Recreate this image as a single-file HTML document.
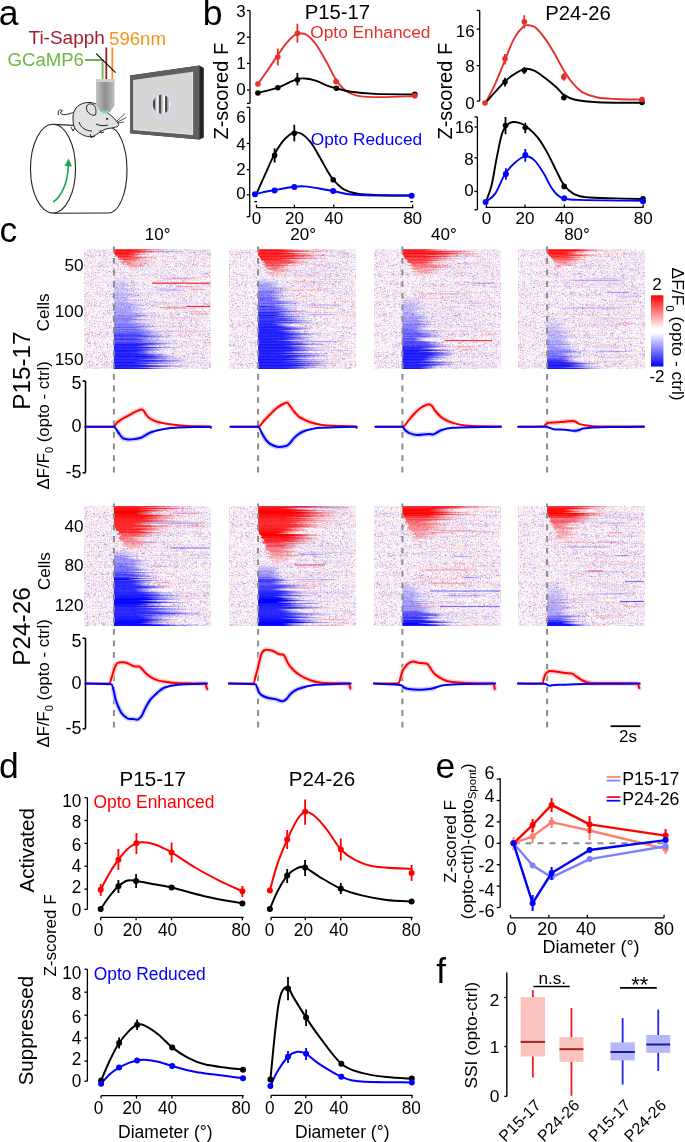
<!DOCTYPE html>
<html><head><meta charset="utf-8"><title>Figure</title>
<style>html,body{margin:0;padding:0;background:#fff;}svg{display:block;}text{font-family:"Liberation Sans",sans-serif;}</style>
</head><body>
<svg style="will-change:transform" width="685" height="1142" viewBox="0 0 685 1142" font-family="Liberation Sans, sans-serif">
<rect width="685" height="1142" fill="#fff"/>
<text x="-1.2" y="25.3" font-size="35.5" fill="#000" text-anchor="start">a</text>
<text x="28.5" y="44.3" font-size="19" fill="#a01f2a" text-anchor="start">Ti-Sapph</text>
<text x="109.1" y="44.5" font-size="18.6" fill="#f7941d" text-anchor="start">596nm</text>
<text x="7.5" y="66.3" font-size="18.6" fill="#6cb845" text-anchor="start">GCaMP6</text>
<polyline points="85,60 102.6,60 102.6,79" fill="none" stroke="#6cb845" stroke-width="1.8"/>
<line x1="106.3" y1="47.5" x2="106.3" y2="79" stroke="#9e1b24" stroke-width="1.8"/>
<line x1="112.3" y1="47.5" x2="112.3" y2="79" stroke="#f7941d" stroke-width="1.8"/>
<line x1="96.2" y1="53.7" x2="115.6" y2="72.7" stroke="#000" stroke-width="1.1"/>
<path d="M130 75.5 L199.5 65.6 L203.8 68 L203.8 137.6 L199.5 139.4 L130 133.2 Z" fill="#232323"/>
<path d="M130 75.5 L199.5 65.6 L199.5 139.4 L130 133.2 Z" fill="#5f5f5f"/>
<path d="M133.1 79.9 L192.6 71.8 L192.6 134.5 L133.1 129.5 Z" fill="#d6d6d6"/>
<rect x="152" y="93.8" width="21" height="21.8" fill="#d9d2ea"/>
<defs><clipPath id="gclip"><ellipse cx="161.6" cy="104.2" rx="8.9" ry="9.6"/></clipPath></defs>
<g clip-path="url(#gclip)"><rect x="152" y="94" width="21" height="21" fill="#f4f4f4"/><rect x="152.6" y="94" width="2.6" height="21" fill="#4c4c4c"/><rect x="158.8" y="94" width="2.6" height="21" fill="#4c4c4c"/><rect x="165" y="94" width="2.6" height="21" fill="#4c4c4c"/><rect x="171.2" y="94" width="2.6" height="21" fill="#4c4c4c"/><rect x="155.2" y="94" width="1.2" height="21" fill="#a8a8a8"/><rect x="161.4" y="94" width="1.2" height="21" fill="#a8a8a8"/><rect x="167.6" y="94" width="1.2" height="21" fill="#a8a8a8"/></g>
<path d="M192.6 71.8 L192.6 134.5 L133.1 129.5" fill="none" stroke="#f2f2f2" stroke-width="0.9"/>
<path d="M53 124.4 L108.5 127 A18.5 43 0 0 1 108.5 213 L54 213.2" fill="#fff" stroke="#222" stroke-width="1.1"/>
<ellipse cx="53" cy="168.7" rx="22.5" ry="44.4" fill="#fff" stroke="#222" stroke-width="1.1"/>
<path d="M53.3 202 C62 196 68 182 68.3 165" fill="none" stroke="#1aa84f" stroke-width="1.6"/>
<path d="M64.5 166 L68.5 158.5 L72 166.5 Z" fill="#1aa84f"/>
<g stroke="#111" stroke-width="0.9" fill="#e2e2e2" stroke-linejoin="round"><path d="M58.5 115 C57 110 61 108.5 62.5 111 C60.5 111 60 113 61.5 114.2 C64 115.5 69 114 73 112.5" fill="none"/><path d="M73 120 C72 108 80 102 90 102.5 C96 102.8 100 106 103 110 C108 113 114 117 118 123 C119.5 125 118 127 115.5 127 C112 128.5 109 128 106 129 C100 131 96 136 92 136.5 C86 137.5 80 134 77 131 C74 128 73 124 73 120 Z"/><path d="M86.5 109 C86 104 90 103 93 104.5 C96 106 96.5 111 95.5 115 C92 116 87.5 113.5 86.5 109 Z"/><path d="M79 122 C81 128 86 131 92 131" fill="none"/><path d="M96 124 C100 126 104 126 108 125" fill="none"/><path d="M71 127 L73 131 L75 128" fill="none"/><path d="M90 134 L91 137.5 L95 136" fill="none"/><path d="M100 130 L101 133 L104 132" fill="none"/></g>
<ellipse cx="107" cy="118.8" rx="1.2" ry="0.9" fill="#111"/>
<g stroke="#111" stroke-width="0.7"><line x1="117" y1="121" x2="125" y2="113.5"/><line x1="117.5" y1="122" x2="126.5" y2="117.5"/><line x1="117.5" y1="123" x2="124" y2="122"/></g>
<defs><linearGradient id="objg" x1="0" x2="1" y1="0" y2="0"><stop offset="0" stop-color="#c4c4c4"/><stop offset="0.5" stop-color="#8e8e8e"/><stop offset="1" stop-color="#c0c0c0"/></linearGradient><linearGradient id="objv" x1="0" x2="0" y1="0" y2="1"><stop offset="0" stop-color="#fff" stop-opacity="0.25"/><stop offset="0.15" stop-color="#fff" stop-opacity="0"/><stop offset="1" stop-color="#fff" stop-opacity="0"/></linearGradient></defs>
<path d="M96 79 H114.5 V105.5 L110 112 H101 L96 105.5 Z" fill="url(#objg)"/>
<path d="M96 79 H114.5 V82 H96 Z" fill="#d0d0d0"/>
<path d="M101.5 110.5 H109.5 L108.5 113.5 H102.5 Z" fill="#7ccfd6"/>
<text x="202.7" y="25.1" font-size="35.5" fill="#000" text-anchor="start">b</text>
<text x="228.2" y="91.2" font-size="20" fill="#000" text-anchor="middle" transform="rotate(-90 228.2 91.2)">Z-scored F</text>
<text x="452.4" y="91.2" font-size="20" fill="#000" text-anchor="middle" transform="rotate(-90 452.4 91.2)">Z-scored F</text>
<text x="304.7" y="19.2" font-size="20.3" fill="#000" text-anchor="start">P15-17</text>
<text x="545.3" y="19.5" font-size="20.3" fill="#000" text-anchor="start">P24-26</text>
<text x="310.3" y="37.6" font-size="17.3" fill="#e8302a" text-anchor="start">Opto Enhanced</text>
<text x="310.7" y="144.6" font-size="17.3" fill="#0000ff" text-anchor="start">Opto Reduced</text>
<line x1="250" y1="10.5" x2="250" y2="103.4" stroke="#000" stroke-width="1.3"/>
<line x1="247" y1="10.5" x2="250" y2="10.5" stroke="#000" stroke-width="1.3"/>
<line x1="247" y1="37.2" x2="250" y2="37.2" stroke="#000" stroke-width="1.3"/>
<line x1="247" y1="63.4" x2="250" y2="63.4" stroke="#000" stroke-width="1.3"/>
<line x1="247" y1="90" x2="250" y2="90" stroke="#000" stroke-width="1.3"/>
<line x1="247" y1="103.4" x2="250" y2="103.4" stroke="#000" stroke-width="1.3"/>
<text x="245.7" y="17" font-size="17" fill="#000" text-anchor="end">3</text>
<text x="245.7" y="43.6" font-size="17" fill="#000" text-anchor="end">2</text>
<text x="245.7" y="68.9" font-size="17" fill="#000" text-anchor="end">1</text>
<text x="245.7" y="95.2" font-size="17" fill="#000" text-anchor="end">0</text>
<path d="M257.8 84.1 C259.27 82.05 263.38 76.47 266.6 71.8 C269.82 67.13 273.9 60.77 277.1 56.1 C280.3 51.43 282.88 47.32 285.8 43.8 C288.72 40.28 292.25 36.75 294.6 35 C296.95 33.25 297.85 33.3 299.9 33.3 C301.95 33.3 304.28 33.25 306.9 35 C309.52 36.75 312.4 39.42 315.6 43.8 C318.8 48.18 322.6 55.17 326.1 61.3 C329.6 67.43 333.08 75.52 336.6 80.6 C340.12 85.68 343.1 89.17 347.2 91.8 C351.3 94.43 355.37 95.52 361.2 96.4 C367.03 97.28 373.33 97.13 382.2 97.1 C391.07 97.07 409.03 96.35 414.4 96.2" fill="none" stroke="#e8302a" stroke-width="1.9" stroke-linecap="round" stroke-linejoin="round"/>
<path d="M257.8 92.9 C261.13 92.02 272.55 89.37 277.8 87.6 C283.05 85.83 285.92 83.77 289.3 82.3 C292.68 80.83 295.47 79.43 298.1 78.8 C300.73 78.17 302.18 78.2 305.1 78.5 C308.02 78.8 311.8 79.38 315.6 80.6 C319.4 81.82 324.4 84.52 327.9 85.8 C331.4 87.08 332.8 87.3 336.6 88.3 C340.4 89.3 344.27 90.87 350.7 91.8 C357.13 92.73 364.58 93.47 375.2 93.9 C385.82 94.33 407.87 94.32 414.4 94.4" fill="none" stroke="#000" stroke-width="1.9" stroke-linecap="round" stroke-linejoin="round"/>
<line x1="277.8" y1="48.4" x2="277.8" y2="65.5" stroke="#e8302a" stroke-width="1.8"/>
<line x1="297.4" y1="23.7" x2="297.4" y2="42.7" stroke="#e8302a" stroke-width="1.8"/>
<line x1="336" y1="78.5" x2="336" y2="84" stroke="#e8302a" stroke-width="1.8"/>
<line x1="297.4" y1="73" x2="297.4" y2="85.4" stroke="#000" stroke-width="1.8"/>
<circle cx="257.9" cy="93" r="2.8" fill="#000"/>
<circle cx="277.8" cy="87.7" r="2.8" fill="#000"/>
<circle cx="297.4" cy="79.7" r="2.8" fill="#000"/>
<circle cx="336.4" cy="88.3" r="2.8" fill="#000"/>
<circle cx="414.8" cy="94.3" r="2.8" fill="#000"/>
<circle cx="257.9" cy="84" r="2.8" fill="#e8302a"/>
<circle cx="277.8" cy="57" r="2.8" fill="#e8302a"/>
<circle cx="297.4" cy="33.2" r="2.8" fill="#e8302a"/>
<circle cx="336" cy="81.6" r="2.8" fill="#e8302a"/>
<circle cx="414.8" cy="95.8" r="2.8" fill="#e8302a"/>
<line x1="249.7" y1="107.3" x2="249.7" y2="216.7" stroke="#000" stroke-width="1.3"/>
<line x1="246.7" y1="107.3" x2="249.7" y2="107.3" stroke="#000" stroke-width="1.3"/>
<line x1="246.7" y1="143.5" x2="249.7" y2="143.5" stroke="#000" stroke-width="1.3"/>
<line x1="246.7" y1="169.7" x2="249.7" y2="169.7" stroke="#000" stroke-width="1.3"/>
<line x1="246.7" y1="194.8" x2="249.7" y2="194.8" stroke="#000" stroke-width="1.3"/>
<line x1="246.7" y1="216.7" x2="249.7" y2="216.7" stroke="#000" stroke-width="1.3"/>
<text x="245.7" y="123.4" font-size="17" fill="#000" text-anchor="end">6</text>
<text x="245.7" y="149.7" font-size="17" fill="#000" text-anchor="end">4</text>
<text x="245.7" y="174.9" font-size="17" fill="#000" text-anchor="end">2</text>
<text x="245.7" y="198.6" font-size="17" fill="#000" text-anchor="end">0</text>
<line x1="256.3" y1="207.6" x2="413.3" y2="207.6" stroke="#000" stroke-width="1.3"/>
<line x1="256.5" y1="204.6" x2="256.5" y2="207.6" stroke="#000" stroke-width="1.3"/>
<line x1="294.4" y1="204.6" x2="294.4" y2="207.6" stroke="#000" stroke-width="1.3"/>
<line x1="333.8" y1="204.6" x2="333.8" y2="207.6" stroke="#000" stroke-width="1.3"/>
<line x1="412.6" y1="204.6" x2="412.6" y2="207.6" stroke="#000" stroke-width="1.3"/>
<text x="256.5" y="224.3" font-size="17" fill="#000" text-anchor="middle">0</text>
<text x="294.4" y="224.3" font-size="17" fill="#000" text-anchor="middle">20</text>
<text x="333.8" y="224.3" font-size="17" fill="#000" text-anchor="middle">40</text>
<text x="412.6" y="224.3" font-size="17" fill="#000" text-anchor="middle">80</text>
<path d="M256.1 194.5 C257.55 191.28 261.88 181.63 264.8 175.2 C267.72 168.77 270.68 161.45 273.6 155.9 C276.52 150.35 279.68 145.4 282.3 141.9 C284.92 138.4 287.25 136.48 289.3 134.9 C291.35 133.32 292.55 132.58 294.6 132.4 C296.65 132.22 298.97 132.22 301.6 133.8 C304.23 135.38 307.48 138.22 310.4 141.9 C313.32 145.58 316.18 150.93 319.1 155.9 C322.02 160.87 325.57 167.78 327.9 171.7 C330.23 175.62 330.47 176.48 333.1 179.4 C335.73 182.32 339.6 186.8 343.7 189.2 C347.8 191.6 351.28 192.8 357.7 193.8 C364.12 194.8 373.15 194.92 382.2 195.2 C391.25 195.48 407.03 195.45 412 195.5" fill="none" stroke="#000" stroke-width="1.9" stroke-linecap="round" stroke-linejoin="round"/>
<path d="M256.1 193.8 C259.02 193.22 267.3 191.47 273.6 190.3 C279.9 189.13 288.65 187.45 293.9 186.8 C299.15 186.15 300.9 186.12 305.1 186.4 C309.3 186.68 314.43 187.73 319.1 188.5 C323.77 189.27 327.83 190 333.1 191 C338.37 192 343.68 193.75 350.7 194.5 C357.72 195.25 364.98 195.33 375.2 195.5 C385.42 195.67 405.87 195.5 412 195.5" fill="none" stroke="#0000ff" stroke-width="1.9" stroke-linecap="round" stroke-linejoin="round"/>
<line x1="274.6" y1="148.4" x2="274.6" y2="162.6" stroke="#000" stroke-width="1.8"/>
<line x1="294.3" y1="124.7" x2="294.3" y2="141.4" stroke="#000" stroke-width="1.8"/>
<line x1="254.3" y1="201.6" x2="257" y2="201.6" stroke="#000" stroke-width="1.3"/>
<line x1="410.3" y1="201.6" x2="413" y2="201.6" stroke="#000" stroke-width="1.3"/>
<circle cx="274.6" cy="155.4" r="2.8" fill="#000"/>
<circle cx="294.3" cy="133.2" r="2.8" fill="#000"/>
<circle cx="333.2" cy="179.7" r="2.8" fill="#000"/>
<circle cx="255" cy="194.3" r="3" fill="#0000ff"/>
<circle cx="274.6" cy="190.5" r="3" fill="#0000ff"/>
<circle cx="294.3" cy="187" r="3" fill="#0000ff"/>
<circle cx="333.2" cy="191.1" r="3" fill="#0000ff"/>
<circle cx="411.6" cy="195.8" r="3" fill="#0000ff"/>
<line x1="479.7" y1="10.5" x2="479.7" y2="101.1" stroke="#000" stroke-width="1.3"/>
<line x1="476.7" y1="10.5" x2="479.7" y2="10.5" stroke="#000" stroke-width="1.3"/>
<line x1="476.7" y1="29.1" x2="479.7" y2="29.1" stroke="#000" stroke-width="1.3"/>
<line x1="476.7" y1="65.7" x2="479.7" y2="65.7" stroke="#000" stroke-width="1.3"/>
<line x1="476.7" y1="101.1" x2="479.7" y2="101.1" stroke="#000" stroke-width="1.3"/>
<text x="474.6" y="36.7" font-size="17" fill="#000" text-anchor="end">16</text>
<text x="474.6" y="71.7" font-size="17" fill="#000" text-anchor="end">8</text>
<text x="474.6" y="109.1" font-size="17" fill="#000" text-anchor="end">0</text>
<path d="M485.8 102.4 C487.37 99.3 492.08 90.63 495.2 83.8 C498.32 76.97 501.4 68.85 504.5 61.4 C507.6 53.95 510.7 44.87 513.8 39.1 C516.9 33.33 520.62 29.1 523.1 26.8 C525.58 24.5 526.53 25.12 528.7 25.3 C530.87 25.48 533.32 25.6 536.1 27.9 C538.88 30.2 542.3 34.75 545.4 39.1 C548.5 43.45 551.6 48.73 554.7 54 C557.8 59.27 560.9 65.73 564 70.7 C567.1 75.67 570.2 80.2 573.3 83.8 C576.4 87.4 578.57 90.02 582.6 92.3 C586.63 94.58 591.92 96.38 597.5 97.5 C603.08 98.62 608.65 98.65 616.1 99 C623.55 99.35 637.85 99.5 642.2 99.6" fill="none" stroke="#e8302a" stroke-width="1.9" stroke-linecap="round" stroke-linejoin="round"/>
<path d="M485.8 102.4 C488.92 98.98 499.83 86.55 504.5 81.9 C509.17 77.25 510.4 76.67 513.8 74.5 C517.2 72.33 521.5 69.53 524.9 68.9 C528.3 68.27 530.78 69.15 534.2 70.7 C537.62 72.25 541.67 75.4 545.4 78.2 C549.13 81 553.5 84.72 556.6 87.5 C559.7 90.28 560.9 92.85 564 94.9 C567.1 96.95 569.62 98.58 575.2 99.8 C580.78 101.02 586.33 101.7 597.5 102.2 C608.67 102.7 634.75 102.7 642.2 102.8" fill="none" stroke="#000" stroke-width="1.9" stroke-linecap="round" stroke-linejoin="round"/>
<line x1="505" y1="54" x2="505" y2="64.5" stroke="#e8302a" stroke-width="1.8"/>
<line x1="524.3" y1="15.2" x2="524.3" y2="28.5" stroke="#e8302a" stroke-width="1.8"/>
<line x1="563.8" y1="73" x2="563.8" y2="80.7" stroke="#e8302a" stroke-width="1.8"/>
<line x1="505" y1="77.8" x2="505" y2="86.4" stroke="#000" stroke-width="1.8"/>
<line x1="524.3" y1="67.4" x2="524.3" y2="74" stroke="#000" stroke-width="1.8"/>
<circle cx="505" cy="82" r="2.8" fill="#000"/>
<circle cx="524.3" cy="70.2" r="2.8" fill="#000"/>
<circle cx="563.8" cy="97.7" r="2.8" fill="#000"/>
<circle cx="642" cy="102.5" r="2.8" fill="#000"/>
<circle cx="485" cy="103" r="2.8" fill="#e8302a"/>
<circle cx="505" cy="58.8" r="2.8" fill="#e8302a"/>
<circle cx="524.3" cy="21.8" r="2.8" fill="#e8302a"/>
<circle cx="563.8" cy="76.9" r="2.8" fill="#e8302a"/>
<circle cx="642" cy="99.6" r="2.8" fill="#e8302a"/>
<line x1="477.4" y1="116.9" x2="477.4" y2="209.8" stroke="#000" stroke-width="1.3"/>
<line x1="474.4" y1="116.9" x2="477.4" y2="116.9" stroke="#000" stroke-width="1.3"/>
<line x1="474.4" y1="127" x2="477.4" y2="127" stroke="#000" stroke-width="1.3"/>
<line x1="474.4" y1="157.8" x2="477.4" y2="157.8" stroke="#000" stroke-width="1.3"/>
<line x1="474.4" y1="191.4" x2="477.4" y2="191.4" stroke="#000" stroke-width="1.3"/>
<line x1="474.4" y1="209.8" x2="477.4" y2="209.8" stroke="#000" stroke-width="1.3"/>
<text x="473.7" y="133" font-size="17" fill="#000" text-anchor="end">16</text>
<text x="473.7" y="164.7" font-size="17" fill="#000" text-anchor="end">8</text>
<text x="473.7" y="196.1" font-size="17" fill="#000" text-anchor="end">0</text>
<line x1="485.6" y1="207.4" x2="643.5" y2="207.4" stroke="#000" stroke-width="1.3"/>
<line x1="486.4" y1="204.4" x2="486.4" y2="207.4" stroke="#000" stroke-width="1.3"/>
<line x1="525" y1="204.4" x2="525" y2="207.4" stroke="#000" stroke-width="1.3"/>
<line x1="564.4" y1="204.4" x2="564.4" y2="207.4" stroke="#000" stroke-width="1.3"/>
<line x1="643.2" y1="204.4" x2="643.2" y2="207.4" stroke="#000" stroke-width="1.3"/>
<text x="486.4" y="224.3" font-size="17" fill="#000" text-anchor="middle">0</text>
<text x="525" y="224.3" font-size="17" fill="#000" text-anchor="middle">20</text>
<text x="564.4" y="224.3" font-size="17" fill="#000" text-anchor="middle">40</text>
<text x="643.2" y="224.3" font-size="17" fill="#000" text-anchor="middle">80</text>
<path d="M485.8 201.8 C486.73 199.18 489.53 193.67 491.4 186.1 C493.27 178.53 495.13 165.38 497 156.4 C498.87 147.42 500.43 137.78 502.6 132.2 C504.77 126.62 507.2 124.45 510 122.9 C512.8 121.35 516.28 121.98 519.4 122.9 C522.52 123.82 525.6 125.92 528.7 128.4 C531.8 130.88 534.9 133.77 538 137.8 C541.1 141.83 544.2 147.02 547.3 152.6 C550.4 158.18 553.82 165.9 556.6 171.3 C559.38 176.7 561.22 181.28 564 185 C566.78 188.72 569.57 191.55 573.3 193.6 C577.03 195.65 579.27 196.5 586.4 197.3 C593.53 198.1 606.8 198.12 616.1 198.4 C625.4 198.68 637.85 198.9 642.2 199" fill="none" stroke="#000" stroke-width="1.9" stroke-linecap="round" stroke-linejoin="round"/>
<path d="M485.8 201.8 C487.37 200.43 492.08 198.07 495.2 193.6 C498.32 189.13 501.4 179.97 504.5 175 C507.6 170.03 510.4 166.9 513.8 163.8 C517.2 160.7 521.5 157.02 524.9 156.4 C528.3 155.78 531.1 157.32 534.2 160.1 C537.3 162.88 540.38 168.13 543.5 173.1 C546.62 178.07 549.78 185.73 552.9 189.9 C556.02 194.07 557.87 196.43 562.2 198.1 C566.53 199.77 565.57 199.45 578.9 199.9 C592.23 200.35 631.65 200.65 642.2 200.8" fill="none" stroke="#0000ff" stroke-width="1.9" stroke-linecap="round" stroke-linejoin="round"/>
<line x1="505.5" y1="117" x2="505.5" y2="134.2" stroke="#000" stroke-width="1.8"/>
<line x1="525.3" y1="122.8" x2="525.3" y2="133.2" stroke="#000" stroke-width="1.8"/>
<line x1="505.9" y1="168.3" x2="505.9" y2="179.7" stroke="#0000ff" stroke-width="1.8"/>
<line x1="525.3" y1="149" x2="525.3" y2="161.7" stroke="#0000ff" stroke-width="1.8"/>
<circle cx="505.5" cy="125.6" r="2.8" fill="#000"/>
<circle cx="525.3" cy="127.5" r="2.8" fill="#000"/>
<circle cx="564.2" cy="186.4" r="2.8" fill="#000"/>
<circle cx="643" cy="198.7" r="2.8" fill="#000"/>
<circle cx="485.6" cy="201.9" r="3" fill="#0000ff"/>
<circle cx="505.9" cy="174" r="3" fill="#0000ff"/>
<circle cx="525.3" cy="155" r="3" fill="#0000ff"/>
<circle cx="564.2" cy="198.3" r="3" fill="#0000ff"/>
<circle cx="643" cy="201.2" r="3" fill="#0000ff"/>
<text x="-0.4" y="242.4" font-size="35.5" fill="#000" text-anchor="start">c</text>
<text x="157.7" y="240.2" font-size="17" fill="#000" text-anchor="middle">10°</text>
<text x="303.2" y="240.2" font-size="17" fill="#000" text-anchor="middle">20°</text>
<text x="443.9" y="240.2" font-size="17" fill="#000" text-anchor="middle">40°</text>
<text x="577" y="240.2" font-size="17" fill="#000" text-anchor="middle">80°</text>
<defs><linearGradient id="rf" x1="0" x2="1" y1="0" y2="0"><stop offset="0" stop-color="#ff0000" stop-opacity="1"/><stop offset="0.5" stop-color="#ff0000" stop-opacity="1"/><stop offset="0.75" stop-color="#ff0000" stop-opacity="0.4"/><stop offset="1" stop-color="#ff0000" stop-opacity="0"/></linearGradient><linearGradient id="bf" x1="0" x2="1" y1="0" y2="0"><stop offset="0" stop-color="#0000ff" stop-opacity="1"/><stop offset="0.5" stop-color="#0000ff" stop-opacity="1"/><stop offset="0.75" stop-color="#0000ff" stop-opacity="0.4"/><stop offset="1" stop-color="#0000ff" stop-opacity="0"/></linearGradient><linearGradient id="rs" x1="0" x2="1" y1="0" y2="0"><stop offset="0" stop-color="#ff2020" stop-opacity="0"/><stop offset="0.2" stop-color="#ff2020" stop-opacity="1"/><stop offset="0.8" stop-color="#ff2020" stop-opacity="1"/><stop offset="1" stop-color="#ff2020" stop-opacity="0"/></linearGradient><linearGradient id="bs" x1="0" x2="1" y1="0" y2="0"><stop offset="0" stop-color="#2020ff" stop-opacity="0"/><stop offset="0.2" stop-color="#2020ff" stop-opacity="1"/><stop offset="0.8" stop-color="#2020ff" stop-opacity="1"/><stop offset="1" stop-color="#2020ff" stop-opacity="0"/></linearGradient><filter id="hblur" x="-2%" y="-2%" width="104%" height="104%"><feGaussianBlur stdDeviation="0.45"/></filter><filter id="nzf" x="0" y="0" width="100%" height="100%" color-interpolation-filters="sRGB"><feTurbulence type="fractalNoise" baseFrequency="0.45 0.9" numOctaves="2" seed="4" result="n"/><feColorMatrix in="n" type="matrix" values="0.75 -0.75 0 0 0.5  0.75 -0.75 0 0 0.5  0.75 -0.75 0 0 0.5  0 0 0 0 1"/><feComponentTransfer><feFuncR type="table" tableValues="0.5 1 1"/><feFuncG type="table" tableValues="0.5 1 0.5"/><feFuncB type="table" tableValues="1 1 0.5"/></feComponentTransfer></filter></defs>
<g filter="url(#hblur)"><rect x="84.3" y="249.3" width="126.1" height="119.5" fill="#fff" filter="url(#nzf)"/><rect x="113.9" y="249.3" width="56.11" height="0.9" fill="url(#rf)" fill-opacity="1"/><rect x="157.83" y="249.3" width="35.01" height="0.85" fill="#ff3030" fill-opacity="0.08"/><rect x="113.9" y="250.05" width="35.37" height="0.9" fill="url(#rf)" fill-opacity="1"/><rect x="183.93" y="250.05" width="21.42" height="0.85" fill="#ff3030" fill-opacity="0.12"/><rect x="113.9" y="250.79" width="53.59" height="0.9" fill="url(#rf)" fill-opacity="1"/><rect x="159.6" y="250.79" width="12.43" height="0.85" fill="#ff3030" fill-opacity="0.06"/><rect x="149.39" y="250.79" width="35.27" height="0.95" fill="url(#bs)" fill-opacity="0.28"/><rect x="113.9" y="251.54" width="46.98" height="0.9" fill="url(#rf)" fill-opacity="1"/><rect x="137.96" y="251.54" width="72.29" height="0.85" fill="#3030ff" fill-opacity="0.11"/><rect x="113.9" y="252.29" width="35.46" height="0.9" fill="url(#rf)" fill-opacity="0.98"/><rect x="180.18" y="252.29" width="18.09" height="0.85" fill="#3030ff" fill-opacity="0.07"/><rect x="114.29" y="253.03" width="26.01" height="0.9" fill="url(#rf)" fill-opacity="1"/><rect x="114.73" y="253.78" width="36.74" height="0.9" fill="url(#rf)" fill-opacity="1"/><rect x="115.59" y="254.53" width="25.17" height="0.9" fill="url(#rf)" fill-opacity="0.89"/><rect x="115.76" y="255.28" width="27.97" height="0.9" fill="url(#rf)" fill-opacity="0.83"/><rect x="182.84" y="255.28" width="13.12" height="0.85" fill="#3030ff" fill-opacity="0.08"/><rect x="117.6" y="256.02" width="22.27" height="0.9" fill="url(#rf)" fill-opacity="0.9"/><rect x="150.3" y="256.02" width="20.67" height="0.85" fill="#ff3030" fill-opacity="0.12"/><rect x="117.1" y="256.77" width="40.94" height="0.9" fill="url(#rf)" fill-opacity="0.68"/><rect x="187.8" y="256.77" width="18.08" height="0.85" fill="#ff3030" fill-opacity="0.12"/><rect x="118.07" y="257.52" width="36.76" height="0.9" fill="url(#rf)" fill-opacity="0.62"/><rect x="120.25" y="257.52" width="17.22" height="0.85" fill="#3030ff" fill-opacity="0.06"/><rect x="121.24" y="258.26" width="26.59" height="0.9" fill="url(#rf)" fill-opacity="0.61"/><rect x="163.6" y="258.26" width="41.89" height="0.85" fill="#ff3030" fill-opacity="0.05"/><rect x="118.68" y="259.01" width="22.38" height="0.9" fill="url(#rf)" fill-opacity="0.71"/><rect x="122.76" y="259.76" width="35.92" height="0.9" fill="url(#rf)" fill-opacity="0.46"/><rect x="124.12" y="260.5" width="13.76" height="0.9" fill="url(#rf)" fill-opacity="0.4"/><rect x="174.85" y="260.5" width="16.57" height="0.85" fill="#3030ff" fill-opacity="0.09"/><rect x="119.59" y="261.25" width="30.54" height="0.9" fill="url(#rf)" fill-opacity="0.38"/><rect x="162.29" y="261.25" width="42.49" height="0.85" fill="#3030ff" fill-opacity="0.06"/><rect x="121.41" y="262" width="13.73" height="0.9" fill="url(#rf)" fill-opacity="0.35"/><rect x="119.13" y="262" width="24.32" height="0.85" fill="#ff3030" fill-opacity="0.09"/><rect x="127.12" y="262.74" width="28.66" height="0.9" fill="url(#rf)" fill-opacity="0.34"/><rect x="120.79" y="263.49" width="15.66" height="0.9" fill="url(#rf)" fill-opacity="0.34"/><rect x="192.63" y="263.49" width="15.44" height="0.85" fill="#3030ff" fill-opacity="0.04"/><rect x="123.59" y="264.24" width="25.4" height="0.9" fill="url(#rf)" fill-opacity="0.29"/><rect x="129.31" y="264.98" width="21.83" height="0.9" fill="url(#rf)" fill-opacity="0.25"/><rect x="125.13" y="265.73" width="25.99" height="0.9" fill="url(#rf)" fill-opacity="0.24"/><rect x="130.08" y="266.48" width="10.78" height="0.9" fill="url(#rf)" fill-opacity="0.21"/><rect x="128.79" y="267.23" width="7.43" height="0.9" fill="url(#rf)" fill-opacity="0.15"/><rect x="132.78" y="267.97" width="7.87" height="0.9" fill="url(#rf)" fill-opacity="0.12"/><rect x="128.68" y="268.72" width="4" height="0.9" fill="url(#rf)" fill-opacity="0.08"/><rect x="131.28" y="269.47" width="4" height="0.9" fill="url(#rf)" fill-opacity="0.05"/><rect x="133.81" y="269.47" width="56.5" height="0.85" fill="#3030ff" fill-opacity="0.09"/><rect x="114.88" y="270.21" width="35.74" height="0.85" fill="#3030ff" fill-opacity="0.06"/><rect x="191.03" y="271.71" width="13.06" height="0.85" fill="#3030ff" fill-opacity="0.06"/><rect x="141.28" y="273.95" width="18.05" height="0.85" fill="#3030ff" fill-opacity="0.11"/><rect x="128.53" y="275.44" width="42.39" height="0.85" fill="#ff3030" fill-opacity="0.06"/><rect x="113.9" y="276.93" width="20.9" height="0.9" fill="url(#bf)" fill-opacity="0.02"/><rect x="113.9" y="277.68" width="10.98" height="0.9" fill="url(#bf)" fill-opacity="0.02"/><rect x="168.11" y="277.68" width="30.57" height="0.95" fill="url(#rs)" fill-opacity="0.35"/><rect x="113.9" y="278.43" width="12.79" height="0.9" fill="url(#bf)" fill-opacity="0.03"/><rect x="116.04" y="278.43" width="79.99" height="0.85" fill="#ff3030" fill-opacity="0.05"/><rect x="162.03" y="278.43" width="29.9" height="0.95" fill="url(#bs)" fill-opacity="0.31"/><rect x="113.9" y="279.18" width="24.83" height="0.9" fill="url(#bf)" fill-opacity="0.05"/><rect x="113.9" y="279.92" width="14.27" height="0.9" fill="url(#bf)" fill-opacity="0.06"/><rect x="154.75" y="279.92" width="42.61" height="0.85" fill="#ff3030" fill-opacity="0.06"/><rect x="113.9" y="280.67" width="19.85" height="0.9" fill="url(#bf)" fill-opacity="0.07"/><rect x="113.9" y="281.42" width="24.66" height="0.9" fill="url(#bf)" fill-opacity="0.07"/><rect x="113.9" y="282.16" width="24.28" height="0.9" fill="url(#bf)" fill-opacity="0.1"/><rect x="153.13" y="282.16" width="39.57" height="0.85" fill="#3030ff" fill-opacity="0.07"/><rect x="113.9" y="282.91" width="26.2" height="0.9" fill="url(#bf)" fill-opacity="0.11"/><rect x="113.9" y="283.66" width="16.95" height="0.9" fill="url(#bf)" fill-opacity="0.11"/><rect x="113.9" y="284.4" width="26.29" height="0.9" fill="url(#bf)" fill-opacity="0.12"/><rect x="191.75" y="284.4" width="18.48" height="0.85" fill="#3030ff" fill-opacity="0.08"/><rect x="113.9" y="285.15" width="30.22" height="0.9" fill="url(#bf)" fill-opacity="0.11"/><rect x="113.9" y="285.9" width="22.23" height="0.9" fill="url(#bf)" fill-opacity="0.09"/><rect x="180.35" y="285.9" width="19.77" height="0.85" fill="#ff3030" fill-opacity="0.1"/><rect x="175.09" y="285.9" width="18.51" height="0.95" fill="url(#rs)" fill-opacity="0.35"/><rect x="113.9" y="286.64" width="17.23" height="0.9" fill="url(#bf)" fill-opacity="0.1"/><rect x="176.49" y="286.64" width="30.09" height="0.85" fill="#3030ff" fill-opacity="0.12"/><rect x="113.9" y="287.39" width="16.31" height="0.9" fill="url(#bf)" fill-opacity="0.16"/><rect x="159.46" y="287.39" width="21.88" height="0.85" fill="#3030ff" fill-opacity="0.09"/><rect x="113.9" y="288.14" width="25.36" height="0.9" fill="url(#bf)" fill-opacity="0.16"/><rect x="146.88" y="288.14" width="55.24" height="0.85" fill="#3030ff" fill-opacity="0.06"/><rect x="113.9" y="288.88" width="25.02" height="0.9" fill="url(#bf)" fill-opacity="0.17"/><rect x="131.28" y="288.88" width="47.04" height="0.85" fill="#3030ff" fill-opacity="0.09"/><rect x="188.06" y="288.88" width="18.79" height="0.95" fill="url(#rs)" fill-opacity="0.35"/><rect x="113.9" y="289.63" width="24.7" height="0.9" fill="url(#bf)" fill-opacity="0.14"/><rect x="155.11" y="289.63" width="31.67" height="0.95" fill="url(#bs)" fill-opacity="0.38"/><rect x="113.9" y="290.38" width="24.67" height="0.9" fill="url(#bf)" fill-opacity="0.13"/><rect x="151.41" y="290.38" width="49.96" height="0.85" fill="#3030ff" fill-opacity="0.08"/><rect x="113.9" y="291.12" width="27.82" height="0.9" fill="url(#bf)" fill-opacity="0.12"/><rect x="113.9" y="291.87" width="16.35" height="0.9" fill="url(#bf)" fill-opacity="0.17"/><rect x="133.56" y="291.87" width="55.92" height="0.85" fill="#ff3030" fill-opacity="0.07"/><rect x="113.9" y="292.62" width="30.79" height="0.9" fill="url(#bf)" fill-opacity="0.12"/><rect x="158.06" y="292.62" width="20.61" height="0.85" fill="#ff3030" fill-opacity="0.08"/><rect x="113.9" y="293.37" width="24.7" height="0.9" fill="url(#bf)" fill-opacity="0.15"/><rect x="127.72" y="293.37" width="24.85" height="0.85" fill="#3030ff" fill-opacity="0.09"/><rect x="113.9" y="294.11" width="29.08" height="0.9" fill="url(#bf)" fill-opacity="0.19"/><rect x="113.9" y="294.86" width="33.56" height="0.9" fill="url(#bf)" fill-opacity="0.19"/><rect x="113.9" y="295.61" width="36.32" height="0.9" fill="url(#bf)" fill-opacity="0.15"/><rect x="200.26" y="295.61" width="10.13" height="0.85" fill="#ff3030" fill-opacity="0.06"/><rect x="113.9" y="296.35" width="19.13" height="0.9" fill="url(#bf)" fill-opacity="0.15"/><rect x="113.9" y="297.1" width="19.98" height="0.9" fill="url(#bf)" fill-opacity="0.21"/><rect x="173.17" y="297.1" width="10.48" height="0.85" fill="#ff3030" fill-opacity="0.09"/><rect x="113.9" y="297.85" width="19.97" height="0.9" fill="url(#bf)" fill-opacity="0.23"/><rect x="179.48" y="297.85" width="20.52" height="0.85" fill="#3030ff" fill-opacity="0.06"/><rect x="113.9" y="298.59" width="18.47" height="0.9" fill="url(#bf)" fill-opacity="0.15"/><rect x="158.43" y="298.59" width="33.87" height="0.85" fill="#ff3030" fill-opacity="0.05"/><rect x="113.9" y="299.34" width="39.93" height="0.9" fill="url(#bf)" fill-opacity="0.23"/><rect x="113.9" y="300.09" width="39.49" height="0.9" fill="url(#bf)" fill-opacity="0.15"/><rect x="180.05" y="300.09" width="16.65" height="0.85" fill="#3030ff" fill-opacity="0.08"/><rect x="113.9" y="300.83" width="18.53" height="0.9" fill="url(#bf)" fill-opacity="0.21"/><rect x="113.9" y="301.58" width="28.88" height="0.9" fill="url(#bf)" fill-opacity="0.17"/><rect x="113.9" y="302.33" width="22.47" height="0.9" fill="url(#bf)" fill-opacity="0.17"/><rect x="115.23" y="302.33" width="86.07" height="0.85" fill="#3030ff" fill-opacity="0.1"/><rect x="113.9" y="303.07" width="28.33" height="0.9" fill="url(#bf)" fill-opacity="0.23"/><rect x="157.52" y="303.07" width="52.14" height="0.85" fill="#3030ff" fill-opacity="0.06"/><rect x="113.9" y="303.82" width="37.5" height="0.9" fill="url(#bf)" fill-opacity="0.25"/><rect x="113.9" y="304.57" width="40.33" height="0.9" fill="url(#bf)" fill-opacity="0.27"/><rect x="113.9" y="305.32" width="29.24" height="0.9" fill="url(#bf)" fill-opacity="0.27"/><rect x="113.9" y="306.06" width="31.08" height="0.9" fill="url(#bf)" fill-opacity="0.22"/><rect x="144.66" y="306.06" width="45.6" height="0.85" fill="#3030ff" fill-opacity="0.06"/><rect x="113.9" y="306.81" width="28.15" height="0.9" fill="url(#bf)" fill-opacity="0.27"/><rect x="113.9" y="307.56" width="29.72" height="0.9" fill="url(#bf)" fill-opacity="0.26"/><rect x="113.9" y="308.3" width="39.4" height="0.9" fill="url(#bf)" fill-opacity="0.29"/><rect x="160.98" y="308.3" width="40.43" height="0.95" fill="url(#rs)" fill-opacity="0.25"/><rect x="113.9" y="309.05" width="25.36" height="0.9" fill="url(#bf)" fill-opacity="0.21"/><rect x="122.42" y="309.05" width="29.57" height="0.85" fill="#3030ff" fill-opacity="0.08"/><rect x="113.9" y="309.8" width="35.18" height="0.9" fill="url(#bf)" fill-opacity="0.34"/><rect x="113.9" y="310.54" width="22.75" height="0.9" fill="url(#bf)" fill-opacity="0.33"/><rect x="179.57" y="310.54" width="10.94" height="0.85" fill="#3030ff" fill-opacity="0.05"/><rect x="113.9" y="311.29" width="33.95" height="0.9" fill="url(#bf)" fill-opacity="0.24"/><rect x="186.21" y="311.29" width="18.86" height="0.95" fill="url(#rs)" fill-opacity="0.3"/><rect x="113.9" y="312.04" width="28.71" height="0.9" fill="url(#bf)" fill-opacity="0.28"/><rect x="113.9" y="312.78" width="40.48" height="0.9" fill="url(#bf)" fill-opacity="0.27"/><rect x="115.11" y="312.78" width="30.9" height="0.85" fill="#ff3030" fill-opacity="0.05"/><rect x="113.9" y="313.53" width="45.72" height="0.9" fill="url(#bf)" fill-opacity="0.29"/><rect x="189.54" y="313.53" width="20.53" height="0.95" fill="url(#rs)" fill-opacity="0.38"/><rect x="113.9" y="314.28" width="34.72" height="0.9" fill="url(#bf)" fill-opacity="0.31"/><rect x="113.9" y="315.02" width="47.64" height="0.9" fill="url(#bf)" fill-opacity="0.33"/><rect x="113.9" y="315.77" width="44.73" height="0.9" fill="url(#bf)" fill-opacity="0.42"/><rect x="113.9" y="316.52" width="35.05" height="0.9" fill="url(#bf)" fill-opacity="0.36"/><rect x="118.4" y="316.52" width="53.3" height="0.85" fill="#ff3030" fill-opacity="0.08"/><rect x="113.9" y="317.27" width="29.9" height="0.9" fill="url(#bf)" fill-opacity="0.34"/><rect x="150.19" y="317.27" width="49.06" height="0.85" fill="#3030ff" fill-opacity="0.12"/><rect x="113.9" y="318.01" width="29.49" height="0.9" fill="url(#bf)" fill-opacity="0.4"/><rect x="191.12" y="318.01" width="17.28" height="0.85" fill="#3030ff" fill-opacity="0.07"/><rect x="113.9" y="318.76" width="39.09" height="0.9" fill="url(#bf)" fill-opacity="0.4"/><rect x="168.66" y="318.76" width="33.91" height="0.85" fill="#ff3030" fill-opacity="0.06"/><rect x="113.9" y="319.51" width="48.49" height="0.9" fill="url(#bf)" fill-opacity="0.45"/><rect x="119.16" y="319.51" width="32.01" height="0.85" fill="#ff3030" fill-opacity="0.09"/><rect x="113.9" y="320.25" width="25.41" height="0.9" fill="url(#bf)" fill-opacity="0.38"/><rect x="172.4" y="320.25" width="25.42" height="0.85" fill="#3030ff" fill-opacity="0.07"/><rect x="113.9" y="321" width="33.63" height="0.9" fill="url(#bf)" fill-opacity="0.33"/><rect x="113.9" y="321.75" width="27.32" height="0.9" fill="url(#bf)" fill-opacity="0.31"/><rect x="113.9" y="322.49" width="30.41" height="0.9" fill="url(#bf)" fill-opacity="0.47"/><rect x="136.22" y="322.49" width="61.98" height="0.85" fill="#ff3030" fill-opacity="0.09"/><rect x="113.9" y="323.24" width="40.89" height="0.9" fill="url(#bf)" fill-opacity="0.38"/><rect x="113.9" y="323.99" width="35.8" height="0.9" fill="url(#bf)" fill-opacity="0.42"/><rect x="189.6" y="323.99" width="10.85" height="0.85" fill="#ff3030" fill-opacity="0.09"/><rect x="113.9" y="324.73" width="33.98" height="0.9" fill="url(#bf)" fill-opacity="0.49"/><rect x="113.9" y="325.48" width="45.66" height="0.9" fill="url(#bf)" fill-opacity="0.39"/><rect x="140.18" y="325.48" width="53.66" height="0.85" fill="#3030ff" fill-opacity="0.06"/><rect x="113.9" y="326.23" width="48.12" height="0.9" fill="url(#bf)" fill-opacity="0.44"/><rect x="124.05" y="326.23" width="64.15" height="0.85" fill="#3030ff" fill-opacity="0.11"/><rect x="113.9" y="326.98" width="39.42" height="0.9" fill="url(#bf)" fill-opacity="0.59"/><rect x="113.9" y="327.72" width="38.56" height="0.9" fill="url(#bf)" fill-opacity="0.45"/><rect x="113.9" y="328.47" width="37.7" height="0.9" fill="url(#bf)" fill-opacity="0.44"/><rect x="145.33" y="328.47" width="31.79" height="0.85" fill="#ff3030" fill-opacity="0.06"/><rect x="113.9" y="329.22" width="43.91" height="0.9" fill="url(#bf)" fill-opacity="0.6"/><rect x="113.9" y="329.96" width="51.54" height="0.9" fill="url(#bf)" fill-opacity="0.44"/><rect x="113.9" y="330.71" width="43.89" height="0.9" fill="url(#bf)" fill-opacity="0.41"/><rect x="162.99" y="330.71" width="46.16" height="0.85" fill="#3030ff" fill-opacity="0.1"/><rect x="155.73" y="330.71" width="46.26" height="0.95" fill="url(#rs)" fill-opacity="0.17"/><rect x="113.9" y="331.46" width="57.2" height="0.9" fill="url(#bf)" fill-opacity="0.63"/><rect x="168.75" y="331.46" width="14.55" height="0.85" fill="#3030ff" fill-opacity="0.09"/><rect x="113.9" y="332.2" width="53.18" height="0.9" fill="url(#bf)" fill-opacity="0.49"/><rect x="180.05" y="332.2" width="18.03" height="0.85" fill="#ff3030" fill-opacity="0.12"/><rect x="113.9" y="332.95" width="45.84" height="0.9" fill="url(#bf)" fill-opacity="0.58"/><rect x="113.9" y="333.7" width="41.87" height="0.9" fill="url(#bf)" fill-opacity="0.73"/><rect x="113.9" y="334.44" width="56.02" height="0.9" fill="url(#bf)" fill-opacity="0.72"/><rect x="113.9" y="335.19" width="50.68" height="0.9" fill="url(#bf)" fill-opacity="0.77"/><rect x="175.32" y="335.19" width="30.12" height="0.85" fill="#ff3030" fill-opacity="0.07"/><rect x="113.9" y="335.94" width="63.55" height="0.9" fill="url(#bf)" fill-opacity="0.72"/><rect x="128.4" y="335.94" width="24.71" height="0.85" fill="#ff3030" fill-opacity="0.06"/><rect x="113.9" y="336.68" width="39.65" height="0.9" fill="url(#bf)" fill-opacity="0.51"/><rect x="169.95" y="336.68" width="33.63" height="0.85" fill="#ff3030" fill-opacity="0.04"/><rect x="113.9" y="337.43" width="61.65" height="0.9" fill="url(#bf)" fill-opacity="0.71"/><rect x="123.3" y="337.43" width="24.23" height="0.85" fill="#ff3030" fill-opacity="0.06"/><rect x="113.9" y="338.18" width="37.23" height="0.9" fill="url(#bf)" fill-opacity="0.73"/><rect x="138.21" y="338.18" width="20.73" height="0.85" fill="#3030ff" fill-opacity="0.06"/><rect x="113.9" y="338.93" width="46.89" height="0.9" fill="url(#bf)" fill-opacity="0.83"/><rect x="190.66" y="338.93" width="18.9" height="0.85" fill="#ff3030" fill-opacity="0.08"/><rect x="113.9" y="339.67" width="37.72" height="0.9" fill="url(#bf)" fill-opacity="0.72"/><rect x="195.86" y="339.67" width="13.64" height="0.85" fill="#ff3030" fill-opacity="0.08"/><rect x="113.9" y="340.42" width="66.66" height="0.9" fill="url(#bf)" fill-opacity="0.66"/><rect x="113.9" y="341.17" width="47.76" height="0.9" fill="url(#bf)" fill-opacity="0.57"/><rect x="182.82" y="341.17" width="22.54" height="0.85" fill="#3030ff" fill-opacity="0.05"/><rect x="113.9" y="341.91" width="40.07" height="0.9" fill="url(#bf)" fill-opacity="0.71"/><rect x="113.9" y="342.66" width="68.34" height="0.9" fill="url(#bf)" fill-opacity="0.86"/><rect x="160.14" y="342.66" width="16.07" height="0.85" fill="#3030ff" fill-opacity="0.04"/><rect x="113.9" y="343.41" width="62.3" height="0.9" fill="url(#bf)" fill-opacity="0.92"/><rect x="137.25" y="343.41" width="55.25" height="0.85" fill="#ff3030" fill-opacity="0.08"/><rect x="113.9" y="344.15" width="53.66" height="0.9" fill="url(#bf)" fill-opacity="0.96"/><rect x="113.9" y="344.9" width="47.45" height="0.9" fill="url(#bf)" fill-opacity="0.96"/><rect x="113.9" y="345.65" width="39.61" height="0.9" fill="url(#bf)" fill-opacity="0.98"/><rect x="159.37" y="345.65" width="16.46" height="0.85" fill="#3030ff" fill-opacity="0.06"/><rect x="113.9" y="346.39" width="43.76" height="0.9" fill="url(#bf)" fill-opacity="0.87"/><rect x="175.76" y="346.39" width="18.86" height="0.85" fill="#3030ff" fill-opacity="0.05"/><rect x="113.9" y="347.14" width="70.36" height="0.9" fill="url(#bf)" fill-opacity="0.95"/><rect x="113.9" y="347.89" width="47.04" height="0.9" fill="url(#bf)" fill-opacity="0.88"/><rect x="113.9" y="348.63" width="50.46" height="0.9" fill="url(#bf)" fill-opacity="0.97"/><rect x="199.68" y="348.63" width="10.58" height="0.85" fill="#ff3030" fill-opacity="0.09"/><rect x="113.9" y="349.38" width="53.92" height="0.9" fill="url(#bf)" fill-opacity="0.94"/><rect x="143.08" y="349.38" width="32.48" height="0.85" fill="#3030ff" fill-opacity="0.06"/><rect x="113.9" y="350.13" width="45.62" height="0.9" fill="url(#bf)" fill-opacity="1"/><rect x="113.9" y="350.88" width="45.87" height="0.9" fill="url(#bf)" fill-opacity="1"/><rect x="113.9" y="351.62" width="36.38" height="0.9" fill="url(#bf)" fill-opacity="0.91"/><rect x="113.9" y="352.37" width="49.07" height="0.9" fill="url(#bf)" fill-opacity="0.92"/><rect x="113.9" y="353.12" width="42.05" height="0.9" fill="url(#bf)" fill-opacity="0.9"/><rect x="124.64" y="353.12" width="40.82" height="0.85" fill="#ff3030" fill-opacity="0.11"/><rect x="113.9" y="353.86" width="59.49" height="0.9" fill="url(#bf)" fill-opacity="0.98"/><rect x="113.9" y="354.61" width="46.66" height="0.9" fill="url(#bf)" fill-opacity="0.96"/><rect x="115.23" y="354.61" width="44.13" height="0.85" fill="#3030ff" fill-opacity="0.12"/><rect x="113.9" y="355.36" width="58.3" height="0.9" fill="url(#bf)" fill-opacity="1"/><rect x="142.53" y="355.36" width="29.8" height="0.85" fill="#3030ff" fill-opacity="0.05"/><rect x="113.9" y="356.1" width="65.97" height="0.9" fill="url(#bf)" fill-opacity="0.98"/><rect x="113.9" y="356.85" width="65.28" height="0.9" fill="url(#bf)" fill-opacity="0.92"/><rect x="113.9" y="357.6" width="54.37" height="0.9" fill="url(#bf)" fill-opacity="0.96"/><rect x="175.61" y="357.6" width="34.46" height="0.85" fill="#3030ff" fill-opacity="0.1"/><rect x="113.9" y="358.34" width="73.21" height="0.9" fill="url(#bf)" fill-opacity="0.93"/><rect x="113.9" y="359.09" width="43.98" height="0.9" fill="url(#bf)" fill-opacity="0.91"/><rect x="174.2" y="359.09" width="18.62" height="0.85" fill="#3030ff" fill-opacity="0.07"/><rect x="113.9" y="359.84" width="74.92" height="0.9" fill="url(#bf)" fill-opacity="0.92"/><rect x="192.1" y="359.84" width="14.51" height="0.85" fill="#3030ff" fill-opacity="0.08"/><rect x="113.9" y="360.58" width="75.95" height="0.9" fill="url(#bf)" fill-opacity="1"/><rect x="113.9" y="361.33" width="69.09" height="0.9" fill="url(#bf)" fill-opacity="0.93"/><rect x="191.49" y="361.33" width="12.15" height="0.85" fill="#3030ff" fill-opacity="0.11"/><rect x="113.9" y="362.08" width="37.39" height="0.9" fill="url(#bf)" fill-opacity="1"/><rect x="129.48" y="362.08" width="80" height="0.85" fill="#3030ff" fill-opacity="0.09"/><rect x="113.9" y="362.82" width="65.83" height="0.9" fill="url(#bf)" fill-opacity="1"/><rect x="165.1" y="362.82" width="38.38" height="0.85" fill="#ff3030" fill-opacity="0.06"/><rect x="113.9" y="363.57" width="50.96" height="0.9" fill="url(#bf)" fill-opacity="0.94"/><rect x="128.92" y="363.57" width="47.15" height="0.85" fill="#ff3030" fill-opacity="0.09"/><rect x="113.9" y="364.32" width="36.11" height="0.9" fill="url(#bf)" fill-opacity="1"/><rect x="113.9" y="365.07" width="60.53" height="0.9" fill="url(#bf)" fill-opacity="1"/><rect x="149.49" y="365.07" width="41.76" height="0.85" fill="#3030ff" fill-opacity="0.1"/><rect x="113.9" y="365.81" width="77.85" height="0.9" fill="url(#bf)" fill-opacity="1"/><rect x="113.9" y="366.56" width="53.7" height="0.9" fill="url(#bf)" fill-opacity="0.99"/><rect x="192.2" y="366.56" width="14.31" height="0.85" fill="#3030ff" fill-opacity="0.07"/><rect x="113.9" y="367.31" width="37.32" height="0.9" fill="url(#bf)" fill-opacity="0.98"/><rect x="113.9" y="368.05" width="61.22" height="0.9" fill="url(#bf)" fill-opacity="1"/><rect x="152" y="282.65" width="58" height="1.1" fill="#ff0000" fill-opacity="0.85"/><rect x="186" y="305.95" width="24" height="1.1" fill="#ff0000" fill-opacity="0.85"/><rect x="160" y="307.05" width="26" height="1.1" fill="#ff0000" fill-opacity="0.35"/></g>
<g filter="url(#hblur)"><rect x="229.9" y="249.3" width="125.8" height="119.5" fill="#fff" filter="url(#nzf)"/><rect x="258.1" y="249.3" width="42.84" height="0.9" fill="url(#rf)" fill-opacity="1"/><rect x="302.13" y="249.3" width="27.28" height="0.85" fill="#ff3030" fill-opacity="0.1"/><rect x="258.1" y="250.05" width="53.43" height="0.9" fill="url(#rf)" fill-opacity="0.96"/><rect x="264.1" y="250.05" width="84.37" height="0.85" fill="#3030ff" fill-opacity="0.09"/><rect x="258.1" y="250.79" width="76.01" height="0.9" fill="url(#rf)" fill-opacity="1"/><rect x="258.1" y="251.54" width="41.69" height="0.9" fill="url(#rf)" fill-opacity="1"/><rect x="305.19" y="251.54" width="48.52" height="0.85" fill="#ff3030" fill-opacity="0.06"/><rect x="258.1" y="252.29" width="39.2" height="0.9" fill="url(#rf)" fill-opacity="0.98"/><rect x="258.1" y="253.03" width="61.65" height="0.9" fill="url(#rf)" fill-opacity="0.98"/><rect x="336.81" y="253.03" width="12.74" height="0.85" fill="#3030ff" fill-opacity="0.11"/><rect x="258.1" y="253.78" width="43.83" height="0.9" fill="url(#rf)" fill-opacity="1"/><rect x="258.1" y="254.53" width="69.77" height="0.9" fill="url(#rf)" fill-opacity="0.96"/><rect x="273.16" y="254.53" width="73.82" height="0.85" fill="#3030ff" fill-opacity="0.06"/><rect x="258.3" y="255.28" width="69.81" height="0.9" fill="url(#rf)" fill-opacity="0.95"/><rect x="321.68" y="255.28" width="17.52" height="0.85" fill="#3030ff" fill-opacity="0.11"/><rect x="259.28" y="256.02" width="60.12" height="0.9" fill="url(#rf)" fill-opacity="0.92"/><rect x="265.02" y="256.02" width="28.01" height="0.85" fill="#ff3030" fill-opacity="0.1"/><rect x="259.76" y="256.77" width="40.13" height="0.9" fill="url(#rf)" fill-opacity="0.91"/><rect x="260.32" y="257.52" width="63.81" height="0.9" fill="url(#rf)" fill-opacity="0.97"/><rect x="284.46" y="257.52" width="66.75" height="0.85" fill="#3030ff" fill-opacity="0.06"/><rect x="260.65" y="258.26" width="65.61" height="0.9" fill="url(#rf)" fill-opacity="0.86"/><rect x="304.6" y="258.26" width="11.86" height="0.85" fill="#3030ff" fill-opacity="0.06"/><rect x="260.85" y="259.01" width="31" height="0.9" fill="url(#rf)" fill-opacity="0.95"/><rect x="261.07" y="259.76" width="46.33" height="0.9" fill="url(#rf)" fill-opacity="0.85"/><rect x="263.38" y="260.5" width="40.82" height="0.9" fill="url(#rf)" fill-opacity="0.8"/><rect x="339.5" y="260.5" width="13.1" height="0.85" fill="#ff3030" fill-opacity="0.08"/><rect x="264.2" y="261.25" width="45.63" height="0.9" fill="url(#rf)" fill-opacity="0.73"/><rect x="302.39" y="261.25" width="46.61" height="0.85" fill="#3030ff" fill-opacity="0.08"/><rect x="262.35" y="262" width="48.87" height="0.9" fill="url(#rf)" fill-opacity="0.61"/><rect x="265.65" y="262.74" width="45.28" height="0.9" fill="url(#rf)" fill-opacity="0.67"/><rect x="265.33" y="263.49" width="27.11" height="0.9" fill="url(#rf)" fill-opacity="0.65"/><rect x="261.2" y="263.49" width="60.43" height="0.85" fill="#3030ff" fill-opacity="0.09"/><rect x="262.88" y="264.24" width="25.2" height="0.9" fill="url(#rf)" fill-opacity="0.5"/><rect x="296.17" y="264.24" width="31.87" height="0.85" fill="#ff3030" fill-opacity="0.1"/><rect x="266.37" y="264.98" width="34.05" height="0.9" fill="url(#rf)" fill-opacity="0.68"/><rect x="263.81" y="265.73" width="26.99" height="0.9" fill="url(#rf)" fill-opacity="0.42"/><rect x="312.52" y="265.73" width="27.44" height="0.85" fill="#ff3030" fill-opacity="0.09"/><rect x="265.64" y="266.48" width="21.85" height="0.9" fill="url(#rf)" fill-opacity="0.57"/><rect x="318.6" y="266.48" width="32.52" height="0.85" fill="#3030ff" fill-opacity="0.04"/><rect x="271.29" y="267.23" width="19.71" height="0.9" fill="url(#rf)" fill-opacity="0.42"/><rect x="300.98" y="267.23" width="44.04" height="0.85" fill="#3030ff" fill-opacity="0.05"/><rect x="266.5" y="267.97" width="17.11" height="0.9" fill="url(#rf)" fill-opacity="0.48"/><rect x="268.47" y="268.72" width="22.17" height="0.9" fill="url(#rf)" fill-opacity="0.37"/><rect x="261.1" y="268.72" width="94.27" height="0.85" fill="#3030ff" fill-opacity="0.1"/><rect x="267.47" y="269.47" width="28.33" height="0.9" fill="url(#rf)" fill-opacity="0.31"/><rect x="339.78" y="269.47" width="12.15" height="0.85" fill="#ff3030" fill-opacity="0.12"/><rect x="271.62" y="270.21" width="22.04" height="0.9" fill="url(#rf)" fill-opacity="0.24"/><rect x="288.16" y="270.21" width="49.97" height="0.85" fill="#3030ff" fill-opacity="0.09"/><rect x="274.09" y="270.96" width="19.98" height="0.9" fill="url(#rf)" fill-opacity="0.28"/><rect x="326.55" y="270.96" width="14.13" height="0.85" fill="#ff3030" fill-opacity="0.05"/><rect x="268.65" y="271.71" width="17.77" height="0.9" fill="url(#rf)" fill-opacity="0.21"/><rect x="285.13" y="271.71" width="37.08" height="0.85" fill="#3030ff" fill-opacity="0.09"/><rect x="267.66" y="272.45" width="21.81" height="0.9" fill="url(#rf)" fill-opacity="0.19"/><rect x="269.24" y="273.2" width="11.21" height="0.9" fill="url(#rf)" fill-opacity="0.17"/><rect x="292.52" y="273.2" width="59.11" height="0.85" fill="#3030ff" fill-opacity="0.06"/><rect x="271.68" y="273.95" width="22.77" height="0.9" fill="url(#rf)" fill-opacity="0.13"/><rect x="271.77" y="274.69" width="4.28" height="0.9" fill="url(#rf)" fill-opacity="0.15"/><rect x="265.39" y="274.69" width="80.87" height="0.85" fill="#ff3030" fill-opacity="0.1"/><rect x="271.28" y="275.44" width="5.44" height="0.9" fill="url(#rf)" fill-opacity="0.07"/><rect x="271.32" y="275.44" width="54.29" height="0.85" fill="#ff3030" fill-opacity="0.06"/><rect x="277.6" y="276.19" width="4" height="0.9" fill="url(#rf)" fill-opacity="0.06"/><rect x="321.65" y="276.19" width="26.02" height="0.85" fill="#ff3030" fill-opacity="0.06"/><rect x="274.15" y="276.93" width="4" height="0.9" fill="url(#rf)" fill-opacity="0.03"/><rect x="288.32" y="277.68" width="22.38" height="0.85" fill="#ff3030" fill-opacity="0.04"/><rect x="258.1" y="278.43" width="24.61" height="0.9" fill="url(#bf)" fill-opacity="0.03"/><rect x="258.1" y="279.18" width="27.34" height="0.9" fill="url(#bf)" fill-opacity="0.07"/><rect x="318.47" y="279.18" width="28.15" height="0.85" fill="#3030ff" fill-opacity="0.11"/><rect x="258.1" y="279.92" width="14.7" height="0.9" fill="url(#bf)" fill-opacity="0.1"/><rect x="292.48" y="279.92" width="13.2" height="0.85" fill="#ff3030" fill-opacity="0.07"/><rect x="258.1" y="280.67" width="16.41" height="0.9" fill="url(#bf)" fill-opacity="0.11"/><rect x="299.73" y="280.67" width="17.66" height="0.85" fill="#3030ff" fill-opacity="0.06"/><rect x="258.1" y="281.42" width="21.67" height="0.9" fill="url(#bf)" fill-opacity="0.14"/><rect x="309.14" y="281.42" width="35.64" height="0.85" fill="#3030ff" fill-opacity="0.1"/><rect x="288.47" y="281.42" width="34.03" height="0.95" fill="url(#rs)" fill-opacity="0.25"/><rect x="258.1" y="282.16" width="23.76" height="0.9" fill="url(#bf)" fill-opacity="0.14"/><rect x="299.18" y="282.16" width="25.14" height="0.85" fill="#ff3030" fill-opacity="0.04"/><rect x="258.1" y="282.91" width="25.88" height="0.9" fill="url(#bf)" fill-opacity="0.25"/><rect x="316.62" y="282.91" width="15.41" height="0.85" fill="#3030ff" fill-opacity="0.09"/><rect x="258.1" y="283.66" width="26.92" height="0.9" fill="url(#bf)" fill-opacity="0.22"/><rect x="258.1" y="284.4" width="28.66" height="0.9" fill="url(#bf)" fill-opacity="0.29"/><rect x="294.5" y="284.4" width="24.14" height="0.85" fill="#3030ff" fill-opacity="0.11"/><rect x="258.1" y="285.15" width="17.29" height="0.9" fill="url(#bf)" fill-opacity="0.35"/><rect x="302.52" y="285.15" width="23.33" height="0.85" fill="#ff3030" fill-opacity="0.12"/><rect x="258.1" y="285.9" width="21.53" height="0.9" fill="url(#bf)" fill-opacity="0.25"/><rect x="258.1" y="286.64" width="28.54" height="0.9" fill="url(#bf)" fill-opacity="0.23"/><rect x="279.07" y="286.64" width="42.89" height="0.85" fill="#3030ff" fill-opacity="0.08"/><rect x="258.1" y="287.39" width="35.14" height="0.9" fill="url(#bf)" fill-opacity="0.34"/><rect x="258.1" y="288.14" width="36.84" height="0.9" fill="url(#bf)" fill-opacity="0.31"/><rect x="320.82" y="288.14" width="27.3" height="0.85" fill="#3030ff" fill-opacity="0.12"/><rect x="258.1" y="288.88" width="31.49" height="0.9" fill="url(#bf)" fill-opacity="0.29"/><rect x="307.49" y="288.88" width="24.12" height="0.85" fill="#ff3030" fill-opacity="0.1"/><rect x="258.1" y="289.63" width="23.56" height="0.9" fill="url(#bf)" fill-opacity="0.31"/><rect x="273.67" y="289.63" width="47" height="0.85" fill="#ff3030" fill-opacity="0.05"/><rect x="266.03" y="289.63" width="67.62" height="0.95" fill="url(#rs)" fill-opacity="0.26"/><rect x="258.1" y="290.38" width="29.15" height="0.9" fill="url(#bf)" fill-opacity="0.43"/><rect x="333.99" y="290.38" width="20.19" height="0.85" fill="#ff3030" fill-opacity="0.06"/><rect x="258.1" y="291.12" width="27.5" height="0.9" fill="url(#bf)" fill-opacity="0.45"/><rect x="258.1" y="291.87" width="26.33" height="0.9" fill="url(#bf)" fill-opacity="0.45"/><rect x="324.61" y="291.87" width="27.77" height="0.85" fill="#3030ff" fill-opacity="0.09"/><rect x="258.1" y="292.62" width="33.69" height="0.9" fill="url(#bf)" fill-opacity="0.46"/><rect x="258.1" y="293.37" width="28.22" height="0.9" fill="url(#bf)" fill-opacity="0.34"/><rect x="258.1" y="294.11" width="19.76" height="0.9" fill="url(#bf)" fill-opacity="0.37"/><rect x="340.53" y="294.11" width="15.02" height="0.85" fill="#ff3030" fill-opacity="0.1"/><rect x="258.1" y="294.86" width="29.43" height="0.9" fill="url(#bf)" fill-opacity="0.48"/><rect x="258.1" y="295.61" width="37.67" height="0.9" fill="url(#bf)" fill-opacity="0.35"/><rect x="261.81" y="295.61" width="33.99" height="0.85" fill="#3030ff" fill-opacity="0.12"/><rect x="258.1" y="296.35" width="20.83" height="0.9" fill="url(#bf)" fill-opacity="0.43"/><rect x="300.41" y="296.35" width="26.91" height="0.85" fill="#ff3030" fill-opacity="0.1"/><rect x="258.1" y="297.1" width="30.39" height="0.9" fill="url(#bf)" fill-opacity="0.43"/><rect x="258.1" y="297.85" width="30.69" height="0.9" fill="url(#bf)" fill-opacity="0.63"/><rect x="258.1" y="298.59" width="24.73" height="0.9" fill="url(#bf)" fill-opacity="0.6"/><rect x="267.48" y="298.59" width="83.02" height="0.85" fill="#ff3030" fill-opacity="0.08"/><rect x="258.1" y="299.34" width="21.62" height="0.9" fill="url(#bf)" fill-opacity="0.48"/><rect x="270.68" y="299.34" width="56.91" height="0.85" fill="#ff3030" fill-opacity="0.06"/><rect x="258.1" y="300.09" width="28.21" height="0.9" fill="url(#bf)" fill-opacity="0.5"/><rect x="263.74" y="300.09" width="83.16" height="0.85" fill="#ff3030" fill-opacity="0.05"/><rect x="258.1" y="300.83" width="48.25" height="0.9" fill="url(#bf)" fill-opacity="0.54"/><rect x="334.07" y="300.83" width="15.63" height="0.85" fill="#ff3030" fill-opacity="0.1"/><rect x="258.1" y="301.58" width="36.57" height="0.9" fill="url(#bf)" fill-opacity="0.43"/><rect x="258.1" y="302.33" width="47.48" height="0.9" fill="url(#bf)" fill-opacity="0.5"/><rect x="258.1" y="303.07" width="44.99" height="0.9" fill="url(#bf)" fill-opacity="0.56"/><rect x="258.1" y="303.82" width="26.9" height="0.9" fill="url(#bf)" fill-opacity="0.45"/><rect x="264.64" y="303.82" width="39.09" height="0.85" fill="#3030ff" fill-opacity="0.06"/><rect x="258.1" y="304.57" width="28.28" height="0.9" fill="url(#bf)" fill-opacity="0.45"/><rect x="299.01" y="304.57" width="48.77" height="0.95" fill="url(#bs)" fill-opacity="0.33"/><rect x="258.1" y="305.32" width="45.24" height="0.9" fill="url(#bf)" fill-opacity="0.58"/><rect x="258.1" y="306.06" width="25.63" height="0.9" fill="url(#bf)" fill-opacity="0.79"/><rect x="258.1" y="306.81" width="30.13" height="0.9" fill="url(#bf)" fill-opacity="0.71"/><rect x="302.86" y="306.81" width="23.6" height="0.95" fill="url(#rs)" fill-opacity="0.24"/><rect x="258.1" y="307.56" width="46.56" height="0.9" fill="url(#bf)" fill-opacity="0.7"/><rect x="313.99" y="307.56" width="21.23" height="0.85" fill="#ff3030" fill-opacity="0.11"/><rect x="258.1" y="308.3" width="33.06" height="0.9" fill="url(#bf)" fill-opacity="0.52"/><rect x="258.1" y="309.05" width="39.53" height="0.9" fill="url(#bf)" fill-opacity="0.76"/><rect x="258.1" y="309.8" width="27.9" height="0.9" fill="url(#bf)" fill-opacity="0.54"/><rect x="295.83" y="309.8" width="10.47" height="0.85" fill="#3030ff" fill-opacity="0.07"/><rect x="258.1" y="310.54" width="52.26" height="0.9" fill="url(#bf)" fill-opacity="0.71"/><rect x="335.23" y="310.54" width="13.36" height="0.85" fill="#3030ff" fill-opacity="0.05"/><rect x="258.1" y="311.29" width="52.97" height="0.9" fill="url(#bf)" fill-opacity="0.68"/><rect x="293.86" y="311.29" width="46.6" height="0.85" fill="#ff3030" fill-opacity="0.06"/><rect x="258.1" y="312.04" width="33.98" height="0.9" fill="url(#bf)" fill-opacity="0.88"/><rect x="289.39" y="312.04" width="65.72" height="0.85" fill="#ff3030" fill-opacity="0.09"/><rect x="258.1" y="312.78" width="30.88" height="0.9" fill="url(#bf)" fill-opacity="0.78"/><rect x="258.1" y="313.53" width="43.91" height="0.9" fill="url(#bf)" fill-opacity="0.88"/><rect x="307.83" y="313.53" width="14.32" height="0.85" fill="#3030ff" fill-opacity="0.1"/><rect x="258.1" y="314.28" width="37.76" height="0.9" fill="url(#bf)" fill-opacity="0.81"/><rect x="278.25" y="314.28" width="50.51" height="0.85" fill="#3030ff" fill-opacity="0.08"/><rect x="306.78" y="314.28" width="30.16" height="0.95" fill="url(#bs)" fill-opacity="0.3"/><rect x="258.1" y="315.02" width="29.69" height="0.9" fill="url(#bf)" fill-opacity="0.93"/><rect x="345.08" y="315.02" width="10.46" height="0.85" fill="#ff3030" fill-opacity="0.1"/><rect x="258.1" y="315.77" width="52.39" height="0.9" fill="url(#bf)" fill-opacity="0.73"/><rect x="344.83" y="315.77" width="10.43" height="0.85" fill="#ff3030" fill-opacity="0.11"/><rect x="258.1" y="316.52" width="51.57" height="0.9" fill="url(#bf)" fill-opacity="0.96"/><rect x="258.1" y="317.27" width="27.57" height="0.9" fill="url(#bf)" fill-opacity="1"/><rect x="258.1" y="318.01" width="51.6" height="0.9" fill="url(#bf)" fill-opacity="0.7"/><rect x="305.08" y="318.01" width="45.16" height="0.85" fill="#ff3030" fill-opacity="0.06"/><rect x="258.1" y="318.76" width="43.89" height="0.9" fill="url(#bf)" fill-opacity="0.8"/><rect x="258.1" y="319.51" width="52.31" height="0.9" fill="url(#bf)" fill-opacity="0.83"/><rect x="258.1" y="320.25" width="56.28" height="0.9" fill="url(#bf)" fill-opacity="0.89"/><rect x="258.1" y="321" width="29.98" height="0.9" fill="url(#bf)" fill-opacity="0.87"/><rect x="288.39" y="321" width="59.56" height="0.85" fill="#3030ff" fill-opacity="0.05"/><rect x="258.1" y="321.75" width="55.42" height="0.9" fill="url(#bf)" fill-opacity="0.88"/><rect x="258.1" y="322.49" width="60.63" height="0.9" fill="url(#bf)" fill-opacity="0.83"/><rect x="313.22" y="322.49" width="38.47" height="0.85" fill="#3030ff" fill-opacity="0.06"/><rect x="258.1" y="323.24" width="27.9" height="0.9" fill="url(#bf)" fill-opacity="0.9"/><rect x="285.72" y="323.24" width="47.77" height="0.85" fill="#ff3030" fill-opacity="0.09"/><rect x="258.1" y="323.99" width="32.04" height="0.9" fill="url(#bf)" fill-opacity="0.87"/><rect x="258.1" y="324.73" width="31.9" height="0.9" fill="url(#bf)" fill-opacity="0.87"/><rect x="258.1" y="325.48" width="35" height="0.9" fill="url(#bf)" fill-opacity="0.91"/><rect x="258.1" y="326.23" width="41.12" height="0.9" fill="url(#bf)" fill-opacity="0.98"/><rect x="293.86" y="326.23" width="17.58" height="0.85" fill="#3030ff" fill-opacity="0.07"/><rect x="258.1" y="326.98" width="44.92" height="0.9" fill="url(#bf)" fill-opacity="0.94"/><rect x="340.59" y="326.98" width="11.77" height="0.85" fill="#3030ff" fill-opacity="0.06"/><rect x="258.1" y="327.72" width="60.29" height="0.9" fill="url(#bf)" fill-opacity="0.92"/><rect x="332.95" y="327.72" width="18.63" height="0.85" fill="#3030ff" fill-opacity="0.11"/><rect x="258.1" y="328.47" width="50.93" height="0.9" fill="url(#bf)" fill-opacity="1"/><rect x="263.72" y="328.47" width="44.36" height="0.85" fill="#ff3030" fill-opacity="0.08"/><rect x="258.1" y="329.22" width="54.79" height="0.9" fill="url(#bf)" fill-opacity="0.94"/><rect x="258.1" y="329.96" width="34.45" height="0.9" fill="url(#bf)" fill-opacity="0.97"/><rect x="258.1" y="330.71" width="42.54" height="0.9" fill="url(#bf)" fill-opacity="0.98"/><rect x="258.1" y="331.46" width="50.56" height="0.9" fill="url(#bf)" fill-opacity="1"/><rect x="336.64" y="331.46" width="10.8" height="0.85" fill="#ff3030" fill-opacity="0.07"/><rect x="258.1" y="332.2" width="43.32" height="0.9" fill="url(#bf)" fill-opacity="1"/><rect x="258.1" y="332.95" width="54.62" height="0.9" fill="url(#bf)" fill-opacity="0.92"/><rect x="289.79" y="332.95" width="35.99" height="0.85" fill="#ff3030" fill-opacity="0.09"/><rect x="258.1" y="333.7" width="68.04" height="0.9" fill="url(#bf)" fill-opacity="1"/><rect x="258.1" y="334.44" width="55.8" height="0.9" fill="url(#bf)" fill-opacity="1"/><rect x="258.1" y="335.19" width="48.8" height="0.9" fill="url(#bf)" fill-opacity="0.93"/><rect x="315.57" y="335.19" width="16.57" height="0.85" fill="#3030ff" fill-opacity="0.06"/><rect x="258.1" y="335.94" width="46.41" height="0.9" fill="url(#bf)" fill-opacity="0.95"/><rect x="258.1" y="336.68" width="56.55" height="0.9" fill="url(#bf)" fill-opacity="0.95"/><rect x="258.1" y="337.43" width="63.18" height="0.9" fill="url(#bf)" fill-opacity="0.97"/><rect x="258.1" y="338.18" width="49.98" height="0.9" fill="url(#bf)" fill-opacity="0.94"/><rect x="333.41" y="338.18" width="21.61" height="0.85" fill="#3030ff" fill-opacity="0.04"/><rect x="258.1" y="338.93" width="52.79" height="0.9" fill="url(#bf)" fill-opacity="1"/><rect x="327.24" y="338.93" width="15.57" height="0.85" fill="#3030ff" fill-opacity="0.05"/><rect x="258.1" y="339.67" width="35.32" height="0.9" fill="url(#bf)" fill-opacity="0.94"/><rect x="283.85" y="339.67" width="58.09" height="0.85" fill="#ff3030" fill-opacity="0.07"/><rect x="274.99" y="339.67" width="44.68" height="0.95" fill="url(#bs)" fill-opacity="0.26"/><rect x="258.1" y="340.42" width="36.12" height="0.9" fill="url(#bf)" fill-opacity="1"/><rect x="258.1" y="341.17" width="53.17" height="0.9" fill="url(#bf)" fill-opacity="1"/><rect x="311.73" y="341.17" width="39.35" height="0.85" fill="#3030ff" fill-opacity="0.07"/><rect x="270.03" y="341.17" width="72.84" height="0.95" fill="url(#bs)" fill-opacity="0.33"/><rect x="258.1" y="341.91" width="53.66" height="0.9" fill="url(#bf)" fill-opacity="0.95"/><rect x="267.76" y="341.91" width="33.44" height="0.85" fill="#3030ff" fill-opacity="0.09"/><rect x="258.1" y="342.66" width="49.25" height="0.9" fill="url(#bf)" fill-opacity="0.93"/><rect x="280.95" y="342.66" width="17.24" height="0.85" fill="#3030ff" fill-opacity="0.07"/><rect x="258.1" y="343.41" width="68.61" height="0.9" fill="url(#bf)" fill-opacity="1"/><rect x="258.1" y="344.15" width="69.62" height="0.9" fill="url(#bf)" fill-opacity="1"/><rect x="284.32" y="344.15" width="55.38" height="0.85" fill="#ff3030" fill-opacity="0.07"/><rect x="258.1" y="344.9" width="47.55" height="0.9" fill="url(#bf)" fill-opacity="1"/><rect x="297.59" y="344.9" width="12.38" height="0.85" fill="#3030ff" fill-opacity="0.04"/><rect x="258.1" y="345.65" width="49.46" height="0.9" fill="url(#bf)" fill-opacity="1"/><rect x="266.79" y="345.65" width="39.35" height="0.85" fill="#ff3030" fill-opacity="0.08"/><rect x="258.1" y="346.39" width="53.31" height="0.9" fill="url(#bf)" fill-opacity="1"/><rect x="293.72" y="346.39" width="60.23" height="0.85" fill="#ff3030" fill-opacity="0.09"/><rect x="258.1" y="347.14" width="58.15" height="0.9" fill="url(#bf)" fill-opacity="0.99"/><rect x="284.48" y="347.14" width="47.29" height="0.85" fill="#3030ff" fill-opacity="0.07"/><rect x="258.1" y="347.89" width="64.91" height="0.9" fill="url(#bf)" fill-opacity="1"/><rect x="266.23" y="347.89" width="30.02" height="0.85" fill="#ff3030" fill-opacity="0.1"/><rect x="258.1" y="348.63" width="50.44" height="0.9" fill="url(#bf)" fill-opacity="1"/><rect x="317.66" y="348.63" width="12.4" height="0.85" fill="#3030ff" fill-opacity="0.11"/><rect x="258.1" y="349.38" width="68.24" height="0.9" fill="url(#bf)" fill-opacity="0.98"/><rect x="258.1" y="350.13" width="66.17" height="0.9" fill="url(#bf)" fill-opacity="0.93"/><rect x="312.82" y="350.13" width="28.15" height="0.85" fill="#3030ff" fill-opacity="0.09"/><rect x="330.6" y="350.13" width="22.6" height="0.95" fill="url(#bs)" fill-opacity="0.15"/><rect x="258.1" y="350.88" width="51.78" height="0.9" fill="url(#bf)" fill-opacity="1"/><rect x="258.1" y="351.62" width="37.35" height="0.9" fill="url(#bf)" fill-opacity="1"/><rect x="258.1" y="352.37" width="50.49" height="0.9" fill="url(#bf)" fill-opacity="1"/><rect x="296.37" y="352.37" width="15.82" height="0.85" fill="#ff3030" fill-opacity="0.1"/><rect x="258.1" y="353.12" width="70.35" height="0.9" fill="url(#bf)" fill-opacity="0.94"/><rect x="258.1" y="353.86" width="39.71" height="0.9" fill="url(#bf)" fill-opacity="0.94"/><rect x="341.66" y="353.86" width="12.26" height="0.85" fill="#3030ff" fill-opacity="0.06"/><rect x="258.1" y="354.61" width="71.17" height="0.9" fill="url(#bf)" fill-opacity="1"/><rect x="334.64" y="354.61" width="15.23" height="0.85" fill="#ff3030" fill-opacity="0.07"/><rect x="258.1" y="355.36" width="75.35" height="0.9" fill="url(#bf)" fill-opacity="1"/><rect x="318.51" y="355.36" width="20.55" height="0.85" fill="#3030ff" fill-opacity="0.05"/><rect x="258.1" y="356.1" width="60.68" height="0.9" fill="url(#bf)" fill-opacity="0.95"/><rect x="288.43" y="356.1" width="19.38" height="0.85" fill="#ff3030" fill-opacity="0.09"/><rect x="258.1" y="356.85" width="60.42" height="0.9" fill="url(#bf)" fill-opacity="0.99"/><rect x="258.1" y="357.6" width="56.53" height="0.9" fill="url(#bf)" fill-opacity="1"/><rect x="258.1" y="358.34" width="45.82" height="0.9" fill="url(#bf)" fill-opacity="1"/><rect x="322.08" y="358.34" width="23.58" height="0.85" fill="#ff3030" fill-opacity="0.05"/><rect x="258.1" y="359.09" width="67.51" height="0.9" fill="url(#bf)" fill-opacity="0.99"/><rect x="312.2" y="359.09" width="28.74" height="0.85" fill="#3030ff" fill-opacity="0.11"/><rect x="258.1" y="359.84" width="46.1" height="0.9" fill="url(#bf)" fill-opacity="1"/><rect x="258.1" y="360.58" width="73.94" height="0.9" fill="url(#bf)" fill-opacity="0.98"/><rect x="319.29" y="360.58" width="25.01" height="0.85" fill="#3030ff" fill-opacity="0.07"/><rect x="258.1" y="361.33" width="70.51" height="0.9" fill="url(#bf)" fill-opacity="1"/><rect x="258.1" y="362.08" width="46.08" height="0.9" fill="url(#bf)" fill-opacity="1"/><rect x="304.96" y="362.08" width="34.84" height="0.85" fill="#ff3030" fill-opacity="0.1"/><rect x="258.1" y="362.82" width="78.32" height="0.9" fill="url(#bf)" fill-opacity="1"/><rect x="258.1" y="363.57" width="69.26" height="0.9" fill="url(#bf)" fill-opacity="1"/><rect x="333.23" y="363.57" width="19.07" height="0.85" fill="#ff3030" fill-opacity="0.06"/><rect x="299.79" y="363.57" width="25.37" height="0.95" fill="url(#rs)" fill-opacity="0.21"/><rect x="258.1" y="364.32" width="58.84" height="0.9" fill="url(#bf)" fill-opacity="0.94"/><rect x="283.07" y="364.32" width="27.39" height="0.85" fill="#3030ff" fill-opacity="0.11"/><rect x="258.1" y="365.07" width="76.08" height="0.9" fill="url(#bf)" fill-opacity="1"/><rect x="258.1" y="365.81" width="61.6" height="0.9" fill="url(#bf)" fill-opacity="1"/><rect x="258.1" y="366.56" width="49.12" height="0.9" fill="url(#bf)" fill-opacity="1"/><rect x="340.15" y="366.56" width="12.01" height="0.85" fill="#3030ff" fill-opacity="0.06"/><rect x="258.1" y="367.31" width="71.15" height="0.9" fill="url(#bf)" fill-opacity="0.99"/><rect x="258.1" y="368.05" width="53.66" height="0.9" fill="url(#bf)" fill-opacity="1"/><rect x="341.31" y="368.05" width="10.48" height="0.85" fill="#3030ff" fill-opacity="0.09"/></g>
<g filter="url(#hblur)"><rect x="374.9" y="249.3" width="125.7" height="119.5" fill="#fff" filter="url(#nzf)"/><rect x="402.4" y="249.3" width="46.02" height="0.9" fill="url(#rf)" fill-opacity="1"/><rect x="489.61" y="249.3" width="10.3" height="0.85" fill="#3030ff" fill-opacity="0.04"/><rect x="402.4" y="250.05" width="41.57" height="0.9" fill="url(#rf)" fill-opacity="0.93"/><rect x="402.4" y="250.79" width="77.97" height="0.9" fill="url(#rf)" fill-opacity="1"/><rect x="448.88" y="250.79" width="17.7" height="0.85" fill="#3030ff" fill-opacity="0.07"/><rect x="402.4" y="251.54" width="72.67" height="0.9" fill="url(#rf)" fill-opacity="0.96"/><rect x="409.34" y="251.54" width="49.57" height="0.85" fill="#3030ff" fill-opacity="0.12"/><rect x="402.4" y="252.29" width="52.11" height="0.9" fill="url(#rf)" fill-opacity="0.94"/><rect x="402.4" y="253.03" width="81.29" height="0.9" fill="url(#rf)" fill-opacity="1"/><rect x="402.46" y="253.78" width="58.63" height="0.9" fill="url(#rf)" fill-opacity="0.92"/><rect x="402.81" y="254.53" width="76.1" height="0.9" fill="url(#rf)" fill-opacity="0.99"/><rect x="487.03" y="254.53" width="10.11" height="0.85" fill="#ff3030" fill-opacity="0.11"/><rect x="403.79" y="255.28" width="34.71" height="0.9" fill="url(#rf)" fill-opacity="0.86"/><rect x="404.43" y="256.02" width="62.99" height="0.9" fill="url(#rf)" fill-opacity="0.93"/><rect x="408.39" y="256.02" width="75.29" height="0.85" fill="#3030ff" fill-opacity="0.11"/><rect x="403.81" y="256.77" width="44.75" height="0.9" fill="url(#rf)" fill-opacity="0.85"/><rect x="404.79" y="257.52" width="49.42" height="0.9" fill="url(#rf)" fill-opacity="0.83"/><rect x="404.88" y="258.26" width="60.5" height="0.9" fill="url(#rf)" fill-opacity="0.66"/><rect x="424.75" y="258.26" width="41.54" height="0.85" fill="#3030ff" fill-opacity="0.07"/><rect x="406.26" y="259.01" width="35.98" height="0.9" fill="url(#rf)" fill-opacity="0.79"/><rect x="479.75" y="259.01" width="12" height="0.85" fill="#ff3030" fill-opacity="0.06"/><rect x="407.65" y="259.76" width="49.01" height="0.9" fill="url(#rf)" fill-opacity="0.78"/><rect x="409.33" y="259.76" width="72.05" height="0.85" fill="#ff3030" fill-opacity="0.06"/><rect x="406.75" y="260.5" width="37.98" height="0.9" fill="url(#rf)" fill-opacity="0.83"/><rect x="408.95" y="261.25" width="28.13" height="0.9" fill="url(#rf)" fill-opacity="0.59"/><rect x="407.4" y="262" width="36.23" height="0.9" fill="url(#rf)" fill-opacity="0.68"/><rect x="467.8" y="262" width="20.85" height="0.85" fill="#3030ff" fill-opacity="0.04"/><rect x="410.84" y="262.74" width="23.55" height="0.9" fill="url(#rf)" fill-opacity="0.52"/><rect x="420.53" y="262.74" width="71.53" height="0.85" fill="#3030ff" fill-opacity="0.11"/><rect x="410.51" y="263.49" width="25.49" height="0.9" fill="url(#rf)" fill-opacity="0.64"/><rect x="412.06" y="264.24" width="40.46" height="0.9" fill="url(#rf)" fill-opacity="0.39"/><rect x="408.21" y="264.98" width="32.41" height="0.9" fill="url(#rf)" fill-opacity="0.44"/><rect x="485.21" y="264.98" width="10.39" height="0.85" fill="#ff3030" fill-opacity="0.07"/><rect x="426.4" y="264.98" width="25.82" height="0.95" fill="url(#rs)" fill-opacity="0.28"/><rect x="412.67" y="265.73" width="35.48" height="0.9" fill="url(#rf)" fill-opacity="0.44"/><rect x="485.94" y="265.73" width="10.38" height="0.85" fill="#ff3030" fill-opacity="0.05"/><rect x="411.56" y="266.48" width="45.88" height="0.9" fill="url(#rf)" fill-opacity="0.46"/><rect x="431.54" y="266.48" width="43.57" height="0.85" fill="#ff3030" fill-opacity="0.1"/><rect x="414.54" y="267.23" width="34.4" height="0.9" fill="url(#rf)" fill-opacity="0.36"/><rect x="419.23" y="267.23" width="77.38" height="0.85" fill="#3030ff" fill-opacity="0.04"/><rect x="410.07" y="267.97" width="20.37" height="0.9" fill="url(#rf)" fill-opacity="0.33"/><rect x="467.35" y="267.97" width="14.92" height="0.85" fill="#ff3030" fill-opacity="0.06"/><rect x="412.86" y="268.72" width="35.43" height="0.9" fill="url(#rf)" fill-opacity="0.32"/><rect x="403.74" y="268.72" width="36.43" height="0.85" fill="#ff3030" fill-opacity="0.06"/><rect x="414.7" y="269.47" width="28.93" height="0.9" fill="url(#rf)" fill-opacity="0.27"/><rect x="433.85" y="269.47" width="60.16" height="0.85" fill="#3030ff" fill-opacity="0.07"/><rect x="417.81" y="270.21" width="23.02" height="0.9" fill="url(#rf)" fill-opacity="0.26"/><rect x="484.94" y="270.21" width="14.83" height="0.85" fill="#3030ff" fill-opacity="0.05"/><rect x="411.75" y="270.96" width="24.4" height="0.9" fill="url(#rf)" fill-opacity="0.29"/><rect x="419.52" y="271.71" width="16.33" height="0.9" fill="url(#rf)" fill-opacity="0.22"/><rect x="410.95" y="271.71" width="64.74" height="0.85" fill="#ff3030" fill-opacity="0.08"/><rect x="414.62" y="272.45" width="23.73" height="0.9" fill="url(#rf)" fill-opacity="0.22"/><rect x="446.19" y="272.45" width="21.95" height="0.85" fill="#3030ff" fill-opacity="0.09"/><rect x="416.16" y="273.2" width="18.31" height="0.9" fill="url(#rf)" fill-opacity="0.12"/><rect x="412.45" y="273.95" width="15.01" height="0.9" fill="url(#rf)" fill-opacity="0.11"/><rect x="414.7" y="274.69" width="14.36" height="0.9" fill="url(#rf)" fill-opacity="0.12"/><rect x="423.06" y="275.44" width="4" height="0.9" fill="url(#rf)" fill-opacity="0.07"/><rect x="444.93" y="275.44" width="23.27" height="0.85" fill="#3030ff" fill-opacity="0.08"/><rect x="422.44" y="276.19" width="4" height="0.9" fill="url(#rf)" fill-opacity="0.04"/><rect x="422.66" y="276.93" width="4" height="0.9" fill="url(#rf)" fill-opacity="0.03"/><rect x="483.5" y="279.18" width="10.16" height="0.85" fill="#3030ff" fill-opacity="0.07"/><rect x="461.25" y="281.42" width="13.21" height="0.85" fill="#3030ff" fill-opacity="0.11"/><rect x="463.63" y="282.16" width="30.44" height="0.85" fill="#3030ff" fill-opacity="0.09"/><rect x="470.26" y="282.91" width="26.79" height="0.95" fill="url(#bs)" fill-opacity="0.37"/><rect x="485.61" y="283.66" width="13.19" height="0.85" fill="#3030ff" fill-opacity="0.07"/><rect x="416.6" y="284.4" width="68.88" height="0.85" fill="#ff3030" fill-opacity="0.09"/><rect x="426.47" y="285.9" width="22.01" height="0.85" fill="#3030ff" fill-opacity="0.09"/><rect x="484.17" y="286.64" width="15.86" height="0.85" fill="#ff3030" fill-opacity="0.12"/><rect x="427.03" y="288.14" width="43.22" height="0.85" fill="#3030ff" fill-opacity="0.04"/><rect x="444.12" y="288.88" width="44.61" height="0.85" fill="#ff3030" fill-opacity="0.06"/><rect x="431.29" y="289.63" width="14.15" height="0.85" fill="#ff3030" fill-opacity="0.07"/><rect x="438.28" y="291.12" width="22.32" height="0.85" fill="#3030ff" fill-opacity="0.12"/><rect x="462.87" y="291.87" width="31.14" height="0.85" fill="#3030ff" fill-opacity="0.09"/><rect x="490.36" y="293.37" width="10.12" height="0.85" fill="#ff3030" fill-opacity="0.1"/><rect x="414.16" y="293.37" width="54.39" height="0.95" fill="url(#rs)" fill-opacity="0.33"/><rect x="402.4" y="296.35" width="12.38" height="0.9" fill="url(#bf)" fill-opacity="0.03"/><rect x="486.6" y="296.35" width="13.55" height="0.85" fill="#ff3030" fill-opacity="0.05"/><rect x="402.4" y="297.1" width="17.27" height="0.9" fill="url(#bf)" fill-opacity="0.04"/><rect x="439.94" y="297.1" width="39.04" height="0.85" fill="#3030ff" fill-opacity="0.07"/><rect x="402.4" y="297.85" width="20.17" height="0.9" fill="url(#bf)" fill-opacity="0.06"/><rect x="465.07" y="297.85" width="13.28" height="0.85" fill="#ff3030" fill-opacity="0.08"/><rect x="408.1" y="297.85" width="45.3" height="0.95" fill="url(#rs)" fill-opacity="0.18"/><rect x="402.4" y="298.59" width="24.02" height="0.9" fill="url(#bf)" fill-opacity="0.08"/><rect x="454.24" y="298.59" width="21.47" height="0.85" fill="#3030ff" fill-opacity="0.05"/><rect x="402.4" y="299.34" width="24.7" height="0.9" fill="url(#bf)" fill-opacity="0.06"/><rect x="438.6" y="299.34" width="30.74" height="0.85" fill="#3030ff" fill-opacity="0.06"/><rect x="402.4" y="300.09" width="18.88" height="0.9" fill="url(#bf)" fill-opacity="0.09"/><rect x="440.93" y="300.09" width="32.5" height="0.85" fill="#ff3030" fill-opacity="0.09"/><rect x="402.4" y="300.83" width="24.24" height="0.9" fill="url(#bf)" fill-opacity="0.08"/><rect x="444.17" y="300.83" width="50.84" height="0.85" fill="#3030ff" fill-opacity="0.07"/><rect x="402.4" y="301.58" width="24.91" height="0.9" fill="url(#bf)" fill-opacity="0.13"/><rect x="461.6" y="301.58" width="31.49" height="0.85" fill="#ff3030" fill-opacity="0.1"/><rect x="402.4" y="302.33" width="23.5" height="0.9" fill="url(#bf)" fill-opacity="0.12"/><rect x="460.03" y="302.33" width="16.91" height="0.85" fill="#3030ff" fill-opacity="0.08"/><rect x="402.4" y="303.07" width="24.63" height="0.9" fill="url(#bf)" fill-opacity="0.11"/><rect x="439.1" y="303.07" width="49.47" height="0.85" fill="#ff3030" fill-opacity="0.09"/><rect x="402.4" y="303.82" width="29.75" height="0.9" fill="url(#bf)" fill-opacity="0.13"/><rect x="482.9" y="303.82" width="10.46" height="0.85" fill="#3030ff" fill-opacity="0.11"/><rect x="402.4" y="304.57" width="23.47" height="0.9" fill="url(#bf)" fill-opacity="0.14"/><rect x="402.4" y="305.32" width="23.68" height="0.9" fill="url(#bf)" fill-opacity="0.18"/><rect x="464.6" y="305.32" width="24.59" height="0.85" fill="#3030ff" fill-opacity="0.12"/><rect x="402.4" y="306.06" width="19.64" height="0.9" fill="url(#bf)" fill-opacity="0.19"/><rect x="402.4" y="306.81" width="24.19" height="0.9" fill="url(#bf)" fill-opacity="0.16"/><rect x="446.08" y="306.81" width="17.44" height="0.85" fill="#3030ff" fill-opacity="0.11"/><rect x="402.4" y="307.56" width="28.76" height="0.9" fill="url(#bf)" fill-opacity="0.16"/><rect x="415.21" y="307.56" width="55.68" height="0.85" fill="#3030ff" fill-opacity="0.08"/><rect x="402.4" y="308.3" width="31.76" height="0.9" fill="url(#bf)" fill-opacity="0.2"/><rect x="469.34" y="308.3" width="11.6" height="0.85" fill="#ff3030" fill-opacity="0.1"/><rect x="402.4" y="309.05" width="21.62" height="0.9" fill="url(#bf)" fill-opacity="0.23"/><rect x="434.01" y="309.05" width="40.41" height="0.85" fill="#ff3030" fill-opacity="0.07"/><rect x="402.4" y="309.8" width="20.59" height="0.9" fill="url(#bf)" fill-opacity="0.17"/><rect x="402.4" y="310.54" width="18.33" height="0.9" fill="url(#bf)" fill-opacity="0.18"/><rect x="409.96" y="310.54" width="74.03" height="0.85" fill="#3030ff" fill-opacity="0.06"/><rect x="402.4" y="311.29" width="15.69" height="0.9" fill="url(#bf)" fill-opacity="0.24"/><rect x="402.4" y="312.04" width="28.8" height="0.9" fill="url(#bf)" fill-opacity="0.19"/><rect x="402.4" y="312.78" width="19.72" height="0.9" fill="url(#bf)" fill-opacity="0.28"/><rect x="430.07" y="312.78" width="36.75" height="0.85" fill="#3030ff" fill-opacity="0.09"/><rect x="402.4" y="313.53" width="20.03" height="0.9" fill="url(#bf)" fill-opacity="0.3"/><rect x="457.06" y="313.53" width="15.04" height="0.85" fill="#3030ff" fill-opacity="0.07"/><rect x="402.4" y="314.28" width="32.2" height="0.9" fill="url(#bf)" fill-opacity="0.24"/><rect x="402.4" y="315.02" width="23.1" height="0.9" fill="url(#bf)" fill-opacity="0.21"/><rect x="402.4" y="315.77" width="33.79" height="0.9" fill="url(#bf)" fill-opacity="0.32"/><rect x="434.53" y="315.77" width="22.83" height="0.85" fill="#3030ff" fill-opacity="0.04"/><rect x="402.4" y="316.52" width="33.5" height="0.9" fill="url(#bf)" fill-opacity="0.21"/><rect x="453.84" y="316.52" width="13.5" height="0.85" fill="#ff3030" fill-opacity="0.07"/><rect x="402.4" y="317.27" width="34.28" height="0.9" fill="url(#bf)" fill-opacity="0.29"/><rect x="411.38" y="317.27" width="11.66" height="0.85" fill="#3030ff" fill-opacity="0.05"/><rect x="402.4" y="318.01" width="31.15" height="0.9" fill="url(#bf)" fill-opacity="0.31"/><rect x="443.63" y="318.01" width="23.58" height="0.85" fill="#3030ff" fill-opacity="0.07"/><rect x="402.4" y="318.76" width="22.98" height="0.9" fill="url(#bf)" fill-opacity="0.25"/><rect x="403.83" y="318.76" width="36.93" height="0.85" fill="#3030ff" fill-opacity="0.06"/><rect x="402.4" y="319.51" width="26.97" height="0.9" fill="url(#bf)" fill-opacity="0.35"/><rect x="429.91" y="319.51" width="63.84" height="0.85" fill="#3030ff" fill-opacity="0.09"/><rect x="402.4" y="320.25" width="27.9" height="0.9" fill="url(#bf)" fill-opacity="0.34"/><rect x="436.8" y="320.25" width="37.12" height="0.85" fill="#3030ff" fill-opacity="0.08"/><rect x="402.4" y="321" width="36.67" height="0.9" fill="url(#bf)" fill-opacity="0.36"/><rect x="404.36" y="321" width="35.96" height="0.85" fill="#ff3030" fill-opacity="0.1"/><rect x="402.4" y="321.75" width="21.68" height="0.9" fill="url(#bf)" fill-opacity="0.28"/><rect x="402.4" y="322.49" width="32.94" height="0.9" fill="url(#bf)" fill-opacity="0.36"/><rect x="402.4" y="323.24" width="30.16" height="0.9" fill="url(#bf)" fill-opacity="0.32"/><rect x="402.4" y="323.99" width="36.8" height="0.9" fill="url(#bf)" fill-opacity="0.43"/><rect x="424.18" y="323.99" width="74.49" height="0.85" fill="#3030ff" fill-opacity="0.08"/><rect x="402.4" y="324.73" width="29.91" height="0.9" fill="url(#bf)" fill-opacity="0.44"/><rect x="402.4" y="325.48" width="18.64" height="0.9" fill="url(#bf)" fill-opacity="0.48"/><rect x="436.76" y="325.48" width="44.43" height="0.85" fill="#ff3030" fill-opacity="0.08"/><rect x="402.4" y="326.23" width="36.13" height="0.9" fill="url(#bf)" fill-opacity="0.38"/><rect x="453.77" y="326.23" width="16.38" height="0.85" fill="#3030ff" fill-opacity="0.11"/><rect x="402.4" y="326.98" width="29.1" height="0.9" fill="url(#bf)" fill-opacity="0.35"/><rect x="432.1" y="326.98" width="43.8" height="0.85" fill="#3030ff" fill-opacity="0.04"/><rect x="402.4" y="327.72" width="23.88" height="0.9" fill="url(#bf)" fill-opacity="0.46"/><rect x="469.6" y="327.72" width="17.01" height="0.85" fill="#3030ff" fill-opacity="0.08"/><rect x="402.4" y="328.47" width="25.23" height="0.9" fill="url(#bf)" fill-opacity="0.47"/><rect x="402.4" y="329.22" width="20.54" height="0.9" fill="url(#bf)" fill-opacity="0.52"/><rect x="472.77" y="329.22" width="12.5" height="0.85" fill="#ff3030" fill-opacity="0.04"/><rect x="402.4" y="329.96" width="42.5" height="0.9" fill="url(#bf)" fill-opacity="0.46"/><rect x="425.27" y="329.96" width="64.09" height="0.85" fill="#ff3030" fill-opacity="0.09"/><rect x="402.4" y="330.71" width="20.57" height="0.9" fill="url(#bf)" fill-opacity="0.6"/><rect x="436.17" y="330.71" width="54.83" height="0.85" fill="#ff3030" fill-opacity="0.1"/><rect x="402.4" y="331.46" width="43.49" height="0.9" fill="url(#bf)" fill-opacity="0.5"/><rect x="427" y="331.46" width="68.36" height="0.85" fill="#3030ff" fill-opacity="0.05"/><rect x="402.4" y="332.2" width="27.03" height="0.9" fill="url(#bf)" fill-opacity="0.44"/><rect x="402.4" y="332.95" width="36.75" height="0.9" fill="url(#bf)" fill-opacity="0.66"/><rect x="402.4" y="333.7" width="32.62" height="0.9" fill="url(#bf)" fill-opacity="0.61"/><rect x="445.8" y="333.7" width="27.21" height="0.85" fill="#3030ff" fill-opacity="0.04"/><rect x="479.26" y="333.7" width="17.35" height="0.95" fill="url(#rs)" fill-opacity="0.19"/><rect x="402.4" y="334.44" width="43.6" height="0.9" fill="url(#bf)" fill-opacity="0.59"/><rect x="446.52" y="334.44" width="32.03" height="0.85" fill="#3030ff" fill-opacity="0.09"/><rect x="402.4" y="335.19" width="39.08" height="0.9" fill="url(#bf)" fill-opacity="0.48"/><rect x="478.67" y="335.19" width="10.4" height="0.85" fill="#ff3030" fill-opacity="0.08"/><rect x="402.4" y="335.94" width="39.95" height="0.9" fill="url(#bf)" fill-opacity="0.63"/><rect x="402.4" y="336.68" width="42.34" height="0.9" fill="url(#bf)" fill-opacity="0.46"/><rect x="416.72" y="336.68" width="12.77" height="0.85" fill="#ff3030" fill-opacity="0.11"/><rect x="402.4" y="337.43" width="22.24" height="0.9" fill="url(#bf)" fill-opacity="0.48"/><rect x="402.4" y="338.18" width="22.17" height="0.9" fill="url(#bf)" fill-opacity="0.77"/><rect x="427.68" y="338.18" width="22.02" height="0.85" fill="#ff3030" fill-opacity="0.06"/><rect x="402.4" y="338.93" width="25.84" height="0.9" fill="url(#bf)" fill-opacity="0.54"/><rect x="435.52" y="338.93" width="18.24" height="0.85" fill="#3030ff" fill-opacity="0.08"/><rect x="402.4" y="339.67" width="22.58" height="0.9" fill="url(#bf)" fill-opacity="0.65"/><rect x="402.4" y="340.42" width="21.99" height="0.9" fill="url(#bf)" fill-opacity="0.62"/><rect x="402.4" y="341.17" width="36.85" height="0.9" fill="url(#bf)" fill-opacity="0.66"/><rect x="402.4" y="341.91" width="41.86" height="0.9" fill="url(#bf)" fill-opacity="0.67"/><rect x="464.74" y="341.91" width="33.49" height="0.85" fill="#ff3030" fill-opacity="0.06"/><rect x="402.4" y="342.66" width="44.44" height="0.9" fill="url(#bf)" fill-opacity="0.83"/><rect x="402.4" y="343.41" width="33.82" height="0.9" fill="url(#bf)" fill-opacity="0.63"/><rect x="402.4" y="344.15" width="50.96" height="0.9" fill="url(#bf)" fill-opacity="0.61"/><rect x="402.4" y="344.9" width="40.66" height="0.9" fill="url(#bf)" fill-opacity="0.73"/><rect x="402.4" y="345.65" width="49.38" height="0.9" fill="url(#bf)" fill-opacity="0.84"/><rect x="402.4" y="346.39" width="51.95" height="0.9" fill="url(#bf)" fill-opacity="0.9"/><rect x="438.01" y="346.39" width="39.67" height="0.85" fill="#ff3030" fill-opacity="0.1"/><rect x="451.57" y="346.39" width="24.52" height="0.95" fill="url(#rs)" fill-opacity="0.3"/><rect x="402.4" y="347.14" width="37.18" height="0.9" fill="url(#bf)" fill-opacity="0.85"/><rect x="402.4" y="347.89" width="35.08" height="0.9" fill="url(#bf)" fill-opacity="0.87"/><rect x="402.4" y="348.63" width="30.35" height="0.9" fill="url(#bf)" fill-opacity="0.99"/><rect x="432.34" y="348.63" width="10.06" height="0.85" fill="#ff3030" fill-opacity="0.04"/><rect x="402.4" y="349.38" width="54.97" height="0.9" fill="url(#bf)" fill-opacity="0.91"/><rect x="458.39" y="349.38" width="21.32" height="0.95" fill="url(#rs)" fill-opacity="0.33"/><rect x="402.4" y="350.13" width="53.75" height="0.9" fill="url(#bf)" fill-opacity="1"/><rect x="430.42" y="350.13" width="33.92" height="0.85" fill="#ff3030" fill-opacity="0.1"/><rect x="402.4" y="350.88" width="29.77" height="0.9" fill="url(#bf)" fill-opacity="1"/><rect x="402.4" y="351.62" width="44.71" height="0.9" fill="url(#bf)" fill-opacity="0.95"/><rect x="405.52" y="351.62" width="45.22" height="0.85" fill="#ff3030" fill-opacity="0.1"/><rect x="402.4" y="352.37" width="56.1" height="0.9" fill="url(#bf)" fill-opacity="1"/><rect x="411.08" y="352.37" width="12.84" height="0.85" fill="#3030ff" fill-opacity="0.11"/><rect x="402.4" y="353.12" width="52.81" height="0.9" fill="url(#bf)" fill-opacity="1"/><rect x="412.36" y="353.12" width="60.2" height="0.85" fill="#ff3030" fill-opacity="0.06"/><rect x="415.04" y="353.12" width="19.51" height="0.95" fill="url(#rs)" fill-opacity="0.18"/><rect x="402.4" y="353.86" width="52.05" height="0.9" fill="url(#bf)" fill-opacity="1"/><rect x="413.01" y="353.86" width="62.08" height="0.85" fill="#3030ff" fill-opacity="0.11"/><rect x="402.4" y="354.61" width="53.55" height="0.9" fill="url(#bf)" fill-opacity="1"/><rect x="402.4" y="355.36" width="50.94" height="0.9" fill="url(#bf)" fill-opacity="0.97"/><rect x="402.4" y="356.1" width="41.5" height="0.9" fill="url(#bf)" fill-opacity="0.92"/><rect x="455.45" y="356.1" width="27.91" height="0.85" fill="#3030ff" fill-opacity="0.04"/><rect x="402.4" y="356.85" width="48.42" height="0.9" fill="url(#bf)" fill-opacity="1"/><rect x="402.4" y="357.6" width="41.22" height="0.9" fill="url(#bf)" fill-opacity="0.97"/><rect x="473.31" y="357.6" width="16.82" height="0.85" fill="#3030ff" fill-opacity="0.08"/><rect x="402.4" y="358.34" width="38.17" height="0.9" fill="url(#bf)" fill-opacity="1"/><rect x="433.65" y="358.34" width="19.13" height="0.95" fill="url(#bs)" fill-opacity="0.19"/><rect x="402.4" y="359.09" width="40.54" height="0.9" fill="url(#bf)" fill-opacity="0.95"/><rect x="402.4" y="359.84" width="36.46" height="0.9" fill="url(#bf)" fill-opacity="1"/><rect x="480.75" y="359.84" width="12.1" height="0.85" fill="#ff3030" fill-opacity="0.11"/><rect x="402.4" y="360.58" width="31.31" height="0.9" fill="url(#bf)" fill-opacity="0.94"/><rect x="402.4" y="361.33" width="49.58" height="0.9" fill="url(#bf)" fill-opacity="0.93"/><rect x="441.73" y="361.33" width="39.57" height="0.85" fill="#ff3030" fill-opacity="0.11"/><rect x="402.4" y="362.08" width="53.36" height="0.9" fill="url(#bf)" fill-opacity="0.95"/><rect x="405.68" y="362.08" width="65.37" height="0.85" fill="#3030ff" fill-opacity="0.11"/><rect x="402.4" y="362.82" width="28.67" height="0.9" fill="url(#bf)" fill-opacity="0.96"/><rect x="402.4" y="363.57" width="58.51" height="0.9" fill="url(#bf)" fill-opacity="0.97"/><rect x="459.14" y="363.57" width="12.31" height="0.85" fill="#3030ff" fill-opacity="0.12"/><rect x="402.4" y="364.32" width="52.18" height="0.9" fill="url(#bf)" fill-opacity="0.98"/><rect x="402.4" y="365.07" width="44.85" height="0.9" fill="url(#bf)" fill-opacity="0.93"/><rect x="450.59" y="365.07" width="48.01" height="0.85" fill="#3030ff" fill-opacity="0.06"/><rect x="402.4" y="365.81" width="33.46" height="0.9" fill="url(#bf)" fill-opacity="0.98"/><rect x="402.4" y="366.56" width="42.35" height="0.9" fill="url(#bf)" fill-opacity="0.98"/><rect x="402.4" y="367.31" width="32.01" height="0.9" fill="url(#bf)" fill-opacity="1"/><rect x="417.35" y="367.31" width="70.53" height="0.85" fill="#3030ff" fill-opacity="0.09"/><rect x="402.4" y="368.05" width="34.18" height="0.9" fill="url(#bf)" fill-opacity="0.99"/><rect x="445" y="340.05" width="47" height="1.1" fill="#ff0000" fill-opacity="0.8"/></g>
<g filter="url(#hblur)"><rect x="518.5" y="249.3" width="126" height="119.5" fill="#fff" filter="url(#nzf)"/><rect x="547.1" y="249.3" width="57.33" height="0.9" fill="url(#rf)" fill-opacity="0.94"/><rect x="547.1" y="250.05" width="62.43" height="0.9" fill="url(#rf)" fill-opacity="1"/><rect x="603.77" y="250.05" width="21.51" height="0.85" fill="#ff3030" fill-opacity="0.07"/><rect x="547.1" y="250.79" width="41.85" height="0.9" fill="url(#rf)" fill-opacity="0.98"/><rect x="547.1" y="251.54" width="42" height="0.9" fill="url(#rf)" fill-opacity="1"/><rect x="574.66" y="251.54" width="16.02" height="0.85" fill="#3030ff" fill-opacity="0.11"/><rect x="547.1" y="252.29" width="31.63" height="0.9" fill="url(#rf)" fill-opacity="0.99"/><rect x="547.59" y="253.03" width="35.17" height="0.9" fill="url(#rf)" fill-opacity="0.94"/><rect x="623.81" y="253.03" width="13.77" height="0.85" fill="#3030ff" fill-opacity="0.06"/><rect x="548.28" y="253.78" width="34.63" height="0.9" fill="url(#rf)" fill-opacity="0.99"/><rect x="602.93" y="253.78" width="35.34" height="0.85" fill="#ff3030" fill-opacity="0.06"/><rect x="548.82" y="254.53" width="49.7" height="0.9" fill="url(#rf)" fill-opacity="0.86"/><rect x="586.72" y="254.53" width="38.61" height="0.85" fill="#ff3030" fill-opacity="0.04"/><rect x="549.07" y="255.28" width="53.67" height="0.9" fill="url(#rf)" fill-opacity="0.84"/><rect x="550.52" y="256.02" width="26" height="0.9" fill="url(#rf)" fill-opacity="0.77"/><rect x="595.8" y="256.02" width="13.76" height="0.85" fill="#ff3030" fill-opacity="0.07"/><rect x="551.47" y="256.77" width="37.79" height="0.9" fill="url(#rf)" fill-opacity="0.85"/><rect x="551.89" y="257.52" width="33.37" height="0.9" fill="url(#rf)" fill-opacity="0.66"/><rect x="551.72" y="258.26" width="30.68" height="0.9" fill="url(#rf)" fill-opacity="0.55"/><rect x="553.5" y="259.01" width="38.9" height="0.9" fill="url(#rf)" fill-opacity="0.52"/><rect x="559.78" y="259.01" width="13.52" height="0.85" fill="#ff3030" fill-opacity="0.12"/><rect x="553.13" y="259.76" width="29.78" height="0.9" fill="url(#rf)" fill-opacity="0.45"/><rect x="615.16" y="259.76" width="16.42" height="0.85" fill="#3030ff" fill-opacity="0.1"/><rect x="589.49" y="259.76" width="18.72" height="0.95" fill="url(#bs)" fill-opacity="0.17"/><rect x="553.88" y="260.5" width="36.35" height="0.9" fill="url(#rf)" fill-opacity="0.37"/><rect x="553.85" y="261.25" width="21.45" height="0.9" fill="url(#rf)" fill-opacity="0.39"/><rect x="606.14" y="261.25" width="13.03" height="0.85" fill="#ff3030" fill-opacity="0.06"/><rect x="557.35" y="262" width="14.28" height="0.9" fill="url(#rf)" fill-opacity="0.37"/><rect x="558.09" y="262.74" width="32.83" height="0.9" fill="url(#rf)" fill-opacity="0.26"/><rect x="613.18" y="262.74" width="27.44" height="0.85" fill="#3030ff" fill-opacity="0.06"/><rect x="558.4" y="263.49" width="18.06" height="0.9" fill="url(#rf)" fill-opacity="0.23"/><rect x="554.64" y="264.24" width="22.05" height="0.9" fill="url(#rf)" fill-opacity="0.2"/><rect x="556.7" y="264.98" width="19.69" height="0.9" fill="url(#rf)" fill-opacity="0.24"/><rect x="579.45" y="264.98" width="35.05" height="0.85" fill="#3030ff" fill-opacity="0.1"/><rect x="554.09" y="265.73" width="11.93" height="0.9" fill="url(#rf)" fill-opacity="0.18"/><rect x="578.5" y="265.73" width="11.82" height="0.85" fill="#ff3030" fill-opacity="0.07"/><rect x="556.7" y="266.48" width="5.87" height="0.9" fill="url(#rf)" fill-opacity="0.16"/><rect x="574.29" y="266.48" width="18.25" height="0.85" fill="#3030ff" fill-opacity="0.11"/><rect x="554.62" y="267.23" width="4.73" height="0.9" fill="url(#rf)" fill-opacity="0.08"/><rect x="555.62" y="267.97" width="5.13" height="0.9" fill="url(#rf)" fill-opacity="0.07"/><rect x="574.67" y="267.97" width="56.01" height="0.85" fill="#3030ff" fill-opacity="0.06"/><rect x="562.77" y="268.72" width="4" height="0.9" fill="url(#rf)" fill-opacity="0.02"/><rect x="617.94" y="268.72" width="25.24" height="0.85" fill="#3030ff" fill-opacity="0.12"/><rect x="633.75" y="269.47" width="10.15" height="0.85" fill="#3030ff" fill-opacity="0.05"/><rect x="620.45" y="270.21" width="19.57" height="0.85" fill="#ff3030" fill-opacity="0.11"/><rect x="551.53" y="270.96" width="33.7" height="0.85" fill="#ff3030" fill-opacity="0.07"/><rect x="618.73" y="271.71" width="11.12" height="0.85" fill="#ff3030" fill-opacity="0.1"/><rect x="552.61" y="272.45" width="14.16" height="0.85" fill="#ff3030" fill-opacity="0.08"/><rect x="572.53" y="273.2" width="11.04" height="0.85" fill="#3030ff" fill-opacity="0.07"/><rect x="570.7" y="273.95" width="13.3" height="0.85" fill="#ff3030" fill-opacity="0.06"/><rect x="589.11" y="274.69" width="10.89" height="0.85" fill="#3030ff" fill-opacity="0.07"/><rect x="549.2" y="275.44" width="18.65" height="0.85" fill="#3030ff" fill-opacity="0.08"/><rect x="612.76" y="276.19" width="20.94" height="0.85" fill="#3030ff" fill-opacity="0.11"/><rect x="593.72" y="277.68" width="33.61" height="0.85" fill="#3030ff" fill-opacity="0.11"/><rect x="612.83" y="278.43" width="23.36" height="0.85" fill="#3030ff" fill-opacity="0.11"/><rect x="583.87" y="278.43" width="32.13" height="0.95" fill="url(#bs)" fill-opacity="0.19"/><rect x="559.71" y="279.18" width="66.38" height="0.85" fill="#3030ff" fill-opacity="0.1"/><rect x="564.49" y="279.92" width="62.68" height="0.95" fill="url(#bs)" fill-opacity="0.34"/><rect x="554.17" y="280.67" width="66.98" height="0.85" fill="#3030ff" fill-opacity="0.04"/><rect x="550.03" y="281.42" width="50.51" height="0.85" fill="#ff3030" fill-opacity="0.05"/><rect x="571" y="282.91" width="52.69" height="0.85" fill="#ff3030" fill-opacity="0.07"/><rect x="585.14" y="283.66" width="39.42" height="0.85" fill="#3030ff" fill-opacity="0.11"/><rect x="587.28" y="285.15" width="40.38" height="0.85" fill="#3030ff" fill-opacity="0.07"/><rect x="548.79" y="285.9" width="17.78" height="0.85" fill="#ff3030" fill-opacity="0.1"/><rect x="567.81" y="286.64" width="26.16" height="0.85" fill="#3030ff" fill-opacity="0.11"/><rect x="631.6" y="287.39" width="12.81" height="0.85" fill="#3030ff" fill-opacity="0.08"/><rect x="593" y="288.88" width="37.49" height="0.85" fill="#ff3030" fill-opacity="0.09"/><rect x="631.03" y="290.38" width="13.3" height="0.85" fill="#3030ff" fill-opacity="0.11"/><rect x="611.05" y="291.87" width="29.6" height="0.85" fill="#3030ff" fill-opacity="0.04"/><rect x="603.65" y="291.87" width="27.61" height="0.95" fill="url(#bs)" fill-opacity="0.4"/><rect x="606.14" y="292.62" width="28.86" height="0.85" fill="#3030ff" fill-opacity="0.07"/><rect x="625.77" y="293.37" width="16.32" height="0.85" fill="#3030ff" fill-opacity="0.08"/><rect x="606.58" y="294.11" width="25.3" height="0.85" fill="#ff3030" fill-opacity="0.04"/><rect x="566.92" y="294.86" width="24.97" height="0.85" fill="#ff3030" fill-opacity="0.1"/><rect x="614.25" y="295.61" width="24.28" height="0.95" fill="url(#bs)" fill-opacity="0.3"/><rect x="576.75" y="296.35" width="14.12" height="0.85" fill="#3030ff" fill-opacity="0.04"/><rect x="600.79" y="300.09" width="31.52" height="0.85" fill="#3030ff" fill-opacity="0.09"/><rect x="619.7" y="300.83" width="19.25" height="0.85" fill="#3030ff" fill-opacity="0.09"/><rect x="625.51" y="302.33" width="13.57" height="0.85" fill="#ff3030" fill-opacity="0.07"/><rect x="607.47" y="303.82" width="12.63" height="0.85" fill="#ff3030" fill-opacity="0.07"/><rect x="584.07" y="304.57" width="50.45" height="0.85" fill="#ff3030" fill-opacity="0.12"/><rect x="566.88" y="305.32" width="10.96" height="0.85" fill="#ff3030" fill-opacity="0.11"/><rect x="592.9" y="306.06" width="21.07" height="0.85" fill="#3030ff" fill-opacity="0.05"/><rect x="618.37" y="306.81" width="22.42" height="0.85" fill="#3030ff" fill-opacity="0.09"/><rect x="557.19" y="307.56" width="69.08" height="0.95" fill="url(#bs)" fill-opacity="0.4"/><rect x="601.66" y="309.05" width="29.86" height="0.85" fill="#ff3030" fill-opacity="0.12"/><rect x="632.84" y="309.8" width="10.64" height="0.85" fill="#ff3030" fill-opacity="0.09"/><rect x="573.54" y="310.54" width="47.01" height="0.85" fill="#ff3030" fill-opacity="0.09"/><rect x="553.7" y="313.53" width="18.01" height="0.85" fill="#3030ff" fill-opacity="0.05"/><rect x="547.21" y="314.28" width="79.24" height="0.85" fill="#ff3030" fill-opacity="0.11"/><rect x="586.11" y="315.02" width="11.35" height="0.85" fill="#3030ff" fill-opacity="0.04"/><rect x="547.1" y="316.52" width="20.69" height="0.9" fill="url(#bf)" fill-opacity="0.02"/><rect x="547.1" y="317.27" width="19.16" height="0.9" fill="url(#bf)" fill-opacity="0.04"/><rect x="593.06" y="317.27" width="21.43" height="0.85" fill="#ff3030" fill-opacity="0.11"/><rect x="547.1" y="318.01" width="16.55" height="0.9" fill="url(#bf)" fill-opacity="0.05"/><rect x="547.22" y="318.01" width="94.09" height="0.85" fill="#3030ff" fill-opacity="0.12"/><rect x="547.1" y="318.76" width="13.95" height="0.9" fill="url(#bf)" fill-opacity="0.04"/><rect x="600.61" y="318.76" width="31.08" height="0.85" fill="#3030ff" fill-opacity="0.06"/><rect x="547.1" y="319.51" width="13.99" height="0.9" fill="url(#bf)" fill-opacity="0.05"/><rect x="590.25" y="319.51" width="28.58" height="0.85" fill="#ff3030" fill-opacity="0.12"/><rect x="547.1" y="320.25" width="20.07" height="0.9" fill="url(#bf)" fill-opacity="0.08"/><rect x="549.69" y="320.25" width="61.68" height="0.85" fill="#3030ff" fill-opacity="0.04"/><rect x="547.1" y="321" width="22.84" height="0.9" fill="url(#bf)" fill-opacity="0.07"/><rect x="547.1" y="321.75" width="14.96" height="0.9" fill="url(#bf)" fill-opacity="0.07"/><rect x="547.1" y="322.49" width="21.38" height="0.9" fill="url(#bf)" fill-opacity="0.11"/><rect x="579.33" y="322.49" width="60.2" height="0.85" fill="#ff3030" fill-opacity="0.06"/><rect x="615.24" y="322.49" width="20.04" height="0.95" fill="url(#rs)" fill-opacity="0.24"/><rect x="547.1" y="323.24" width="20.02" height="0.9" fill="url(#bf)" fill-opacity="0.09"/><rect x="547.1" y="323.99" width="22.05" height="0.9" fill="url(#bf)" fill-opacity="0.09"/><rect x="585.69" y="323.99" width="49.44" height="0.85" fill="#ff3030" fill-opacity="0.11"/><rect x="547.1" y="324.73" width="26.78" height="0.9" fill="url(#bf)" fill-opacity="0.11"/><rect x="595.52" y="324.73" width="30.91" height="0.85" fill="#3030ff" fill-opacity="0.12"/><rect x="547.1" y="325.48" width="17.09" height="0.9" fill="url(#bf)" fill-opacity="0.11"/><rect x="571.69" y="325.48" width="44.75" height="0.85" fill="#ff3030" fill-opacity="0.1"/><rect x="547.1" y="326.23" width="16.02" height="0.9" fill="url(#bf)" fill-opacity="0.11"/><rect x="547.1" y="326.98" width="20.98" height="0.9" fill="url(#bf)" fill-opacity="0.17"/><rect x="547.1" y="327.72" width="31.02" height="0.9" fill="url(#bf)" fill-opacity="0.17"/><rect x="547.47" y="327.72" width="21" height="0.85" fill="#ff3030" fill-opacity="0.1"/><rect x="547.1" y="328.47" width="16.44" height="0.9" fill="url(#bf)" fill-opacity="0.15"/><rect x="547.1" y="329.22" width="25.3" height="0.9" fill="url(#bf)" fill-opacity="0.13"/><rect x="547.1" y="329.96" width="17.17" height="0.9" fill="url(#bf)" fill-opacity="0.19"/><rect x="559.68" y="329.96" width="46.75" height="0.85" fill="#ff3030" fill-opacity="0.11"/><rect x="547.1" y="330.71" width="23.83" height="0.9" fill="url(#bf)" fill-opacity="0.2"/><rect x="547.1" y="331.46" width="29.98" height="0.9" fill="url(#bf)" fill-opacity="0.21"/><rect x="577.29" y="331.46" width="13.22" height="0.85" fill="#3030ff" fill-opacity="0.08"/><rect x="547.1" y="332.2" width="23.19" height="0.9" fill="url(#bf)" fill-opacity="0.16"/><rect x="547.1" y="332.95" width="31.99" height="0.9" fill="url(#bf)" fill-opacity="0.21"/><rect x="547.1" y="333.7" width="16.57" height="0.9" fill="url(#bf)" fill-opacity="0.2"/><rect x="547.1" y="334.44" width="18.31" height="0.9" fill="url(#bf)" fill-opacity="0.2"/><rect x="552.82" y="334.44" width="47.7" height="0.85" fill="#ff3030" fill-opacity="0.07"/><rect x="547.1" y="335.19" width="32.29" height="0.9" fill="url(#bf)" fill-opacity="0.23"/><rect x="585.65" y="335.19" width="12.69" height="0.85" fill="#3030ff" fill-opacity="0.09"/><rect x="547.1" y="335.94" width="24.79" height="0.9" fill="url(#bf)" fill-opacity="0.17"/><rect x="557.58" y="335.94" width="16.1" height="0.85" fill="#ff3030" fill-opacity="0.05"/><rect x="547.1" y="336.68" width="33.13" height="0.9" fill="url(#bf)" fill-opacity="0.23"/><rect x="561.05" y="336.68" width="30.3" height="0.85" fill="#3030ff" fill-opacity="0.09"/><rect x="547.1" y="337.43" width="17" height="0.9" fill="url(#bf)" fill-opacity="0.23"/><rect x="584.81" y="337.43" width="51.95" height="0.85" fill="#3030ff" fill-opacity="0.09"/><rect x="547.1" y="338.18" width="27.47" height="0.9" fill="url(#bf)" fill-opacity="0.17"/><rect x="628.45" y="338.18" width="11.25" height="0.85" fill="#ff3030" fill-opacity="0.04"/><rect x="609.6" y="338.18" width="32.34" height="0.95" fill="url(#rs)" fill-opacity="0.15"/><rect x="547.1" y="338.93" width="21.34" height="0.9" fill="url(#bf)" fill-opacity="0.24"/><rect x="547.1" y="339.67" width="22.21" height="0.9" fill="url(#bf)" fill-opacity="0.26"/><rect x="547.1" y="340.42" width="21.94" height="0.9" fill="url(#bf)" fill-opacity="0.27"/><rect x="547.1" y="341.17" width="23.95" height="0.9" fill="url(#bf)" fill-opacity="0.3"/><rect x="547.1" y="341.91" width="30.5" height="0.9" fill="url(#bf)" fill-opacity="0.22"/><rect x="557.01" y="341.91" width="13.07" height="0.85" fill="#3030ff" fill-opacity="0.06"/><rect x="547.1" y="342.66" width="20.02" height="0.9" fill="url(#bf)" fill-opacity="0.29"/><rect x="547.1" y="343.41" width="37.11" height="0.9" fill="url(#bf)" fill-opacity="0.24"/><rect x="547.1" y="344.15" width="30.31" height="0.9" fill="url(#bf)" fill-opacity="0.33"/><rect x="547.1" y="344.9" width="24.46" height="0.9" fill="url(#bf)" fill-opacity="0.28"/><rect x="596.9" y="344.9" width="19.29" height="0.85" fill="#3030ff" fill-opacity="0.11"/><rect x="547.1" y="345.65" width="18.16" height="0.9" fill="url(#bf)" fill-opacity="0.24"/><rect x="585.04" y="345.65" width="51.87" height="0.85" fill="#3030ff" fill-opacity="0.08"/><rect x="547.1" y="346.39" width="32.68" height="0.9" fill="url(#bf)" fill-opacity="0.29"/><rect x="595.4" y="346.39" width="19.23" height="0.85" fill="#ff3030" fill-opacity="0.08"/><rect x="547.1" y="347.14" width="24.39" height="0.9" fill="url(#bf)" fill-opacity="0.36"/><rect x="592.41" y="347.14" width="29.11" height="0.85" fill="#ff3030" fill-opacity="0.1"/><rect x="547.1" y="347.89" width="24.36" height="0.9" fill="url(#bf)" fill-opacity="0.26"/><rect x="564" y="347.89" width="15.62" height="0.85" fill="#3030ff" fill-opacity="0.05"/><rect x="547.1" y="348.63" width="32.57" height="0.9" fill="url(#bf)" fill-opacity="0.34"/><rect x="600.63" y="348.63" width="20.01" height="0.85" fill="#3030ff" fill-opacity="0.1"/><rect x="547.1" y="349.38" width="32.05" height="0.9" fill="url(#bf)" fill-opacity="0.39"/><rect x="547.1" y="350.13" width="36.71" height="0.9" fill="url(#bf)" fill-opacity="0.37"/><rect x="579.66" y="350.13" width="33.71" height="0.85" fill="#3030ff" fill-opacity="0.1"/><rect x="547.1" y="350.88" width="42.21" height="0.9" fill="url(#bf)" fill-opacity="0.47"/><rect x="634.11" y="350.88" width="10.24" height="0.85" fill="#ff3030" fill-opacity="0.05"/><rect x="592.86" y="350.88" width="41.32" height="0.95" fill="url(#bs)" fill-opacity="0.35"/><rect x="547.1" y="351.62" width="36.94" height="0.9" fill="url(#bf)" fill-opacity="0.39"/><rect x="547.1" y="352.37" width="35.55" height="0.9" fill="url(#bf)" fill-opacity="0.43"/><rect x="555.01" y="352.37" width="63.65" height="0.85" fill="#3030ff" fill-opacity="0.07"/><rect x="547.1" y="353.12" width="23.68" height="0.9" fill="url(#bf)" fill-opacity="0.43"/><rect x="578.4" y="353.12" width="19.28" height="0.85" fill="#3030ff" fill-opacity="0.05"/><rect x="547.1" y="353.86" width="32.64" height="0.9" fill="url(#bf)" fill-opacity="0.38"/><rect x="547.1" y="354.61" width="20.19" height="0.9" fill="url(#bf)" fill-opacity="0.57"/><rect x="547.1" y="355.36" width="36.41" height="0.9" fill="url(#bf)" fill-opacity="0.48"/><rect x="561.41" y="355.36" width="36" height="0.85" fill="#ff3030" fill-opacity="0.11"/><rect x="547.1" y="356.1" width="32.55" height="0.9" fill="url(#bf)" fill-opacity="0.52"/><rect x="616.35" y="356.1" width="20.88" height="0.85" fill="#ff3030" fill-opacity="0.12"/><rect x="547.1" y="356.85" width="35.01" height="0.9" fill="url(#bf)" fill-opacity="0.48"/><rect x="597.25" y="356.85" width="30.73" height="0.95" fill="url(#rs)" fill-opacity="0.19"/><rect x="547.1" y="357.6" width="32.76" height="0.9" fill="url(#bf)" fill-opacity="0.51"/><rect x="599.66" y="357.6" width="19.42" height="0.85" fill="#3030ff" fill-opacity="0.08"/><rect x="547.1" y="358.34" width="27.96" height="0.9" fill="url(#bf)" fill-opacity="0.74"/><rect x="547.1" y="359.09" width="28.94" height="0.9" fill="url(#bf)" fill-opacity="0.62"/><rect x="547.1" y="359.84" width="29.5" height="0.9" fill="url(#bf)" fill-opacity="0.79"/><rect x="547.1" y="360.58" width="35.2" height="0.9" fill="url(#bf)" fill-opacity="0.92"/><rect x="597.58" y="360.58" width="29.3" height="0.85" fill="#3030ff" fill-opacity="0.08"/><rect x="547.1" y="361.33" width="25.8" height="0.9" fill="url(#bf)" fill-opacity="0.9"/><rect x="551.18" y="361.33" width="79.1" height="0.95" fill="url(#rs)" fill-opacity="0.16"/><rect x="547.1" y="362.08" width="38.07" height="0.9" fill="url(#bf)" fill-opacity="0.86"/><rect x="559.9" y="362.08" width="15.88" height="0.95" fill="url(#rs)" fill-opacity="0.23"/><rect x="547.1" y="362.82" width="52.85" height="0.9" fill="url(#bf)" fill-opacity="0.96"/><rect x="547.1" y="363.57" width="51.95" height="0.9" fill="url(#bf)" fill-opacity="1"/><rect x="547.1" y="364.32" width="39.24" height="0.9" fill="url(#bf)" fill-opacity="0.99"/><rect x="627.87" y="364.32" width="13.2" height="0.85" fill="#ff3030" fill-opacity="0.08"/><rect x="547.1" y="365.07" width="42.93" height="0.9" fill="url(#bf)" fill-opacity="0.97"/><rect x="568.2" y="365.07" width="22.42" height="0.85" fill="#3030ff" fill-opacity="0.1"/><rect x="547.1" y="365.81" width="43.27" height="0.9" fill="url(#bf)" fill-opacity="1"/><rect x="547.1" y="366.56" width="56.57" height="0.9" fill="url(#bf)" fill-opacity="0.98"/><rect x="591.64" y="366.56" width="17.61" height="0.85" fill="#ff3030" fill-opacity="0.09"/><rect x="547.1" y="367.31" width="28.08" height="0.9" fill="url(#bf)" fill-opacity="0.93"/><rect x="564.23" y="367.31" width="28.51" height="0.85" fill="#3030ff" fill-opacity="0.08"/><rect x="547.1" y="368.05" width="57.5" height="0.9" fill="url(#bf)" fill-opacity="1"/></g>
<g filter="url(#hblur)"><rect x="84.3" y="506.2" width="126.1" height="119.6" fill="#fff" filter="url(#nzf)"/><rect x="113.9" y="506.2" width="76.83" height="1.11" fill="url(#rf)" fill-opacity="1"/><rect x="113.9" y="507.16" width="45.57" height="1.11" fill="url(#rf)" fill-opacity="1"/><rect x="129.87" y="507.16" width="49.59" height="1.06" fill="#ff3030" fill-opacity="0.12"/><rect x="113.9" y="508.11" width="86.76" height="1.11" fill="url(#rf)" fill-opacity="1"/><rect x="113.9" y="509.07" width="45.31" height="1.11" fill="url(#rf)" fill-opacity="0.99"/><rect x="113.9" y="510.03" width="64.03" height="1.11" fill="url(#rf)" fill-opacity="0.98"/><rect x="180.74" y="510.03" width="10.13" height="1.06" fill="#3030ff" fill-opacity="0.08"/><rect x="113.9" y="510.98" width="50.17" height="1.11" fill="url(#rf)" fill-opacity="1"/><rect x="165.58" y="510.98" width="25" height="1.06" fill="#3030ff" fill-opacity="0.07"/><rect x="113.9" y="511.94" width="42.46" height="1.11" fill="url(#rf)" fill-opacity="1"/><rect x="139.67" y="511.94" width="67.58" height="1.06" fill="#3030ff" fill-opacity="0.1"/><rect x="113.9" y="512.9" width="42.44" height="1.11" fill="url(#rf)" fill-opacity="1"/><rect x="116.05" y="512.9" width="86.54" height="1.06" fill="#3030ff" fill-opacity="0.07"/><rect x="170.05" y="512.9" width="31.8" height="1.16" fill="url(#rs)" fill-opacity="0.34"/><rect x="113.9" y="513.85" width="47.02" height="1.11" fill="url(#rf)" fill-opacity="0.93"/><rect x="113.9" y="514.81" width="71.72" height="1.11" fill="url(#rf)" fill-opacity="1"/><rect x="129.89" y="514.81" width="14.79" height="1.06" fill="#ff3030" fill-opacity="0.08"/><rect x="113.9" y="515.77" width="63.26" height="1.11" fill="url(#rf)" fill-opacity="1"/><rect x="113.9" y="516.72" width="57.56" height="1.11" fill="url(#rf)" fill-opacity="1"/><rect x="113.9" y="517.68" width="63.2" height="1.11" fill="url(#rf)" fill-opacity="1"/><rect x="122.76" y="517.68" width="61.32" height="1.06" fill="#ff3030" fill-opacity="0.09"/><rect x="113.9" y="518.64" width="51.13" height="1.11" fill="url(#rf)" fill-opacity="1"/><rect x="174.17" y="518.64" width="33.23" height="1.06" fill="#ff3030" fill-opacity="0.07"/><rect x="113.9" y="519.6" width="58.4" height="1.11" fill="url(#rf)" fill-opacity="1"/><rect x="113.9" y="520.55" width="70.79" height="1.11" fill="url(#rf)" fill-opacity="1"/><rect x="170.25" y="520.55" width="19.46" height="1.06" fill="#3030ff" fill-opacity="0.07"/><rect x="113.9" y="521.51" width="45.56" height="1.11" fill="url(#rf)" fill-opacity="1"/><rect x="155.09" y="521.51" width="53.1" height="1.06" fill="#ff3030" fill-opacity="0.11"/><rect x="113.9" y="522.47" width="41.36" height="1.11" fill="url(#rf)" fill-opacity="1"/><rect x="136.72" y="522.47" width="70.09" height="1.16" fill="url(#bs)" fill-opacity="0.36"/><rect x="113.9" y="523.42" width="36.68" height="1.11" fill="url(#rf)" fill-opacity="1"/><rect x="146.67" y="523.42" width="36.64" height="1.06" fill="#3030ff" fill-opacity="0.06"/><rect x="114.13" y="524.38" width="38.64" height="1.11" fill="url(#rf)" fill-opacity="0.95"/><rect x="164.61" y="524.38" width="35.52" height="1.06" fill="#ff3030" fill-opacity="0.11"/><rect x="114.51" y="525.34" width="59.74" height="1.11" fill="url(#rf)" fill-opacity="1"/><rect x="161.6" y="525.34" width="33.25" height="1.06" fill="#3030ff" fill-opacity="0.09"/><rect x="186.14" y="525.34" width="19.33" height="1.16" fill="url(#rs)" fill-opacity="0.34"/><rect x="115.2" y="526.29" width="57.43" height="1.11" fill="url(#rf)" fill-opacity="0.98"/><rect x="154.59" y="526.29" width="31.35" height="1.06" fill="#ff3030" fill-opacity="0.09"/><rect x="115.01" y="527.25" width="30.96" height="1.11" fill="url(#rf)" fill-opacity="0.89"/><rect x="177.7" y="527.25" width="19.14" height="1.06" fill="#3030ff" fill-opacity="0.09"/><rect x="115.82" y="528.21" width="56.02" height="1.11" fill="url(#rf)" fill-opacity="0.86"/><rect x="115.9" y="529.16" width="47.58" height="1.11" fill="url(#rf)" fill-opacity="1"/><rect x="116.6" y="530.12" width="36.34" height="1.11" fill="url(#rf)" fill-opacity="0.73"/><rect x="127.79" y="530.12" width="39.06" height="1.06" fill="#ff3030" fill-opacity="0.1"/><rect x="118.67" y="531.08" width="35.93" height="1.11" fill="url(#rf)" fill-opacity="0.83"/><rect x="119.16" y="532.03" width="49.5" height="1.11" fill="url(#rf)" fill-opacity="0.84"/><rect x="165.19" y="532.03" width="12.43" height="1.06" fill="#ff3030" fill-opacity="0.07"/><rect x="116.95" y="532.99" width="44.78" height="1.11" fill="url(#rf)" fill-opacity="0.5"/><rect x="155.85" y="532.99" width="47.51" height="1.06" fill="#3030ff" fill-opacity="0.05"/><rect x="118.49" y="533.95" width="39.04" height="1.11" fill="url(#rf)" fill-opacity="0.54"/><rect x="121.06" y="534.9" width="28.11" height="1.11" fill="url(#rf)" fill-opacity="0.52"/><rect x="134.9" y="534.9" width="45.04" height="1.06" fill="#3030ff" fill-opacity="0.12"/><rect x="119.69" y="535.86" width="39.63" height="1.11" fill="url(#rf)" fill-opacity="0.5"/><rect x="118.68" y="536.82" width="20.82" height="1.11" fill="url(#rf)" fill-opacity="0.4"/><rect x="129.66" y="536.82" width="30.29" height="1.06" fill="#ff3030" fill-opacity="0.04"/><rect x="118.61" y="537.77" width="23.24" height="1.11" fill="url(#rf)" fill-opacity="0.52"/><rect x="120.01" y="538.73" width="30.57" height="1.11" fill="url(#rf)" fill-opacity="0.34"/><rect x="118.88" y="539.69" width="27.46" height="1.11" fill="url(#rf)" fill-opacity="0.39"/><rect x="121.59" y="540.64" width="18.84" height="1.11" fill="url(#rf)" fill-opacity="0.41"/><rect x="127.28" y="540.64" width="15.43" height="1.06" fill="#3030ff" fill-opacity="0.12"/><rect x="123.09" y="541.6" width="33.07" height="1.11" fill="url(#rf)" fill-opacity="0.33"/><rect x="128.76" y="541.6" width="55.99" height="1.06" fill="#ff3030" fill-opacity="0.09"/><rect x="136.39" y="541.6" width="21.66" height="1.16" fill="url(#bs)" fill-opacity="0.27"/><rect x="123.04" y="542.56" width="33.54" height="1.11" fill="url(#rf)" fill-opacity="0.26"/><rect x="147.85" y="542.56" width="10.1" height="1.06" fill="#ff3030" fill-opacity="0.04"/><rect x="126.44" y="543.52" width="25.5" height="1.11" fill="url(#rf)" fill-opacity="0.31"/><rect x="172.86" y="543.52" width="12.88" height="1.06" fill="#ff3030" fill-opacity="0.09"/><rect x="124.95" y="544.47" width="20.96" height="1.11" fill="url(#rf)" fill-opacity="0.25"/><rect x="156.25" y="544.47" width="28.9" height="1.06" fill="#3030ff" fill-opacity="0.04"/><rect x="124.09" y="545.43" width="16.83" height="1.11" fill="url(#rf)" fill-opacity="0.22"/><rect x="128.47" y="546.39" width="27.64" height="1.11" fill="url(#rf)" fill-opacity="0.19"/><rect x="148.13" y="546.39" width="49.46" height="1.06" fill="#ff3030" fill-opacity="0.08"/><rect x="128.19" y="547.34" width="20.11" height="1.11" fill="url(#rf)" fill-opacity="0.14"/><rect x="173.73" y="547.34" width="12.11" height="1.06" fill="#3030ff" fill-opacity="0.11"/><rect x="124.88" y="548.3" width="12" height="1.11" fill="url(#rf)" fill-opacity="0.1"/><rect x="130.97" y="548.3" width="65.17" height="1.06" fill="#3030ff" fill-opacity="0.04"/><rect x="123.22" y="549.26" width="8.24" height="1.11" fill="url(#rf)" fill-opacity="0.08"/><rect x="123.44" y="550.21" width="4" height="1.11" fill="url(#rf)" fill-opacity="0.03"/><rect x="113.9" y="550.21" width="15.58" height="1.11" fill="url(#bf)" fill-opacity="0.05"/><rect x="117.46" y="550.21" width="63.54" height="1.06" fill="#3030ff" fill-opacity="0.06"/><rect x="113.9" y="551.17" width="20.82" height="1.11" fill="url(#bf)" fill-opacity="0.09"/><rect x="113.9" y="552.13" width="26.85" height="1.11" fill="url(#bf)" fill-opacity="0.12"/><rect x="113.9" y="553.08" width="27.79" height="1.11" fill="url(#bf)" fill-opacity="0.12"/><rect x="113.9" y="554.04" width="29.21" height="1.11" fill="url(#bf)" fill-opacity="0.16"/><rect x="182.91" y="554.04" width="20.88" height="1.06" fill="#3030ff" fill-opacity="0.05"/><rect x="113.9" y="555" width="17.95" height="1.11" fill="url(#bf)" fill-opacity="0.26"/><rect x="149.65" y="555" width="53.27" height="1.06" fill="#3030ff" fill-opacity="0.06"/><rect x="113.9" y="555.95" width="33.63" height="1.11" fill="url(#bf)" fill-opacity="0.31"/><rect x="113.9" y="556.91" width="16.96" height="1.11" fill="url(#bf)" fill-opacity="0.32"/><rect x="141.59" y="556.91" width="66.28" height="1.06" fill="#ff3030" fill-opacity="0.05"/><rect x="113.9" y="557.87" width="22.87" height="1.11" fill="url(#bf)" fill-opacity="0.35"/><rect x="187.76" y="557.87" width="22.26" height="1.06" fill="#3030ff" fill-opacity="0.09"/><rect x="113.9" y="558.82" width="31.71" height="1.11" fill="url(#bf)" fill-opacity="0.37"/><rect x="113.9" y="559.78" width="39.7" height="1.11" fill="url(#bf)" fill-opacity="0.35"/><rect x="152.48" y="559.78" width="40.53" height="1.06" fill="#3030ff" fill-opacity="0.09"/><rect x="113.9" y="560.74" width="38.7" height="1.11" fill="url(#bf)" fill-opacity="0.32"/><rect x="113.9" y="561.69" width="32.63" height="1.11" fill="url(#bf)" fill-opacity="0.29"/><rect x="113.9" y="562.65" width="36.2" height="1.11" fill="url(#bf)" fill-opacity="0.42"/><rect x="113.9" y="563.61" width="29.99" height="1.11" fill="url(#bf)" fill-opacity="0.47"/><rect x="137.67" y="563.61" width="32.75" height="1.06" fill="#3030ff" fill-opacity="0.08"/><rect x="113.9" y="564.56" width="39.19" height="1.11" fill="url(#bf)" fill-opacity="0.35"/><rect x="113.9" y="565.52" width="21.71" height="1.11" fill="url(#bf)" fill-opacity="0.54"/><rect x="153.92" y="565.52" width="23.8" height="1.06" fill="#3030ff" fill-opacity="0.06"/><rect x="148.41" y="565.52" width="17.37" height="1.16" fill="url(#rs)" fill-opacity="0.3"/><rect x="113.9" y="566.48" width="34.39" height="1.11" fill="url(#bf)" fill-opacity="0.52"/><rect x="162.4" y="566.48" width="29.87" height="1.06" fill="#ff3030" fill-opacity="0.06"/><rect x="113.9" y="567.44" width="30.44" height="1.11" fill="url(#bf)" fill-opacity="0.51"/><rect x="172.2" y="567.44" width="17.79" height="1.06" fill="#3030ff" fill-opacity="0.06"/><rect x="113.9" y="568.39" width="37.03" height="1.11" fill="url(#bf)" fill-opacity="0.45"/><rect x="113.9" y="569.35" width="46.27" height="1.11" fill="url(#bf)" fill-opacity="0.57"/><rect x="113.9" y="570.31" width="29.32" height="1.11" fill="url(#bf)" fill-opacity="0.54"/><rect x="113.9" y="571.26" width="25.01" height="1.11" fill="url(#bf)" fill-opacity="0.5"/><rect x="113.9" y="572.22" width="45.67" height="1.11" fill="url(#bf)" fill-opacity="0.76"/><rect x="143.36" y="572.22" width="28.28" height="1.06" fill="#ff3030" fill-opacity="0.05"/><rect x="113.9" y="573.18" width="23.36" height="1.11" fill="url(#bf)" fill-opacity="0.58"/><rect x="113.9" y="574.13" width="36.8" height="1.11" fill="url(#bf)" fill-opacity="0.77"/><rect x="113.9" y="575.09" width="43.18" height="1.11" fill="url(#bf)" fill-opacity="0.68"/><rect x="193.25" y="575.09" width="12.42" height="1.06" fill="#3030ff" fill-opacity="0.05"/><rect x="113.9" y="576.05" width="48.14" height="1.11" fill="url(#bf)" fill-opacity="0.56"/><rect x="113.9" y="577" width="27.43" height="1.11" fill="url(#bf)" fill-opacity="0.75"/><rect x="113.9" y="577.96" width="44.8" height="1.11" fill="url(#bf)" fill-opacity="0.88"/><rect x="128.69" y="577.96" width="20.25" height="1.06" fill="#ff3030" fill-opacity="0.07"/><rect x="113.9" y="578.92" width="26.91" height="1.11" fill="url(#bf)" fill-opacity="0.97"/><rect x="113.9" y="579.87" width="55.43" height="1.11" fill="url(#bf)" fill-opacity="0.64"/><rect x="165.37" y="579.87" width="30.49" height="1.06" fill="#ff3030" fill-opacity="0.07"/><rect x="113.9" y="580.83" width="38.39" height="1.11" fill="url(#bf)" fill-opacity="0.9"/><rect x="113.9" y="581.79" width="40.79" height="1.11" fill="url(#bf)" fill-opacity="0.81"/><rect x="194.53" y="581.79" width="13.64" height="1.06" fill="#ff3030" fill-opacity="0.08"/><rect x="153.23" y="581.79" width="17.94" height="1.16" fill="url(#rs)" fill-opacity="0.28"/><rect x="113.9" y="582.74" width="34.37" height="1.11" fill="url(#bf)" fill-opacity="0.89"/><rect x="140.85" y="582.74" width="51.85" height="1.06" fill="#ff3030" fill-opacity="0.11"/><rect x="113.9" y="583.7" width="37.65" height="1.11" fill="url(#bf)" fill-opacity="0.85"/><rect x="113.9" y="584.66" width="35.84" height="1.11" fill="url(#bf)" fill-opacity="0.98"/><rect x="120.18" y="584.66" width="46.6" height="1.06" fill="#3030ff" fill-opacity="0.05"/><rect x="113.9" y="585.61" width="51.39" height="1.11" fill="url(#bf)" fill-opacity="0.93"/><rect x="132.86" y="585.61" width="50.81" height="1.06" fill="#ff3030" fill-opacity="0.04"/><rect x="113.9" y="586.57" width="58.26" height="1.11" fill="url(#bf)" fill-opacity="0.99"/><rect x="113.9" y="587.53" width="51.6" height="1.11" fill="url(#bf)" fill-opacity="0.91"/><rect x="113.9" y="588.48" width="38.7" height="1.11" fill="url(#bf)" fill-opacity="0.96"/><rect x="121.22" y="588.48" width="14.55" height="1.06" fill="#3030ff" fill-opacity="0.05"/><rect x="113.9" y="589.44" width="35.98" height="1.11" fill="url(#bf)" fill-opacity="1"/><rect x="113.9" y="590.4" width="45.69" height="1.11" fill="url(#bf)" fill-opacity="0.88"/><rect x="140.64" y="590.4" width="14.01" height="1.06" fill="#ff3030" fill-opacity="0.04"/><rect x="113.9" y="591.36" width="40.44" height="1.11" fill="url(#bf)" fill-opacity="0.98"/><rect x="113.9" y="592.31" width="63.71" height="1.11" fill="url(#bf)" fill-opacity="0.99"/><rect x="179.02" y="592.31" width="26.63" height="1.06" fill="#ff3030" fill-opacity="0.1"/><rect x="113.9" y="593.27" width="49.21" height="1.11" fill="url(#bf)" fill-opacity="0.94"/><rect x="176.01" y="593.27" width="16.14" height="1.06" fill="#3030ff" fill-opacity="0.1"/><rect x="113.9" y="594.23" width="62.48" height="1.11" fill="url(#bf)" fill-opacity="1"/><rect x="113.9" y="595.18" width="71.31" height="1.11" fill="url(#bf)" fill-opacity="1"/><rect x="171.06" y="595.18" width="26.14" height="1.06" fill="#3030ff" fill-opacity="0.12"/><rect x="113.9" y="596.14" width="54.69" height="1.11" fill="url(#bf)" fill-opacity="0.95"/><rect x="175.67" y="596.14" width="25.73" height="1.06" fill="#ff3030" fill-opacity="0.06"/><rect x="113.9" y="597.1" width="63" height="1.11" fill="url(#bf)" fill-opacity="0.99"/><rect x="123.53" y="597.1" width="63.01" height="1.06" fill="#3030ff" fill-opacity="0.05"/><rect x="113.9" y="598.05" width="60.9" height="1.11" fill="url(#bf)" fill-opacity="1"/><rect x="157.73" y="598.05" width="52.22" height="1.06" fill="#3030ff" fill-opacity="0.07"/><rect x="113.9" y="599.01" width="70.07" height="1.11" fill="url(#bf)" fill-opacity="1"/><rect x="113.9" y="599.97" width="45.61" height="1.11" fill="url(#bf)" fill-opacity="0.96"/><rect x="113.9" y="600.92" width="57.5" height="1.11" fill="url(#bf)" fill-opacity="0.96"/><rect x="113.9" y="601.88" width="76.66" height="1.11" fill="url(#bf)" fill-opacity="1"/><rect x="113.9" y="602.84" width="50" height="1.11" fill="url(#bf)" fill-opacity="1"/><rect x="113.9" y="603.79" width="51.28" height="1.11" fill="url(#bf)" fill-opacity="0.97"/><rect x="113.9" y="604.75" width="41.91" height="1.11" fill="url(#bf)" fill-opacity="1"/><rect x="113.9" y="605.71" width="72.35" height="1.11" fill="url(#bf)" fill-opacity="1"/><rect x="122.62" y="605.71" width="23.47" height="1.06" fill="#ff3030" fill-opacity="0.09"/><rect x="113.9" y="606.66" width="42.53" height="1.11" fill="url(#bf)" fill-opacity="0.95"/><rect x="113.9" y="607.62" width="63.73" height="1.11" fill="url(#bf)" fill-opacity="0.94"/><rect x="113.9" y="608.58" width="79.01" height="1.11" fill="url(#bf)" fill-opacity="1"/><rect x="189.42" y="608.58" width="18.5" height="1.06" fill="#3030ff" fill-opacity="0.07"/><rect x="113.9" y="609.53" width="42.71" height="1.11" fill="url(#bf)" fill-opacity="1"/><rect x="169.27" y="609.53" width="39.65" height="1.06" fill="#ff3030" fill-opacity="0.06"/><rect x="113.9" y="610.49" width="68.37" height="1.11" fill="url(#bf)" fill-opacity="1"/><rect x="129.15" y="610.49" width="53.8" height="1.16" fill="url(#bs)" fill-opacity="0.17"/><rect x="113.9" y="611.45" width="56.47" height="1.11" fill="url(#bf)" fill-opacity="0.94"/><rect x="142.73" y="611.45" width="19.82" height="1.06" fill="#ff3030" fill-opacity="0.09"/><rect x="113.9" y="612.4" width="88.04" height="1.11" fill="url(#bf)" fill-opacity="1"/><rect x="167.17" y="612.4" width="22.12" height="1.06" fill="#3030ff" fill-opacity="0.09"/><rect x="113.9" y="613.36" width="90.86" height="1.11" fill="url(#bf)" fill-opacity="1"/><rect x="151.75" y="613.36" width="14.15" height="1.06" fill="#3030ff" fill-opacity="0.06"/><rect x="113.9" y="614.32" width="42.24" height="1.11" fill="url(#bf)" fill-opacity="0.98"/><rect x="113.9" y="615.28" width="69.74" height="1.11" fill="url(#bf)" fill-opacity="0.97"/><rect x="180.69" y="615.28" width="24.12" height="1.06" fill="#ff3030" fill-opacity="0.09"/><rect x="113.9" y="616.23" width="47.68" height="1.11" fill="url(#bf)" fill-opacity="1"/><rect x="152.85" y="616.23" width="35.89" height="1.06" fill="#3030ff" fill-opacity="0.11"/><rect x="113.9" y="617.19" width="54.41" height="1.11" fill="url(#bf)" fill-opacity="0.98"/><rect x="113.9" y="618.15" width="54.03" height="1.11" fill="url(#bf)" fill-opacity="0.96"/><rect x="186.25" y="618.15" width="16.2" height="1.06" fill="#3030ff" fill-opacity="0.08"/><rect x="113.9" y="619.1" width="66.5" height="1.11" fill="url(#bf)" fill-opacity="0.97"/><rect x="113.9" y="620.06" width="58.47" height="1.11" fill="url(#bf)" fill-opacity="1"/><rect x="143.15" y="620.06" width="21.34" height="1.06" fill="#3030ff" fill-opacity="0.04"/><rect x="113.9" y="621.02" width="55.01" height="1.11" fill="url(#bf)" fill-opacity="0.97"/><rect x="113.9" y="621.97" width="52.81" height="1.11" fill="url(#bf)" fill-opacity="1"/><rect x="141.01" y="621.97" width="40.2" height="1.06" fill="#3030ff" fill-opacity="0.11"/><rect x="113.9" y="622.93" width="47.28" height="1.11" fill="url(#bf)" fill-opacity="0.92"/><rect x="150.98" y="622.93" width="10.31" height="1.06" fill="#ff3030" fill-opacity="0.05"/><rect x="113.9" y="623.89" width="64.53" height="1.11" fill="url(#bf)" fill-opacity="0.96"/><rect x="187.27" y="623.89" width="11.48" height="1.06" fill="#ff3030" fill-opacity="0.06"/><rect x="113.9" y="624.84" width="88.18" height="1.11" fill="url(#bf)" fill-opacity="1"/><rect x="170" y="547.45" width="40" height="1.1" fill="#0000ff" fill-opacity="0.45"/></g>
<g filter="url(#hblur)"><rect x="229.9" y="506.2" width="125.8" height="119.6" fill="#fff" filter="url(#nzf)"/><rect x="258.1" y="506.2" width="94.59" height="1.11" fill="url(#rf)" fill-opacity="1"/><rect x="262.37" y="506.2" width="55.38" height="1.06" fill="#3030ff" fill-opacity="0.11"/><rect x="258.1" y="507.16" width="55.36" height="1.11" fill="url(#rf)" fill-opacity="1"/><rect x="274.23" y="507.16" width="78.72" height="1.16" fill="url(#bs)" fill-opacity="0.34"/><rect x="258.1" y="508.11" width="43.34" height="1.11" fill="url(#rf)" fill-opacity="1"/><rect x="325.69" y="508.11" width="20.79" height="1.06" fill="#3030ff" fill-opacity="0.08"/><rect x="258.1" y="509.07" width="62.33" height="1.11" fill="url(#rf)" fill-opacity="1"/><rect x="288.69" y="509.07" width="28.29" height="1.06" fill="#ff3030" fill-opacity="0.07"/><rect x="333.27" y="509.07" width="21.07" height="1.16" fill="url(#rs)" fill-opacity="0.17"/><rect x="258.1" y="510.03" width="81.33" height="1.11" fill="url(#rf)" fill-opacity="0.97"/><rect x="295.52" y="510.03" width="39.01" height="1.06" fill="#ff3030" fill-opacity="0.07"/><rect x="258.1" y="510.98" width="61.86" height="1.11" fill="url(#rf)" fill-opacity="1"/><rect x="323.81" y="510.98" width="11.74" height="1.06" fill="#3030ff" fill-opacity="0.08"/><rect x="258.1" y="511.94" width="85.47" height="1.11" fill="url(#rf)" fill-opacity="1"/><rect x="258.1" y="512.9" width="80.02" height="1.11" fill="url(#rf)" fill-opacity="0.98"/><rect x="292.02" y="512.9" width="26.8" height="1.06" fill="#3030ff" fill-opacity="0.1"/><rect x="258.1" y="513.85" width="68.29" height="1.11" fill="url(#rf)" fill-opacity="0.93"/><rect x="259.94" y="513.85" width="86.63" height="1.06" fill="#3030ff" fill-opacity="0.1"/><rect x="258.1" y="514.81" width="79.62" height="1.11" fill="url(#rf)" fill-opacity="1"/><rect x="258.1" y="515.77" width="85.72" height="1.11" fill="url(#rf)" fill-opacity="1"/><rect x="258.1" y="516.72" width="52.91" height="1.11" fill="url(#rf)" fill-opacity="0.99"/><rect x="258.1" y="517.68" width="79.29" height="1.11" fill="url(#rf)" fill-opacity="1"/><rect x="258.1" y="518.64" width="57.13" height="1.11" fill="url(#rf)" fill-opacity="0.94"/><rect x="337.08" y="518.64" width="13.22" height="1.06" fill="#ff3030" fill-opacity="0.05"/><rect x="258.1" y="519.6" width="81.57" height="1.11" fill="url(#rf)" fill-opacity="0.98"/><rect x="271.9" y="519.6" width="13.61" height="1.06" fill="#3030ff" fill-opacity="0.09"/><rect x="258.1" y="520.55" width="55.69" height="1.11" fill="url(#rf)" fill-opacity="1"/><rect x="278.36" y="520.55" width="63.47" height="1.06" fill="#ff3030" fill-opacity="0.07"/><rect x="258.1" y="521.51" width="70.72" height="1.11" fill="url(#rf)" fill-opacity="0.97"/><rect x="320.68" y="521.51" width="18.59" height="1.06" fill="#3030ff" fill-opacity="0.07"/><rect x="258.1" y="522.47" width="49.95" height="1.11" fill="url(#rf)" fill-opacity="0.94"/><rect x="258.1" y="523.42" width="58.98" height="1.11" fill="url(#rf)" fill-opacity="0.93"/><rect x="276.34" y="523.42" width="53.07" height="1.06" fill="#ff3030" fill-opacity="0.05"/><rect x="258.1" y="524.38" width="72.97" height="1.11" fill="url(#rf)" fill-opacity="1"/><rect x="334.73" y="524.38" width="19.31" height="1.06" fill="#ff3030" fill-opacity="0.07"/><rect x="258.1" y="525.34" width="61.56" height="1.11" fill="url(#rf)" fill-opacity="1"/><rect x="266.05" y="525.34" width="36.24" height="1.06" fill="#ff3030" fill-opacity="0.09"/><rect x="258.1" y="526.29" width="71.99" height="1.11" fill="url(#rf)" fill-opacity="1"/><rect x="266.84" y="526.29" width="39.16" height="1.06" fill="#3030ff" fill-opacity="0.08"/><rect x="258.1" y="527.25" width="47.81" height="1.11" fill="url(#rf)" fill-opacity="0.95"/><rect x="322.08" y="527.25" width="24.16" height="1.06" fill="#3030ff" fill-opacity="0.04"/><rect x="258.1" y="528.21" width="47.91" height="1.11" fill="url(#rf)" fill-opacity="1"/><rect x="258.1" y="529.16" width="51.49" height="1.11" fill="url(#rf)" fill-opacity="1"/><rect x="282.18" y="529.16" width="28.5" height="1.06" fill="#ff3030" fill-opacity="0.1"/><rect x="258.41" y="530.12" width="51.53" height="1.11" fill="url(#rf)" fill-opacity="0.94"/><rect x="258.79" y="531.08" width="38.99" height="1.11" fill="url(#rf)" fill-opacity="1"/><rect x="303.66" y="531.08" width="11.36" height="1.06" fill="#ff3030" fill-opacity="0.05"/><rect x="258.89" y="532.03" width="38.92" height="1.11" fill="url(#rf)" fill-opacity="0.98"/><rect x="341.32" y="532.03" width="14.32" height="1.06" fill="#3030ff" fill-opacity="0.05"/><rect x="259.28" y="532.99" width="30.51" height="1.11" fill="url(#rf)" fill-opacity="1"/><rect x="259.88" y="533.95" width="61.07" height="1.11" fill="url(#rf)" fill-opacity="1"/><rect x="261.09" y="534.9" width="64.38" height="1.11" fill="url(#rf)" fill-opacity="1"/><rect x="262" y="535.86" width="48.49" height="1.11" fill="url(#rf)" fill-opacity="0.92"/><rect x="260.33" y="535.86" width="48.2" height="1.06" fill="#3030ff" fill-opacity="0.1"/><rect x="260.83" y="536.82" width="55.08" height="1.11" fill="url(#rf)" fill-opacity="0.99"/><rect x="261.78" y="537.77" width="60.35" height="1.11" fill="url(#rf)" fill-opacity="0.83"/><rect x="282.92" y="537.77" width="32.55" height="1.16" fill="url(#rs)" fill-opacity="0.31"/><rect x="263.74" y="538.73" width="48.41" height="1.11" fill="url(#rf)" fill-opacity="0.94"/><rect x="283.22" y="538.73" width="35.07" height="1.06" fill="#3030ff" fill-opacity="0.1"/><rect x="263.73" y="539.69" width="43.57" height="1.11" fill="url(#rf)" fill-opacity="0.94"/><rect x="264.63" y="540.64" width="53.61" height="1.11" fill="url(#rf)" fill-opacity="0.9"/><rect x="260.72" y="540.64" width="70.08" height="1.06" fill="#3030ff" fill-opacity="0.06"/><rect x="262.35" y="541.6" width="30.6" height="1.11" fill="url(#rf)" fill-opacity="0.92"/><rect x="262.97" y="542.56" width="54.18" height="1.11" fill="url(#rf)" fill-opacity="0.63"/><rect x="264.95" y="543.52" width="45.16" height="1.11" fill="url(#rf)" fill-opacity="0.58"/><rect x="266.97" y="544.47" width="28.2" height="1.11" fill="url(#rf)" fill-opacity="0.64"/><rect x="337.92" y="544.47" width="10.27" height="1.06" fill="#3030ff" fill-opacity="0.04"/><rect x="266.13" y="545.43" width="30.54" height="1.11" fill="url(#rf)" fill-opacity="0.78"/><rect x="263.81" y="545.43" width="78.71" height="1.06" fill="#3030ff" fill-opacity="0.1"/><rect x="270.75" y="545.43" width="31.09" height="1.16" fill="url(#bs)" fill-opacity="0.16"/><rect x="265.41" y="546.39" width="31.71" height="1.11" fill="url(#rf)" fill-opacity="0.44"/><rect x="265.65" y="547.34" width="41.33" height="1.11" fill="url(#rf)" fill-opacity="0.47"/><rect x="266.49" y="548.3" width="31.95" height="1.11" fill="url(#rf)" fill-opacity="0.38"/><rect x="306.75" y="548.3" width="36.9" height="1.06" fill="#ff3030" fill-opacity="0.08"/><rect x="264.95" y="549.26" width="24.23" height="1.11" fill="url(#rf)" fill-opacity="0.5"/><rect x="341.43" y="549.26" width="11.65" height="1.06" fill="#3030ff" fill-opacity="0.12"/><rect x="267.92" y="550.21" width="37.39" height="1.11" fill="url(#rf)" fill-opacity="0.4"/><rect x="269.34" y="551.17" width="34.33" height="1.11" fill="url(#rf)" fill-opacity="0.43"/><rect x="307.89" y="551.17" width="26.19" height="1.06" fill="#3030ff" fill-opacity="0.1"/><rect x="272.46" y="552.13" width="20.75" height="1.11" fill="url(#rf)" fill-opacity="0.35"/><rect x="297.51" y="552.13" width="56.49" height="1.06" fill="#3030ff" fill-opacity="0.11"/><rect x="265.85" y="553.08" width="26.57" height="1.11" fill="url(#rf)" fill-opacity="0.28"/><rect x="297.6" y="553.08" width="33.07" height="1.06" fill="#3030ff" fill-opacity="0.08"/><rect x="269.86" y="554.04" width="31.86" height="1.11" fill="url(#rf)" fill-opacity="0.26"/><rect x="301.34" y="554.04" width="28.18" height="1.06" fill="#3030ff" fill-opacity="0.09"/><rect x="296.57" y="554.04" width="26.04" height="1.16" fill="url(#bs)" fill-opacity="0.27"/><rect x="272.34" y="555" width="37.06" height="1.11" fill="url(#rf)" fill-opacity="0.33"/><rect x="267.84" y="555.95" width="32.73" height="1.11" fill="url(#rf)" fill-opacity="0.21"/><rect x="309.26" y="555.95" width="19.65" height="1.06" fill="#3030ff" fill-opacity="0.08"/><rect x="269.4" y="556.91" width="24.82" height="1.11" fill="url(#rf)" fill-opacity="0.17"/><rect x="314.87" y="556.91" width="28.22" height="1.06" fill="#3030ff" fill-opacity="0.08"/><rect x="269.26" y="557.87" width="26.42" height="1.11" fill="url(#rf)" fill-opacity="0.23"/><rect x="276.22" y="558.82" width="20.16" height="1.11" fill="url(#rf)" fill-opacity="0.14"/><rect x="270.25" y="559.78" width="18.47" height="1.11" fill="url(#rf)" fill-opacity="0.16"/><rect x="296.9" y="559.78" width="50.65" height="1.06" fill="#3030ff" fill-opacity="0.12"/><rect x="272.02" y="560.74" width="14.74" height="1.11" fill="url(#rf)" fill-opacity="0.13"/><rect x="275.37" y="561.69" width="12.6" height="1.11" fill="url(#rf)" fill-opacity="0.08"/><rect x="323.34" y="561.69" width="19.42" height="1.06" fill="#3030ff" fill-opacity="0.08"/><rect x="273.6" y="562.65" width="8.07" height="1.11" fill="url(#rf)" fill-opacity="0.09"/><rect x="320.73" y="562.65" width="26.66" height="1.06" fill="#ff3030" fill-opacity="0.08"/><rect x="271.88" y="563.61" width="4" height="1.11" fill="url(#rf)" fill-opacity="0.05"/><rect x="282.67" y="563.61" width="45.65" height="1.06" fill="#3030ff" fill-opacity="0.09"/><rect x="273.86" y="564.56" width="4" height="1.11" fill="url(#rf)" fill-opacity="0.03"/><rect x="258.1" y="564.56" width="15.9" height="1.11" fill="url(#bf)" fill-opacity="0.06"/><rect x="258.1" y="565.52" width="14.34" height="1.11" fill="url(#bf)" fill-opacity="0.11"/><rect x="258.1" y="566.48" width="24.59" height="1.11" fill="url(#bf)" fill-opacity="0.11"/><rect x="273.81" y="566.48" width="53.71" height="1.06" fill="#3030ff" fill-opacity="0.08"/><rect x="258.1" y="567.44" width="28.61" height="1.11" fill="url(#bf)" fill-opacity="0.18"/><rect x="258.1" y="568.39" width="24.03" height="1.11" fill="url(#bf)" fill-opacity="0.25"/><rect x="258.1" y="569.35" width="24.67" height="1.11" fill="url(#bf)" fill-opacity="0.19"/><rect x="258.1" y="570.31" width="22.3" height="1.11" fill="url(#bf)" fill-opacity="0.35"/><rect x="299.15" y="570.31" width="55.19" height="1.06" fill="#ff3030" fill-opacity="0.06"/><rect x="258.1" y="571.26" width="23.94" height="1.11" fill="url(#bf)" fill-opacity="0.29"/><rect x="338.44" y="571.26" width="13.21" height="1.06" fill="#3030ff" fill-opacity="0.06"/><rect x="258.1" y="572.22" width="32.06" height="1.11" fill="url(#bf)" fill-opacity="0.27"/><rect x="304.66" y="572.22" width="23.34" height="1.06" fill="#3030ff" fill-opacity="0.08"/><rect x="258.1" y="573.18" width="22.66" height="1.11" fill="url(#bf)" fill-opacity="0.28"/><rect x="258.1" y="574.13" width="23.68" height="1.11" fill="url(#bf)" fill-opacity="0.31"/><rect x="304.3" y="574.13" width="25.8" height="1.06" fill="#ff3030" fill-opacity="0.08"/><rect x="258.1" y="575.09" width="30.07" height="1.11" fill="url(#bf)" fill-opacity="0.36"/><rect x="308.34" y="575.09" width="37.65" height="1.06" fill="#3030ff" fill-opacity="0.06"/><rect x="258.1" y="576.05" width="25.7" height="1.11" fill="url(#bf)" fill-opacity="0.37"/><rect x="294.25" y="576.05" width="20.85" height="1.06" fill="#3030ff" fill-opacity="0.06"/><rect x="258.1" y="577" width="22.1" height="1.11" fill="url(#bf)" fill-opacity="0.53"/><rect x="269.73" y="577" width="51.2" height="1.06" fill="#3030ff" fill-opacity="0.11"/><rect x="258.1" y="577.96" width="30.49" height="1.11" fill="url(#bf)" fill-opacity="0.42"/><rect x="258.1" y="578.92" width="31.96" height="1.11" fill="url(#bf)" fill-opacity="0.69"/><rect x="288.26" y="578.92" width="51.52" height="1.16" fill="url(#bs)" fill-opacity="0.27"/><rect x="258.1" y="579.87" width="39.24" height="1.11" fill="url(#bf)" fill-opacity="0.7"/><rect x="320.17" y="579.87" width="23.18" height="1.06" fill="#ff3030" fill-opacity="0.11"/><rect x="258.1" y="580.83" width="26.52" height="1.11" fill="url(#bf)" fill-opacity="0.75"/><rect x="296.89" y="580.83" width="28.25" height="1.16" fill="url(#rs)" fill-opacity="0.25"/><rect x="258.1" y="581.79" width="32.19" height="1.11" fill="url(#bf)" fill-opacity="0.67"/><rect x="258.1" y="582.74" width="26.58" height="1.11" fill="url(#bf)" fill-opacity="0.6"/><rect x="286.7" y="582.74" width="35.06" height="1.06" fill="#3030ff" fill-opacity="0.1"/><rect x="258.1" y="583.7" width="29.83" height="1.11" fill="url(#bf)" fill-opacity="0.61"/><rect x="258.7" y="583.7" width="65.24" height="1.06" fill="#ff3030" fill-opacity="0.09"/><rect x="258.1" y="584.66" width="49.86" height="1.11" fill="url(#bf)" fill-opacity="0.68"/><rect x="259.61" y="584.66" width="19.2" height="1.06" fill="#ff3030" fill-opacity="0.1"/><rect x="258.1" y="585.61" width="47.89" height="1.11" fill="url(#bf)" fill-opacity="0.69"/><rect x="278.12" y="585.61" width="48.6" height="1.06" fill="#3030ff" fill-opacity="0.1"/><rect x="258.1" y="586.57" width="41.61" height="1.11" fill="url(#bf)" fill-opacity="0.93"/><rect x="258.1" y="587.53" width="40.45" height="1.11" fill="url(#bf)" fill-opacity="0.67"/><rect x="283.73" y="587.53" width="32.56" height="1.16" fill="url(#rs)" fill-opacity="0.34"/><rect x="258.1" y="588.48" width="28.29" height="1.11" fill="url(#bf)" fill-opacity="0.89"/><rect x="258.1" y="589.44" width="25.3" height="1.11" fill="url(#bf)" fill-opacity="0.82"/><rect x="258.1" y="590.4" width="41.14" height="1.11" fill="url(#bf)" fill-opacity="0.92"/><rect x="307.74" y="590.4" width="44.64" height="1.06" fill="#3030ff" fill-opacity="0.1"/><rect x="258.1" y="591.36" width="50.38" height="1.11" fill="url(#bf)" fill-opacity="1"/><rect x="284.53" y="591.36" width="28.38" height="1.06" fill="#3030ff" fill-opacity="0.09"/><rect x="258.1" y="592.31" width="40.15" height="1.11" fill="url(#bf)" fill-opacity="0.97"/><rect x="282.93" y="592.31" width="66.78" height="1.06" fill="#3030ff" fill-opacity="0.11"/><rect x="258.1" y="593.27" width="44.86" height="1.11" fill="url(#bf)" fill-opacity="1"/><rect x="296.17" y="593.27" width="56.67" height="1.06" fill="#3030ff" fill-opacity="0.08"/><rect x="258.1" y="594.23" width="36.31" height="1.11" fill="url(#bf)" fill-opacity="1"/><rect x="281.19" y="594.23" width="14.96" height="1.06" fill="#ff3030" fill-opacity="0.04"/><rect x="258.1" y="595.18" width="58.68" height="1.11" fill="url(#bf)" fill-opacity="0.94"/><rect x="281.88" y="595.18" width="45.08" height="1.06" fill="#ff3030" fill-opacity="0.1"/><rect x="258.1" y="596.14" width="29.38" height="1.11" fill="url(#bf)" fill-opacity="1"/><rect x="335.4" y="596.14" width="17.09" height="1.06" fill="#ff3030" fill-opacity="0.09"/><rect x="258.1" y="597.1" width="38.04" height="1.11" fill="url(#bf)" fill-opacity="1"/><rect x="314.93" y="597.1" width="36.04" height="1.06" fill="#ff3030" fill-opacity="0.09"/><rect x="258.1" y="598.05" width="45.92" height="1.11" fill="url(#bf)" fill-opacity="1"/><rect x="258.1" y="599.01" width="43.85" height="1.11" fill="url(#bf)" fill-opacity="0.99"/><rect x="258.1" y="599.97" width="58.13" height="1.11" fill="url(#bf)" fill-opacity="1"/><rect x="258.1" y="600.92" width="39.64" height="1.11" fill="url(#bf)" fill-opacity="1"/><rect x="258.86" y="600.92" width="72.58" height="1.06" fill="#3030ff" fill-opacity="0.1"/><rect x="258.1" y="601.88" width="34.31" height="1.11" fill="url(#bf)" fill-opacity="1"/><rect x="338.86" y="601.88" width="10.74" height="1.06" fill="#3030ff" fill-opacity="0.1"/><rect x="258.1" y="602.84" width="58.67" height="1.11" fill="url(#bf)" fill-opacity="0.96"/><rect x="299.2" y="602.84" width="22.83" height="1.16" fill="url(#bs)" fill-opacity="0.28"/><rect x="258.1" y="603.79" width="46.37" height="1.11" fill="url(#bf)" fill-opacity="0.92"/><rect x="337.47" y="603.79" width="17.3" height="1.06" fill="#3030ff" fill-opacity="0.04"/><rect x="258.1" y="604.75" width="56.98" height="1.11" fill="url(#bf)" fill-opacity="0.97"/><rect x="258.1" y="605.71" width="41.58" height="1.11" fill="url(#bf)" fill-opacity="0.94"/><rect x="258.1" y="606.66" width="69.71" height="1.11" fill="url(#bf)" fill-opacity="0.99"/><rect x="271.46" y="606.66" width="58.27" height="1.06" fill="#ff3030" fill-opacity="0.1"/><rect x="258.1" y="607.62" width="66.21" height="1.11" fill="url(#bf)" fill-opacity="1"/><rect x="306" y="607.62" width="27.69" height="1.06" fill="#ff3030" fill-opacity="0.11"/><rect x="258.1" y="608.58" width="35.46" height="1.11" fill="url(#bf)" fill-opacity="1"/><rect x="258.1" y="609.53" width="38.81" height="1.11" fill="url(#bf)" fill-opacity="1"/><rect x="258.1" y="610.49" width="42.97" height="1.11" fill="url(#bf)" fill-opacity="1"/><rect x="332.11" y="610.49" width="18.21" height="1.06" fill="#3030ff" fill-opacity="0.1"/><rect x="258.1" y="611.45" width="47.07" height="1.11" fill="url(#bf)" fill-opacity="1"/><rect x="258.1" y="612.4" width="47.12" height="1.11" fill="url(#bf)" fill-opacity="1"/><rect x="265.29" y="612.4" width="13.14" height="1.06" fill="#ff3030" fill-opacity="0.04"/><rect x="258.1" y="613.36" width="73.42" height="1.11" fill="url(#bf)" fill-opacity="0.99"/><rect x="344.39" y="613.36" width="10.12" height="1.06" fill="#3030ff" fill-opacity="0.07"/><rect x="258.1" y="614.32" width="51.02" height="1.11" fill="url(#bf)" fill-opacity="1"/><rect x="269.54" y="614.32" width="61.72" height="1.06" fill="#3030ff" fill-opacity="0.12"/><rect x="258.1" y="615.28" width="50.99" height="1.11" fill="url(#bf)" fill-opacity="1"/><rect x="282.49" y="615.28" width="36.02" height="1.06" fill="#3030ff" fill-opacity="0.06"/><rect x="258.1" y="616.23" width="56.47" height="1.11" fill="url(#bf)" fill-opacity="1"/><rect x="258.1" y="617.19" width="69.32" height="1.11" fill="url(#bf)" fill-opacity="0.98"/><rect x="258.1" y="618.15" width="41.09" height="1.11" fill="url(#bf)" fill-opacity="1"/><rect x="258.1" y="619.1" width="59.31" height="1.11" fill="url(#bf)" fill-opacity="1"/><rect x="310.11" y="619.1" width="41.48" height="1.16" fill="url(#rs)" fill-opacity="0.34"/><rect x="258.1" y="620.06" width="61.25" height="1.11" fill="url(#bf)" fill-opacity="1"/><rect x="258.1" y="621.02" width="62.89" height="1.11" fill="url(#bf)" fill-opacity="0.94"/><rect x="258.1" y="621.97" width="78.51" height="1.11" fill="url(#bf)" fill-opacity="1"/><rect x="333.71" y="621.97" width="14.21" height="1.06" fill="#ff3030" fill-opacity="0.1"/><rect x="258.1" y="622.93" width="46.36" height="1.11" fill="url(#bf)" fill-opacity="0.97"/><rect x="336.04" y="622.93" width="19.61" height="1.06" fill="#3030ff" fill-opacity="0.1"/><rect x="258.1" y="623.89" width="47.08" height="1.11" fill="url(#bf)" fill-opacity="1"/><rect x="332.01" y="623.89" width="10.27" height="1.06" fill="#3030ff" fill-opacity="0.07"/><rect x="258.1" y="624.84" width="50.73" height="1.11" fill="url(#bf)" fill-opacity="1"/><rect x="299.49" y="624.84" width="35.5" height="1.06" fill="#3030ff" fill-opacity="0.09"/><rect x="286" y="624.84" width="60.4" height="1.16" fill="url(#rs)" fill-opacity="0.2"/><rect x="295" y="564.45" width="30" height="1.1" fill="#ff0000" fill-opacity="0.6"/></g>
<g filter="url(#hblur)"><rect x="374.9" y="506.2" width="125.7" height="119.6" fill="#fff" filter="url(#nzf)"/><rect x="402.4" y="506.2" width="98.2" height="1.11" fill="url(#rf)" fill-opacity="0.95"/><rect x="431.46" y="506.2" width="31.77" height="1.06" fill="#3030ff" fill-opacity="0.11"/><rect x="402.4" y="507.16" width="82.14" height="1.11" fill="url(#rf)" fill-opacity="1"/><rect x="402.4" y="508.11" width="62.82" height="1.11" fill="url(#rf)" fill-opacity="1"/><rect x="402.4" y="509.07" width="52.05" height="1.11" fill="url(#rf)" fill-opacity="1"/><rect x="406.59" y="509.07" width="33.68" height="1.06" fill="#ff3030" fill-opacity="0.1"/><rect x="402.4" y="510.03" width="50.08" height="1.11" fill="url(#rf)" fill-opacity="1"/><rect x="430.65" y="510.03" width="22.36" height="1.06" fill="#3030ff" fill-opacity="0.04"/><rect x="402.4" y="510.98" width="56.38" height="1.11" fill="url(#rf)" fill-opacity="0.94"/><rect x="485.22" y="510.98" width="13.96" height="1.06" fill="#ff3030" fill-opacity="0.12"/><rect x="402.4" y="511.94" width="70.74" height="1.11" fill="url(#rf)" fill-opacity="0.94"/><rect x="402.4" y="512.9" width="53.68" height="1.11" fill="url(#rf)" fill-opacity="1"/><rect x="402.85" y="513.85" width="77.97" height="1.11" fill="url(#rf)" fill-opacity="0.93"/><rect x="403.32" y="514.81" width="48.31" height="1.11" fill="url(#rf)" fill-opacity="0.95"/><rect x="450.89" y="514.81" width="43.48" height="1.06" fill="#3030ff" fill-opacity="0.05"/><rect x="403.38" y="515.77" width="49.82" height="1.11" fill="url(#rf)" fill-opacity="0.8"/><rect x="403.66" y="516.72" width="54.07" height="1.11" fill="url(#rf)" fill-opacity="0.84"/><rect x="431.42" y="516.72" width="15.12" height="1.06" fill="#ff3030" fill-opacity="0.07"/><rect x="405.44" y="517.68" width="33.92" height="1.11" fill="url(#rf)" fill-opacity="0.55"/><rect x="422.94" y="517.68" width="40.4" height="1.06" fill="#ff3030" fill-opacity="0.08"/><rect x="405.39" y="518.64" width="62.37" height="1.11" fill="url(#rf)" fill-opacity="0.76"/><rect x="406.04" y="519.6" width="45.36" height="1.11" fill="url(#rf)" fill-opacity="0.65"/><rect x="409.13" y="519.6" width="46.83" height="1.06" fill="#3030ff" fill-opacity="0.09"/><rect x="467.02" y="519.6" width="15.87" height="1.16" fill="url(#rs)" fill-opacity="0.19"/><rect x="406.36" y="520.55" width="33.61" height="1.11" fill="url(#rf)" fill-opacity="0.54"/><rect x="405.11" y="521.51" width="27.33" height="1.11" fill="url(#rf)" fill-opacity="0.56"/><rect x="413.69" y="521.51" width="23.52" height="1.06" fill="#ff3030" fill-opacity="0.05"/><rect x="407.92" y="522.47" width="38.41" height="1.11" fill="url(#rf)" fill-opacity="0.48"/><rect x="446.6" y="522.47" width="11.81" height="1.06" fill="#3030ff" fill-opacity="0.11"/><rect x="407.42" y="523.42" width="41.93" height="1.11" fill="url(#rf)" fill-opacity="0.43"/><rect x="458.53" y="523.42" width="32.81" height="1.06" fill="#3030ff" fill-opacity="0.12"/><rect x="409.08" y="524.38" width="40.9" height="1.11" fill="url(#rf)" fill-opacity="0.52"/><rect x="419.83" y="524.38" width="69.64" height="1.06" fill="#ff3030" fill-opacity="0.04"/><rect x="410.17" y="525.34" width="27.17" height="1.11" fill="url(#rf)" fill-opacity="0.34"/><rect x="475.31" y="525.34" width="14.08" height="1.06" fill="#3030ff" fill-opacity="0.07"/><rect x="407.41" y="526.29" width="40.56" height="1.11" fill="url(#rf)" fill-opacity="0.44"/><rect x="407.49" y="527.25" width="41.31" height="1.11" fill="url(#rf)" fill-opacity="0.33"/><rect x="412.45" y="527.25" width="55.52" height="1.06" fill="#ff3030" fill-opacity="0.07"/><rect x="407.18" y="528.21" width="33" height="1.11" fill="url(#rf)" fill-opacity="0.35"/><rect x="411.75" y="528.21" width="58.87" height="1.06" fill="#ff3030" fill-opacity="0.05"/><rect x="408.96" y="529.16" width="35.37" height="1.11" fill="url(#rf)" fill-opacity="0.39"/><rect x="426.76" y="529.16" width="44.96" height="1.06" fill="#3030ff" fill-opacity="0.05"/><rect x="411.61" y="530.12" width="23.51" height="1.11" fill="url(#rf)" fill-opacity="0.34"/><rect x="411.05" y="530.12" width="15.56" height="1.06" fill="#3030ff" fill-opacity="0.08"/><rect x="430.25" y="530.12" width="49.95" height="1.16" fill="url(#rs)" fill-opacity="0.36"/><rect x="411.54" y="531.08" width="29.17" height="1.11" fill="url(#rf)" fill-opacity="0.22"/><rect x="489.46" y="531.08" width="10.62" height="1.06" fill="#ff3030" fill-opacity="0.1"/><rect x="455.73" y="531.08" width="39.94" height="1.16" fill="url(#bs)" fill-opacity="0.16"/><rect x="413.85" y="532.03" width="34.81" height="1.11" fill="url(#rf)" fill-opacity="0.22"/><rect x="484.27" y="532.03" width="15.15" height="1.06" fill="#ff3030" fill-opacity="0.11"/><rect x="427.78" y="532.03" width="27.09" height="1.16" fill="url(#rs)" fill-opacity="0.27"/><rect x="409.93" y="532.99" width="39.1" height="1.11" fill="url(#rf)" fill-opacity="0.2"/><rect x="412.4" y="533.95" width="27.23" height="1.11" fill="url(#rf)" fill-opacity="0.3"/><rect x="415.2" y="534.9" width="15.24" height="1.11" fill="url(#rf)" fill-opacity="0.22"/><rect x="415.29" y="535.86" width="18.7" height="1.11" fill="url(#rf)" fill-opacity="0.25"/><rect x="434.11" y="535.86" width="45.64" height="1.06" fill="#ff3030" fill-opacity="0.12"/><rect x="411.88" y="536.82" width="21.92" height="1.11" fill="url(#rf)" fill-opacity="0.19"/><rect x="415.6" y="537.77" width="14.17" height="1.11" fill="url(#rf)" fill-opacity="0.15"/><rect x="406.45" y="537.77" width="25.33" height="1.06" fill="#3030ff" fill-opacity="0.09"/><rect x="413.98" y="538.73" width="6.66" height="1.11" fill="url(#rf)" fill-opacity="0.11"/><rect x="425.23" y="538.73" width="41.97" height="1.06" fill="#3030ff" fill-opacity="0.05"/><rect x="412.12" y="539.69" width="9.05" height="1.11" fill="url(#rf)" fill-opacity="0.11"/><rect x="416.87" y="540.64" width="7.13" height="1.11" fill="url(#rf)" fill-opacity="0.1"/><rect x="448.45" y="540.64" width="21.44" height="1.06" fill="#ff3030" fill-opacity="0.05"/><rect x="413.37" y="541.6" width="4" height="1.11" fill="url(#rf)" fill-opacity="0.06"/><rect x="421.14" y="542.56" width="4" height="1.11" fill="url(#rf)" fill-opacity="0.04"/><rect x="440.9" y="543.52" width="11.23" height="1.06" fill="#ff3030" fill-opacity="0.1"/><rect x="432.52" y="544.47" width="66.2" height="1.06" fill="#ff3030" fill-opacity="0.07"/><rect x="452.06" y="545.43" width="12.7" height="1.06" fill="#ff3030" fill-opacity="0.07"/><rect x="428.79" y="546.39" width="30.35" height="1.06" fill="#ff3030" fill-opacity="0.05"/><rect x="405.78" y="548.3" width="76.8" height="1.06" fill="#ff3030" fill-opacity="0.06"/><rect x="476.14" y="550.21" width="21.03" height="1.06" fill="#ff3030" fill-opacity="0.06"/><rect x="417.97" y="551.17" width="81.53" height="1.06" fill="#ff3030" fill-opacity="0.05"/><rect x="404.2" y="553.08" width="28.53" height="1.06" fill="#3030ff" fill-opacity="0.12"/><rect x="482.02" y="555" width="12.69" height="1.06" fill="#ff3030" fill-opacity="0.1"/><rect x="451.07" y="555.95" width="20.15" height="1.16" fill="url(#bs)" fill-opacity="0.34"/><rect x="490.6" y="559.78" width="10" height="1.06" fill="#ff3030" fill-opacity="0.09"/><rect x="420.85" y="560.74" width="11.34" height="1.06" fill="#ff3030" fill-opacity="0.07"/><rect x="479.91" y="561.69" width="20.68" height="1.06" fill="#3030ff" fill-opacity="0.06"/><rect x="443.17" y="562.65" width="33.73" height="1.06" fill="#ff3030" fill-opacity="0.1"/><rect x="473.51" y="565.52" width="26.39" height="1.06" fill="#ff3030" fill-opacity="0.09"/><rect x="407.94" y="567.44" width="67.3" height="1.06" fill="#ff3030" fill-opacity="0.1"/><rect x="454.46" y="569.35" width="44.36" height="1.06" fill="#ff3030" fill-opacity="0.1"/><rect x="416.24" y="569.35" width="63.33" height="1.16" fill="url(#rs)" fill-opacity="0.36"/><rect x="479.87" y="573.18" width="12.87" height="1.06" fill="#3030ff" fill-opacity="0.07"/><rect x="460.51" y="575.09" width="39.75" height="1.06" fill="#ff3030" fill-opacity="0.08"/><rect x="418.01" y="577" width="55.44" height="1.06" fill="#ff3030" fill-opacity="0.1"/><rect x="461.79" y="577" width="18.82" height="1.16" fill="url(#bs)" fill-opacity="0.36"/><rect x="411.15" y="577.96" width="26.72" height="1.06" fill="#ff3030" fill-opacity="0.12"/><rect x="403.16" y="578.92" width="58.88" height="1.06" fill="#3030ff" fill-opacity="0.08"/><rect x="402.4" y="580.83" width="16.79" height="1.11" fill="url(#bf)" fill-opacity="0.02"/><rect x="415.73" y="580.83" width="27.88" height="1.06" fill="#ff3030" fill-opacity="0.06"/><rect x="402.4" y="581.79" width="14.76" height="1.11" fill="url(#bf)" fill-opacity="0.03"/><rect x="408.51" y="581.79" width="84.78" height="1.06" fill="#ff3030" fill-opacity="0.08"/><rect x="402.4" y="582.74" width="11.6" height="1.11" fill="url(#bf)" fill-opacity="0.07"/><rect x="424.95" y="582.74" width="44.48" height="1.16" fill="url(#rs)" fill-opacity="0.33"/><rect x="402.4" y="583.7" width="22.14" height="1.11" fill="url(#bf)" fill-opacity="0.08"/><rect x="428.26" y="583.7" width="27.1" height="1.06" fill="#3030ff" fill-opacity="0.07"/><rect x="402.4" y="584.66" width="13.09" height="1.11" fill="url(#bf)" fill-opacity="0.08"/><rect x="459.48" y="584.66" width="40" height="1.06" fill="#3030ff" fill-opacity="0.06"/><rect x="402.4" y="585.61" width="16.98" height="1.11" fill="url(#bf)" fill-opacity="0.11"/><rect x="402.4" y="586.57" width="13.65" height="1.11" fill="url(#bf)" fill-opacity="0.12"/><rect x="483.77" y="586.57" width="13.27" height="1.06" fill="#3030ff" fill-opacity="0.08"/><rect x="402.4" y="587.53" width="21.75" height="1.11" fill="url(#bf)" fill-opacity="0.14"/><rect x="447.84" y="587.53" width="11.07" height="1.06" fill="#ff3030" fill-opacity="0.05"/><rect x="402.4" y="588.48" width="29.23" height="1.11" fill="url(#bf)" fill-opacity="0.17"/><rect x="402.4" y="589.44" width="19.22" height="1.11" fill="url(#bf)" fill-opacity="0.18"/><rect x="402.4" y="590.4" width="15.39" height="1.11" fill="url(#bf)" fill-opacity="0.19"/><rect x="402.4" y="591.36" width="17.92" height="1.11" fill="url(#bf)" fill-opacity="0.25"/><rect x="402.4" y="592.31" width="22.99" height="1.11" fill="url(#bf)" fill-opacity="0.22"/><rect x="402.4" y="593.27" width="32.43" height="1.11" fill="url(#bf)" fill-opacity="0.27"/><rect x="449.91" y="593.27" width="27.48" height="1.06" fill="#3030ff" fill-opacity="0.11"/><rect x="402.4" y="594.23" width="21.35" height="1.11" fill="url(#bf)" fill-opacity="0.21"/><rect x="402.4" y="595.18" width="25.66" height="1.11" fill="url(#bf)" fill-opacity="0.25"/><rect x="439.81" y="595.18" width="46.75" height="1.16" fill="url(#bs)" fill-opacity="0.35"/><rect x="402.4" y="596.14" width="34.07" height="1.11" fill="url(#bf)" fill-opacity="0.21"/><rect x="402.4" y="597.1" width="19.98" height="1.11" fill="url(#bf)" fill-opacity="0.29"/><rect x="421.58" y="597.1" width="46.83" height="1.06" fill="#3030ff" fill-opacity="0.07"/><rect x="402.4" y="598.05" width="17.19" height="1.11" fill="url(#bf)" fill-opacity="0.3"/><rect x="490.42" y="598.05" width="10.09" height="1.06" fill="#3030ff" fill-opacity="0.11"/><rect x="402.4" y="599.01" width="34.45" height="1.11" fill="url(#bf)" fill-opacity="0.2"/><rect x="402.4" y="599.97" width="17.03" height="1.11" fill="url(#bf)" fill-opacity="0.3"/><rect x="402.4" y="600.92" width="31.7" height="1.11" fill="url(#bf)" fill-opacity="0.35"/><rect x="418.23" y="600.92" width="47.23" height="1.06" fill="#3030ff" fill-opacity="0.08"/><rect x="402.4" y="601.88" width="20.46" height="1.11" fill="url(#bf)" fill-opacity="0.25"/><rect x="429.23" y="601.88" width="38.96" height="1.06" fill="#3030ff" fill-opacity="0.06"/><rect x="402.4" y="602.84" width="38.09" height="1.11" fill="url(#bf)" fill-opacity="0.33"/><rect x="428.74" y="602.84" width="35.65" height="1.06" fill="#ff3030" fill-opacity="0.05"/><rect x="402.4" y="603.79" width="22.97" height="1.11" fill="url(#bf)" fill-opacity="0.26"/><rect x="402.4" y="604.75" width="32.82" height="1.11" fill="url(#bf)" fill-opacity="0.32"/><rect x="402.4" y="605.71" width="20.84" height="1.11" fill="url(#bf)" fill-opacity="0.4"/><rect x="411.72" y="605.71" width="33.91" height="1.16" fill="url(#rs)" fill-opacity="0.19"/><rect x="402.4" y="606.66" width="37.35" height="1.11" fill="url(#bf)" fill-opacity="0.28"/><rect x="402.4" y="607.62" width="36.49" height="1.11" fill="url(#bf)" fill-opacity="0.35"/><rect x="409.2" y="607.62" width="47.42" height="1.06" fill="#ff3030" fill-opacity="0.08"/><rect x="402.4" y="608.58" width="27.25" height="1.11" fill="url(#bf)" fill-opacity="0.32"/><rect x="460.54" y="608.58" width="19.19" height="1.06" fill="#ff3030" fill-opacity="0.08"/><rect x="402.4" y="609.53" width="42.22" height="1.11" fill="url(#bf)" fill-opacity="0.32"/><rect x="483.21" y="609.53" width="12.88" height="1.06" fill="#3030ff" fill-opacity="0.04"/><rect x="402.4" y="610.49" width="29.01" height="1.11" fill="url(#bf)" fill-opacity="0.49"/><rect x="489.09" y="610.49" width="10.84" height="1.06" fill="#3030ff" fill-opacity="0.09"/><rect x="402.4" y="611.45" width="31.14" height="1.11" fill="url(#bf)" fill-opacity="0.62"/><rect x="439.9" y="611.45" width="31.02" height="1.06" fill="#ff3030" fill-opacity="0.07"/><rect x="402.4" y="612.4" width="35.78" height="1.11" fill="url(#bf)" fill-opacity="0.66"/><rect x="450.72" y="612.4" width="33.58" height="1.06" fill="#ff3030" fill-opacity="0.1"/><rect x="402.4" y="613.36" width="43.53" height="1.11" fill="url(#bf)" fill-opacity="0.7"/><rect x="402.4" y="614.32" width="50.7" height="1.11" fill="url(#bf)" fill-opacity="0.67"/><rect x="424.58" y="614.32" width="15.12" height="1.16" fill="url(#bs)" fill-opacity="0.37"/><rect x="402.4" y="615.28" width="42.73" height="1.11" fill="url(#bf)" fill-opacity="0.71"/><rect x="466.8" y="615.28" width="23.01" height="1.06" fill="#3030ff" fill-opacity="0.05"/><rect x="402.4" y="616.23" width="25.97" height="1.11" fill="url(#bf)" fill-opacity="0.73"/><rect x="483.13" y="616.23" width="10.65" height="1.06" fill="#3030ff" fill-opacity="0.1"/><rect x="402.4" y="617.19" width="44.04" height="1.11" fill="url(#bf)" fill-opacity="0.9"/><rect x="444.25" y="617.19" width="30.4" height="1.06" fill="#3030ff" fill-opacity="0.07"/><rect x="402.4" y="618.15" width="38.91" height="1.11" fill="url(#bf)" fill-opacity="0.76"/><rect x="464.94" y="618.15" width="31.46" height="1.06" fill="#3030ff" fill-opacity="0.1"/><rect x="402.4" y="619.1" width="29.81" height="1.11" fill="url(#bf)" fill-opacity="0.57"/><rect x="447.12" y="619.1" width="13.36" height="1.06" fill="#3030ff" fill-opacity="0.1"/><rect x="402.4" y="620.06" width="38.55" height="1.11" fill="url(#bf)" fill-opacity="0.96"/><rect x="425.77" y="620.06" width="18.48" height="1.06" fill="#3030ff" fill-opacity="0.05"/><rect x="402.4" y="621.02" width="52.13" height="1.11" fill="url(#bf)" fill-opacity="0.85"/><rect x="402.4" y="621.97" width="61.91" height="1.11" fill="url(#bf)" fill-opacity="0.87"/><rect x="472.66" y="621.97" width="27.92" height="1.06" fill="#3030ff" fill-opacity="0.06"/><rect x="402.4" y="622.93" width="28.78" height="1.11" fill="url(#bf)" fill-opacity="1"/><rect x="402.4" y="623.89" width="46.79" height="1.11" fill="url(#bf)" fill-opacity="0.92"/><rect x="470.74" y="623.89" width="17.94" height="1.06" fill="#ff3030" fill-opacity="0.11"/><rect x="402.4" y="624.84" width="56.37" height="1.11" fill="url(#bf)" fill-opacity="0.94"/><rect x="455.77" y="624.84" width="25.48" height="1.06" fill="#ff3030" fill-opacity="0.12"/><rect x="430" y="590.45" width="70" height="1.1" fill="#0000ff" fill-opacity="0.5"/><rect x="440" y="605.95" width="60" height="1.1" fill="#0000ff" fill-opacity="0.5"/></g>
<g filter="url(#hblur)"><rect x="518.5" y="506.2" width="126" height="119.6" fill="#fff" filter="url(#nzf)"/><rect x="547.1" y="506.2" width="70.79" height="1.11" fill="url(#rf)" fill-opacity="0.93"/><rect x="547.1" y="507.16" width="45.36" height="1.11" fill="url(#rf)" fill-opacity="0.95"/><rect x="547.1" y="508.11" width="58.32" height="1.11" fill="url(#rf)" fill-opacity="1"/><rect x="585.62" y="508.11" width="23.73" height="1.06" fill="#3030ff" fill-opacity="0.05"/><rect x="547.1" y="509.07" width="32.12" height="1.11" fill="url(#rf)" fill-opacity="1"/><rect x="567.78" y="509.07" width="35.66" height="1.06" fill="#ff3030" fill-opacity="0.09"/><rect x="547.1" y="510.03" width="34.18" height="1.11" fill="url(#rf)" fill-opacity="0.97"/><rect x="595.56" y="510.03" width="11.29" height="1.06" fill="#3030ff" fill-opacity="0.07"/><rect x="547.1" y="510.98" width="40.53" height="1.11" fill="url(#rf)" fill-opacity="0.95"/><rect x="589.98" y="510.98" width="31.61" height="1.06" fill="#ff3030" fill-opacity="0.05"/><rect x="547.1" y="511.94" width="29.17" height="1.11" fill="url(#rf)" fill-opacity="0.91"/><rect x="569.66" y="511.94" width="56.07" height="1.06" fill="#ff3030" fill-opacity="0.09"/><rect x="547.1" y="512.9" width="60.79" height="1.11" fill="url(#rf)" fill-opacity="0.99"/><rect x="547.57" y="513.85" width="55.6" height="1.11" fill="url(#rf)" fill-opacity="0.83"/><rect x="612.03" y="513.85" width="21.26" height="1.06" fill="#3030ff" fill-opacity="0.07"/><rect x="548.19" y="514.81" width="56.88" height="1.11" fill="url(#rf)" fill-opacity="0.97"/><rect x="584.79" y="514.81" width="46.58" height="1.06" fill="#3030ff" fill-opacity="0.08"/><rect x="548.18" y="515.77" width="43.1" height="1.11" fill="url(#rf)" fill-opacity="0.78"/><rect x="569.4" y="515.77" width="74.06" height="1.06" fill="#ff3030" fill-opacity="0.06"/><rect x="548.67" y="516.72" width="45.35" height="1.11" fill="url(#rf)" fill-opacity="0.83"/><rect x="605.92" y="516.72" width="31.33" height="1.06" fill="#3030ff" fill-opacity="0.1"/><rect x="550" y="517.68" width="47.07" height="1.11" fill="url(#rf)" fill-opacity="0.5"/><rect x="580.57" y="517.68" width="63.05" height="1.06" fill="#3030ff" fill-opacity="0.11"/><rect x="550.49" y="518.64" width="47.96" height="1.11" fill="url(#rf)" fill-opacity="0.51"/><rect x="626.82" y="518.64" width="16.25" height="1.06" fill="#3030ff" fill-opacity="0.11"/><rect x="549.52" y="519.6" width="45.13" height="1.11" fill="url(#rf)" fill-opacity="0.49"/><rect x="616.06" y="519.6" width="25.31" height="1.06" fill="#ff3030" fill-opacity="0.07"/><rect x="550.34" y="520.55" width="38.48" height="1.11" fill="url(#rf)" fill-opacity="0.69"/><rect x="563.46" y="520.55" width="53.44" height="1.06" fill="#3030ff" fill-opacity="0.06"/><rect x="551.28" y="521.51" width="35.38" height="1.11" fill="url(#rf)" fill-opacity="0.54"/><rect x="548.42" y="521.51" width="56.29" height="1.06" fill="#3030ff" fill-opacity="0.11"/><rect x="552.87" y="522.47" width="22.59" height="1.11" fill="url(#rf)" fill-opacity="0.51"/><rect x="631.3" y="522.47" width="13.02" height="1.06" fill="#ff3030" fill-opacity="0.04"/><rect x="599.38" y="522.47" width="29.82" height="1.16" fill="url(#bs)" fill-opacity="0.23"/><rect x="551.03" y="523.42" width="21.07" height="1.11" fill="url(#rf)" fill-opacity="0.46"/><rect x="554.52" y="524.38" width="32.46" height="1.11" fill="url(#rf)" fill-opacity="0.32"/><rect x="551.52" y="525.34" width="17.49" height="1.11" fill="url(#rf)" fill-opacity="0.41"/><rect x="593.62" y="525.34" width="44.22" height="1.06" fill="#ff3030" fill-opacity="0.09"/><rect x="553.42" y="526.29" width="18.21" height="1.11" fill="url(#rf)" fill-opacity="0.4"/><rect x="552.92" y="527.25" width="34.52" height="1.11" fill="url(#rf)" fill-opacity="0.39"/><rect x="554.1" y="528.21" width="29.01" height="1.11" fill="url(#rf)" fill-opacity="0.31"/><rect x="613.79" y="528.21" width="23.4" height="1.06" fill="#3030ff" fill-opacity="0.11"/><rect x="554.83" y="529.16" width="26.03" height="1.11" fill="url(#rf)" fill-opacity="0.24"/><rect x="557.54" y="530.12" width="13.07" height="1.11" fill="url(#rf)" fill-opacity="0.23"/><rect x="555.02" y="531.08" width="22.36" height="1.11" fill="url(#rf)" fill-opacity="0.27"/><rect x="556.18" y="532.03" width="20.9" height="1.11" fill="url(#rf)" fill-opacity="0.29"/><rect x="633.28" y="532.03" width="10.63" height="1.06" fill="#3030ff" fill-opacity="0.12"/><rect x="606.83" y="532.03" width="17.54" height="1.16" fill="url(#rs)" fill-opacity="0.31"/><rect x="558.03" y="532.99" width="24.14" height="1.11" fill="url(#rf)" fill-opacity="0.17"/><rect x="594.22" y="532.99" width="25.96" height="1.06" fill="#ff3030" fill-opacity="0.06"/><rect x="559.39" y="533.95" width="22.17" height="1.11" fill="url(#rf)" fill-opacity="0.22"/><rect x="556.22" y="534.9" width="23.25" height="1.11" fill="url(#rf)" fill-opacity="0.18"/><rect x="627.92" y="534.9" width="10.53" height="1.06" fill="#ff3030" fill-opacity="0.11"/><rect x="555.22" y="535.86" width="12.28" height="1.11" fill="url(#rf)" fill-opacity="0.2"/><rect x="602.66" y="535.86" width="35.25" height="1.06" fill="#3030ff" fill-opacity="0.11"/><rect x="558.22" y="536.82" width="9.29" height="1.11" fill="url(#rf)" fill-opacity="0.18"/><rect x="549.19" y="536.82" width="27.34" height="1.06" fill="#3030ff" fill-opacity="0.12"/><rect x="554.88" y="537.77" width="19.51" height="1.11" fill="url(#rf)" fill-opacity="0.16"/><rect x="556.76" y="538.73" width="14.7" height="1.11" fill="url(#rf)" fill-opacity="0.09"/><rect x="547.6" y="538.73" width="37.91" height="1.06" fill="#ff3030" fill-opacity="0.05"/><rect x="563.97" y="539.69" width="4" height="1.11" fill="url(#rf)" fill-opacity="0.08"/><rect x="579.21" y="539.69" width="13.52" height="1.06" fill="#3030ff" fill-opacity="0.06"/><rect x="564.4" y="540.64" width="5.38" height="1.11" fill="url(#rf)" fill-opacity="0.06"/><rect x="597.83" y="540.64" width="12.68" height="1.06" fill="#3030ff" fill-opacity="0.1"/><rect x="560.61" y="541.6" width="4" height="1.11" fill="url(#rf)" fill-opacity="0.06"/><rect x="596.7" y="541.6" width="19.48" height="1.06" fill="#3030ff" fill-opacity="0.06"/><rect x="555.88" y="541.6" width="73.07" height="1.16" fill="url(#rs)" fill-opacity="0.28"/><rect x="557.99" y="542.56" width="4" height="1.11" fill="url(#rf)" fill-opacity="0.03"/><rect x="612.78" y="542.56" width="25.9" height="1.06" fill="#3030ff" fill-opacity="0.09"/><rect x="609.19" y="545.43" width="23.47" height="1.06" fill="#3030ff" fill-opacity="0.06"/><rect x="592.15" y="546.39" width="16.07" height="1.06" fill="#ff3030" fill-opacity="0.11"/><rect x="561.67" y="546.39" width="51.79" height="1.16" fill="url(#bs)" fill-opacity="0.32"/><rect x="571.64" y="549.26" width="10.35" height="1.06" fill="#3030ff" fill-opacity="0.12"/><rect x="595.07" y="551.17" width="48.97" height="1.06" fill="#3030ff" fill-opacity="0.06"/><rect x="593.44" y="554.04" width="23.12" height="1.06" fill="#3030ff" fill-opacity="0.05"/><rect x="585.54" y="555" width="39.81" height="1.06" fill="#ff3030" fill-opacity="0.09"/><rect x="614.41" y="555" width="16.59" height="1.16" fill="url(#bs)" fill-opacity="0.36"/><rect x="596.74" y="556.91" width="12.33" height="1.06" fill="#3030ff" fill-opacity="0.1"/><rect x="555.04" y="557.87" width="63.04" height="1.06" fill="#3030ff" fill-opacity="0.04"/><rect x="554.42" y="560.74" width="70.61" height="1.06" fill="#ff3030" fill-opacity="0.11"/><rect x="618.46" y="561.69" width="15.26" height="1.06" fill="#ff3030" fill-opacity="0.04"/><rect x="590.43" y="562.65" width="35.67" height="1.06" fill="#ff3030" fill-opacity="0.04"/><rect x="610.32" y="563.61" width="31.63" height="1.06" fill="#3030ff" fill-opacity="0.1"/><rect x="591.95" y="564.56" width="51.96" height="1.06" fill="#3030ff" fill-opacity="0.06"/><rect x="578.51" y="565.52" width="25.76" height="1.06" fill="#3030ff" fill-opacity="0.07"/><rect x="621.21" y="566.48" width="11.14" height="1.06" fill="#3030ff" fill-opacity="0.06"/><rect x="578.01" y="567.44" width="64" height="1.06" fill="#ff3030" fill-opacity="0.07"/><rect x="613.27" y="568.39" width="30.52" height="1.06" fill="#3030ff" fill-opacity="0.04"/><rect x="556.44" y="570.31" width="62.82" height="1.06" fill="#3030ff" fill-opacity="0.08"/><rect x="579.94" y="571.26" width="44.48" height="1.06" fill="#3030ff" fill-opacity="0.12"/><rect x="583.97" y="572.22" width="36.52" height="1.06" fill="#3030ff" fill-opacity="0.05"/><rect x="627.22" y="575.09" width="17.1" height="1.06" fill="#ff3030" fill-opacity="0.09"/><rect x="578.82" y="576.05" width="18.45" height="1.06" fill="#3030ff" fill-opacity="0.09"/><rect x="625.53" y="577" width="14.64" height="1.06" fill="#3030ff" fill-opacity="0.08"/><rect x="554.94" y="578.92" width="60.85" height="1.06" fill="#ff3030" fill-opacity="0.08"/><rect x="566.43" y="579.87" width="25.28" height="1.06" fill="#ff3030" fill-opacity="0.05"/><rect x="547.1" y="581.79" width="16.5" height="1.11" fill="url(#bf)" fill-opacity="0.03"/><rect x="614.62" y="581.79" width="17.48" height="1.06" fill="#ff3030" fill-opacity="0.04"/><rect x="547.1" y="582.74" width="18.11" height="1.11" fill="url(#bf)" fill-opacity="0.04"/><rect x="598.64" y="582.74" width="13.21" height="1.06" fill="#ff3030" fill-opacity="0.11"/><rect x="547.1" y="583.7" width="23.89" height="1.11" fill="url(#bf)" fill-opacity="0.04"/><rect x="586.12" y="583.7" width="47.98" height="1.06" fill="#3030ff" fill-opacity="0.06"/><rect x="547.1" y="584.66" width="15.72" height="1.11" fill="url(#bf)" fill-opacity="0.05"/><rect x="596.22" y="584.66" width="30.68" height="1.06" fill="#3030ff" fill-opacity="0.1"/><rect x="547.1" y="585.61" width="22.31" height="1.11" fill="url(#bf)" fill-opacity="0.07"/><rect x="547.1" y="586.57" width="19.67" height="1.11" fill="url(#bf)" fill-opacity="0.07"/><rect x="591.87" y="586.57" width="50.07" height="1.06" fill="#ff3030" fill-opacity="0.11"/><rect x="547.1" y="587.53" width="18.26" height="1.11" fill="url(#bf)" fill-opacity="0.09"/><rect x="595.11" y="587.53" width="43.27" height="1.06" fill="#ff3030" fill-opacity="0.06"/><rect x="547.1" y="588.48" width="22.14" height="1.11" fill="url(#bf)" fill-opacity="0.08"/><rect x="547.1" y="589.44" width="23.23" height="1.11" fill="url(#bf)" fill-opacity="0.1"/><rect x="605.56" y="589.44" width="33.03" height="1.06" fill="#3030ff" fill-opacity="0.1"/><rect x="547.1" y="590.4" width="24.94" height="1.11" fill="url(#bf)" fill-opacity="0.11"/><rect x="547.1" y="591.36" width="14.94" height="1.11" fill="url(#bf)" fill-opacity="0.13"/><rect x="551.36" y="591.36" width="54.74" height="1.06" fill="#ff3030" fill-opacity="0.04"/><rect x="547.1" y="592.31" width="20.27" height="1.11" fill="url(#bf)" fill-opacity="0.11"/><rect x="547.1" y="593.27" width="31.48" height="1.11" fill="url(#bf)" fill-opacity="0.13"/><rect x="619.01" y="593.27" width="16.54" height="1.06" fill="#3030ff" fill-opacity="0.12"/><rect x="591.04" y="593.27" width="37.72" height="1.16" fill="url(#bs)" fill-opacity="0.3"/><rect x="547.1" y="594.23" width="16.96" height="1.11" fill="url(#bf)" fill-opacity="0.14"/><rect x="561.53" y="594.23" width="35.59" height="1.06" fill="#3030ff" fill-opacity="0.05"/><rect x="547.1" y="595.18" width="23.83" height="1.11" fill="url(#bf)" fill-opacity="0.18"/><rect x="547.1" y="596.14" width="22.45" height="1.11" fill="url(#bf)" fill-opacity="0.19"/><rect x="547.1" y="597.1" width="21.9" height="1.11" fill="url(#bf)" fill-opacity="0.15"/><rect x="588.21" y="597.1" width="37.38" height="1.06" fill="#3030ff" fill-opacity="0.05"/><rect x="547.1" y="598.05" width="22.89" height="1.11" fill="url(#bf)" fill-opacity="0.21"/><rect x="569.16" y="598.05" width="49.69" height="1.06" fill="#ff3030" fill-opacity="0.06"/><rect x="547.1" y="599.01" width="29.48" height="1.11" fill="url(#bf)" fill-opacity="0.21"/><rect x="560.06" y="599.01" width="36.33" height="1.06" fill="#ff3030" fill-opacity="0.12"/><rect x="547.1" y="599.97" width="20.21" height="1.11" fill="url(#bf)" fill-opacity="0.23"/><rect x="559.64" y="599.97" width="39.03" height="1.06" fill="#3030ff" fill-opacity="0.08"/><rect x="547.1" y="600.92" width="20.94" height="1.11" fill="url(#bf)" fill-opacity="0.16"/><rect x="547.1" y="601.88" width="32.32" height="1.11" fill="url(#bf)" fill-opacity="0.26"/><rect x="547.35" y="601.88" width="81.85" height="1.06" fill="#ff3030" fill-opacity="0.09"/><rect x="547.1" y="602.84" width="27.56" height="1.11" fill="url(#bf)" fill-opacity="0.21"/><rect x="612.66" y="602.84" width="28.36" height="1.06" fill="#ff3030" fill-opacity="0.06"/><rect x="547.1" y="603.79" width="19.03" height="1.11" fill="url(#bf)" fill-opacity="0.19"/><rect x="547.1" y="604.75" width="20.23" height="1.11" fill="url(#bf)" fill-opacity="0.29"/><rect x="548" y="604.75" width="20.23" height="1.06" fill="#ff3030" fill-opacity="0.12"/><rect x="547.1" y="605.71" width="24.61" height="1.11" fill="url(#bf)" fill-opacity="0.19"/><rect x="560.89" y="605.71" width="14.25" height="1.06" fill="#ff3030" fill-opacity="0.06"/><rect x="622.54" y="605.71" width="21.78" height="1.16" fill="url(#rs)" fill-opacity="0.26"/><rect x="547.1" y="606.66" width="33.95" height="1.11" fill="url(#bf)" fill-opacity="0.25"/><rect x="627.52" y="606.66" width="16.67" height="1.06" fill="#ff3030" fill-opacity="0.09"/><rect x="547.1" y="607.62" width="37.59" height="1.11" fill="url(#bf)" fill-opacity="0.22"/><rect x="605.75" y="607.62" width="12.75" height="1.06" fill="#ff3030" fill-opacity="0.09"/><rect x="547.1" y="608.58" width="25.36" height="1.11" fill="url(#bf)" fill-opacity="0.32"/><rect x="615.14" y="608.58" width="16.05" height="1.06" fill="#3030ff" fill-opacity="0.1"/><rect x="547.1" y="609.53" width="24.38" height="1.11" fill="url(#bf)" fill-opacity="0.23"/><rect x="586.17" y="609.53" width="32.84" height="1.06" fill="#3030ff" fill-opacity="0.1"/><rect x="547.1" y="610.49" width="20.01" height="1.11" fill="url(#bf)" fill-opacity="0.23"/><rect x="565.12" y="610.49" width="74.54" height="1.06" fill="#ff3030" fill-opacity="0.08"/><rect x="547.1" y="611.45" width="19.19" height="1.11" fill="url(#bf)" fill-opacity="0.24"/><rect x="608.71" y="611.45" width="19.01" height="1.06" fill="#3030ff" fill-opacity="0.05"/><rect x="547.1" y="612.4" width="24.98" height="1.11" fill="url(#bf)" fill-opacity="0.28"/><rect x="556.13" y="612.4" width="49.62" height="1.06" fill="#3030ff" fill-opacity="0.07"/><rect x="547.1" y="613.36" width="25.84" height="1.11" fill="url(#bf)" fill-opacity="0.3"/><rect x="571.41" y="613.36" width="16" height="1.06" fill="#3030ff" fill-opacity="0.08"/><rect x="547.1" y="614.32" width="18.9" height="1.11" fill="url(#bf)" fill-opacity="0.26"/><rect x="547.1" y="615.28" width="39.12" height="1.11" fill="url(#bf)" fill-opacity="0.43"/><rect x="562.63" y="615.28" width="66.09" height="1.06" fill="#ff3030" fill-opacity="0.08"/><rect x="592.21" y="615.28" width="31.43" height="1.16" fill="url(#rs)" fill-opacity="0.2"/><rect x="547.1" y="616.23" width="40.55" height="1.11" fill="url(#bf)" fill-opacity="0.54"/><rect x="574.84" y="616.23" width="30.24" height="1.06" fill="#ff3030" fill-opacity="0.07"/><rect x="547.1" y="617.19" width="28.4" height="1.11" fill="url(#bf)" fill-opacity="0.36"/><rect x="600.48" y="617.19" width="21.34" height="1.06" fill="#3030ff" fill-opacity="0.07"/><rect x="547.1" y="618.15" width="25.14" height="1.11" fill="url(#bf)" fill-opacity="0.65"/><rect x="547.1" y="619.1" width="39.69" height="1.11" fill="url(#bf)" fill-opacity="0.49"/><rect x="547.1" y="620.06" width="24.45" height="1.11" fill="url(#bf)" fill-opacity="0.78"/><rect x="632.65" y="620.06" width="10.97" height="1.06" fill="#3030ff" fill-opacity="0.07"/><rect x="547.1" y="621.02" width="40.63" height="1.11" fill="url(#bf)" fill-opacity="0.69"/><rect x="547.1" y="621.97" width="28.46" height="1.11" fill="url(#bf)" fill-opacity="0.85"/><rect x="547.1" y="622.93" width="28.61" height="1.11" fill="url(#bf)" fill-opacity="0.91"/><rect x="548.37" y="622.93" width="93.62" height="1.06" fill="#3030ff" fill-opacity="0.06"/><rect x="547.1" y="623.89" width="41.29" height="1.11" fill="url(#bf)" fill-opacity="0.89"/><rect x="547.1" y="624.84" width="46.1" height="1.11" fill="url(#bf)" fill-opacity="1"/><rect x="592.17" y="624.84" width="16.42" height="1.06" fill="#ff3030" fill-opacity="0.11"/><rect x="588" y="570.45" width="14" height="1.1" fill="#ff0000" fill-opacity="0.6"/><rect x="625" y="580.95" width="19" height="1.1" fill="#0000ff" fill-opacity="0.5"/><rect x="620" y="600.95" width="24" height="1.1" fill="#0000ff" fill-opacity="0.6"/></g>
<line x1="113.9" y1="472.6" x2="113.9" y2="246.3" stroke="#8c8c8c" stroke-width="2" stroke-dasharray="5.8 5.8"/>
<line x1="113.9" y1="727.5" x2="113.9" y2="503.5" stroke="#8c8c8c" stroke-width="2" stroke-dasharray="5.8 5.8"/>
<line x1="258.1" y1="472.6" x2="258.1" y2="246.3" stroke="#8c8c8c" stroke-width="2" stroke-dasharray="5.8 5.8"/>
<line x1="258.1" y1="727.5" x2="258.1" y2="503.5" stroke="#8c8c8c" stroke-width="2" stroke-dasharray="5.8 5.8"/>
<line x1="402.4" y1="472.6" x2="402.4" y2="246.3" stroke="#8c8c8c" stroke-width="2" stroke-dasharray="5.8 5.8"/>
<line x1="402.4" y1="727.5" x2="402.4" y2="503.5" stroke="#8c8c8c" stroke-width="2" stroke-dasharray="5.8 5.8"/>
<line x1="547.1" y1="472.6" x2="547.1" y2="246.3" stroke="#8c8c8c" stroke-width="2" stroke-dasharray="5.8 5.8"/>
<line x1="547.1" y1="727.5" x2="547.1" y2="503.5" stroke="#8c8c8c" stroke-width="2" stroke-dasharray="5.8 5.8"/>
<text x="29.8" y="370.6" font-size="24.3" fill="#000" text-anchor="middle" transform="rotate(-90 29.8 370.6)">P15-17</text>
<text x="30.2" y="626.5" font-size="24.3" fill="#000" text-anchor="middle" transform="rotate(-90 30.2 626.5)">P24-26</text>
<text x="49.3" y="312.3" font-size="17" fill="#000" text-anchor="middle" transform="rotate(-90 49.3 312.3)">Cells</text>
<text x="50.5" y="571.1" font-size="17" fill="#000" text-anchor="middle" transform="rotate(-90 50.5 571.1)">Cells</text>
<text x="83.5" y="270.5" font-size="17.2" fill="#000" text-anchor="end">50</text>
<text x="83.5" y="316.5" font-size="17.2" fill="#000" text-anchor="end">100</text>
<text x="83.5" y="364.6" font-size="17.2" fill="#000" text-anchor="end">150</text>
<text x="83.5" y="532.2" font-size="17.2" fill="#000" text-anchor="end">40</text>
<text x="83.5" y="570.7" font-size="17.2" fill="#000" text-anchor="end">80</text>
<text x="83.5" y="610.6" font-size="17.2" fill="#000" text-anchor="end">120</text>
<text x="49.5" y="425.3" font-size="16.8" fill="#000" text-anchor="middle" transform="rotate(-90 49.5 425.3)">ΔF/F<tspan font-size="11" dy="4">0</tspan><tspan dy="-4"> (opto - ctrl)</tspan></text>
<text x="49.5" y="683.4" font-size="16.8" fill="#000" text-anchor="middle" transform="rotate(-90 49.5 683.4)">ΔF/F<tspan font-size="11" dy="4">0</tspan><tspan dy="-4"> (opto - ctrl)</tspan></text>
<line x1="85.5" y1="381" x2="85.5" y2="472.8" stroke="#000" stroke-width="1.6"/>
<line x1="82.5" y1="381" x2="85.5" y2="381" stroke="#000" stroke-width="1.6"/>
<line x1="82.5" y1="472.8" x2="85.5" y2="472.8" stroke="#000" stroke-width="1.6"/>
<text x="81.5" y="389.3" font-size="18" fill="#000" text-anchor="end">5</text>
<text x="81.5" y="432.1" font-size="18" fill="#000" text-anchor="end">0</text>
<text x="81.5" y="477.8" font-size="18" fill="#000" text-anchor="end">-5</text>
<line x1="85.5" y1="638.3" x2="85.5" y2="728.8" stroke="#000" stroke-width="1.6"/>
<line x1="82.5" y1="638.3" x2="85.5" y2="638.3" stroke="#000" stroke-width="1.6"/>
<line x1="82.5" y1="728.8" x2="85.5" y2="728.8" stroke="#000" stroke-width="1.6"/>
<text x="81.5" y="646.6" font-size="18" fill="#000" text-anchor="end">5</text>
<text x="81.5" y="688.9" font-size="18" fill="#000" text-anchor="end">0</text>
<text x="81.5" y="733.8" font-size="18" fill="#000" text-anchor="end">-5</text>
<path d="M117 422.8 C118.33 421.73 119.67 420.48 121 419.6 C122.67 418.49 124.33 417.71 126 416.8 C128 415.71 130 414.63 132 413.6 C134 412.57 136 411.34 138 410.6 C139.1 410.19 140.2 409.6 141.3 409.6 C142.03 409.6 142.77 410.03 143.5 410.5 C144.33 411.04 145.17 413.41 146 414.5 C147 415.81 148 417.01 149 417.8 C150.33 418.85 151.67 419.59 153 420.2 C154.93 421.09 156.87 421.6 158.8 422.3" fill="none" stroke="#fbc8c8" stroke-width="5" stroke-linecap="round" stroke-linejoin="round" stroke-opacity="0.8"/>
<path d="M118 432 C119.8 434.17 121.6 437.91 123.4 438.5 C125.37 439.14 127.33 439.6 129.3 439.6 C131.2 439.6 133.1 439.27 135 439 C137 438.72 139 438.33 141 437.7 C142.67 437.18 144.33 435.92 146 435 C147.67 434.08 149.33 433.13 151 432.2" fill="none" stroke="#c4c4f8" stroke-width="5" stroke-linecap="round" stroke-linejoin="round" stroke-opacity="0.8"/>
<path d="M264.4 420.3 C266.27 418.37 268.13 416.37 270 414.5 C272.07 412.43 274.13 410.16 276.2 408.5 C278.13 406.95 280.07 405.43 282 404.5 C283.7 403.68 285.4 402.6 287.1 402.6 C288.07 402.6 289.03 404.78 290 406 C291.33 407.68 292.67 409.94 294 411.5 C295.97 413.8 297.93 416.07 299.9 417.4 C301.93 418.77 303.97 419.63 306 420.5 C308.57 421.6 311.13 422.37 313.7 423.3" fill="none" stroke="#fbc8c8" stroke-width="5" stroke-linecap="round" stroke-linejoin="round" stroke-opacity="0.8"/>
<path d="M262.4 434.1 C263.6 436.07 264.8 438.56 266 440 C267.43 441.72 268.87 443.21 270.3 444 C272.93 445.45 275.57 446.9 278.2 446.9 C280.83 446.9 283.47 446.57 286.1 446 C287.4 445.72 288.7 444.23 290 443 C291.33 441.74 292.67 439.48 294 438.1 C295.33 436.72 296.67 435.44 298 434.5 C299.93 433.13 301.87 432.3 303.8 431.2" fill="none" stroke="#c4c4f8" stroke-width="5" stroke-linecap="round" stroke-linejoin="round" stroke-opacity="0.8"/>
<path d="M409.4 419.3 C411.27 417.2 413.13 414.86 415 413 C417.07 410.95 419.13 408.84 421.2 407.5 C422.47 406.68 423.73 406 425 405.5 C426.37 404.96 427.73 404.2 429.1 404.2 C430.07 404.2 431.03 405.15 432 406 C433 406.88 434 409.26 435 410.5 C437.63 413.76 440.27 416.73 442.9 418.4 C446.2 420.49 449.5 421.4 452.8 422.9" fill="none" stroke="#fbc8c8" stroke-width="5" stroke-linecap="round" stroke-linejoin="round" stroke-opacity="0.8"/>
<path d="M405 430 C406.47 431.03 407.93 432.53 409.4 433.1 C412.03 434.13 414.67 435.1 417.3 435.1 C421.23 435.1 425.17 434.1 429.1 434.1 C430.43 434.1 431.77 434.5 433.1 434.5 C434.4 434.5 435.7 433.2 437 432.5 C438.33 431.78 439.67 430.97 441 430.2" fill="none" stroke="#c4c4f8" stroke-width="5" stroke-linecap="round" stroke-linejoin="round" stroke-opacity="0.8"/>
<path d="M548.5 422.7 C551.47 422.57 554.43 422.47 557.4 422.3 C560 422.15 562.6 421.93 565.2 421.7 C567.83 421.47 570.47 420.9 573.1 420.9 C574.07 420.9 575.03 421.63 576 422" fill="none" stroke="#fbc8c8" stroke-width="5" stroke-linecap="round" stroke-linejoin="round" stroke-opacity="0.8"/>
<path d="M575.1 430.8 C576.4 430.53 577.7 430.27 579 430" fill="none" stroke="#c4c4f8" stroke-width="5" stroke-linecap="round" stroke-linejoin="round" stroke-opacity="0.8"/>
<path d="M111.5 678 C112.17 675.8 112.83 673.38 113.5 671.4 C114.17 669.42 114.83 667.3 115.5 666 C116.13 664.77 116.77 663.37 117.4 663.1 C118.6 662.6 119.8 662.3 121 662.3 C122.43 662.3 123.87 662.38 125.3 662.5 C127.27 662.66 129.23 664.32 131.2 665.1 C132.47 665.61 133.73 666.5 135 666.5 C136.37 666.5 137.73 666.5 139.1 666.5 C140.07 666.5 141.03 668.05 142 669 C143 669.98 144 671.47 145 672.4 C147.63 674.85 150.27 677.07 152.9 678.3 C156.2 679.84 159.5 681.06 162.8 681.6 C168.03 682.45 173.27 683.09 178.5 683.2 C184 683.32 189.5 683.32 195 683.4 C198.5 683.45 202 683.42 205.5 683.6 C205.83 683.62 206.17 685.97 206.5 687 C206.73 687.72 206.97 688.33 207.2 689" fill="none" stroke="#fbc8c8" stroke-width="5" stroke-linecap="round" stroke-linejoin="round" stroke-opacity="0.8"/>
<path d="M113.5 690 C114.17 693 114.83 696.68 115.5 699 C116.33 701.9 117.17 704.04 118 706 C119.13 708.67 120.27 711.26 121.4 712.8 C122.6 714.43 123.8 715.58 125 716.5 C126.43 717.6 127.87 719.1 129.3 719.1 C130.53 719.1 131.77 719 133 719 C134.4 719 135.8 719.7 137.2 719.7 C138.5 719.7 139.8 718.17 141.1 716.7 C142.07 715.61 143.03 712.93 144 711 C145 709 146 706.66 147 704.9 C148.17 702.85 149.33 700.95 150.5 699.5 C151.97 697.68 153.43 696.39 154.9 695 C156.6 693.39 158.3 691.76 160 690.5 C161.57 689.34 163.13 688.5 164.7 687.5" fill="none" stroke="#c4c4f8" stroke-width="5" stroke-linecap="round" stroke-linejoin="round" stroke-opacity="0.8"/>
<path d="M255.5 676.5 C256.17 674.13 256.83 671.97 257.5 669.4 C258.17 666.83 258.83 663.6 259.5 661 C260.17 658.4 260.83 654.99 261.5 653.7 C262.33 652.09 263.17 650.94 264 650.5 C264.8 650.08 265.6 649.7 266.4 649.7 C267.27 649.7 268.13 649.87 269 650 C270.1 650.16 271.2 650.38 272.3 650.7 C274.27 651.27 276.23 653.07 278.2 653.7 C279.13 654 280.07 654.27 281 654.4 C281.7 654.49 282.4 654.48 283.1 654.6 C283.9 654.74 284.7 656.65 285.5 658 C286.37 659.47 287.23 662.09 288.1 663.5 C289.4 665.61 290.7 667.06 292 668.5 C293.33 669.98 294.67 671.32 296 672.4 C297.5 673.62 299 674.6 300.5 675.5 C302.27 676.56 304.03 677.47 305.8 678.3 C307.53 679.11 309.27 679.94 311 680.5 C313.2 681.21 315.4 681.91 317.6 682.2 C321.73 682.74 325.87 683.07 330 683.2 C336.33 683.4 342.67 683.25 349 683.6 C349.27 683.61 349.53 685.06 349.8 686 C350 686.7 350.2 687.67 350.4 688.5" fill="none" stroke="#fbc8c8" stroke-width="5" stroke-linecap="round" stroke-linejoin="round" stroke-opacity="0.8"/>
<path d="M257.5 688.5 C258.17 690.03 258.83 692.25 259.5 693.1 C260.67 694.58 261.83 695.39 263 696 C264.8 696.95 266.6 697.56 268.4 698 C271 698.64 273.6 698.8 276.2 699.4 C278.2 699.86 280.2 701.3 282.2 701.3 C283.5 701.3 284.8 700.31 286.1 699.4 C287.4 698.49 288.7 695.82 290 694.5 C291.33 693.15 292.67 691.97 294 691.1 C295.33 690.23 296.67 689.53 298 689 C299.93 688.23 301.87 687.8 303.8 687.2" fill="none" stroke="#c4c4f8" stroke-width="5" stroke-linecap="round" stroke-linejoin="round" stroke-opacity="0.8"/>
<path d="M401 676 C401.67 674 402.33 671.29 403 670 C403.83 668.39 404.67 667.48 405.5 666.5 C406.67 665.13 407.83 663.6 409 663 C410.47 662.24 411.93 661.5 413.4 661.5 C414.6 661.5 415.8 662.27 417 662.5 C418.4 662.77 419.8 662.91 421.2 663.1 C423.2 663.38 425.2 663.34 427.2 663.9 C427.8 664.07 428.4 665.2 429 666 C429.83 667.12 430.67 668.83 431.5 670 C432.67 671.63 433.83 673.24 435 674.3 C436.67 675.81 438.33 676.82 440 677.8 C441.63 678.76 443.27 679.75 444.9 680.3 C446.93 680.98 448.97 681.5 451 681.8 C453.57 682.18 456.13 682.44 458.7 682.6 C464.13 682.95 469.57 683.18 475 683.3 C481.17 683.44 487.33 683.33 493.5 683.6 C493.77 683.61 494.03 684.91 494.3 686 C494.47 686.68 494.63 688 494.8 689" fill="none" stroke="#fbc8c8" stroke-width="5" stroke-linecap="round" stroke-linejoin="round" stroke-opacity="0.8"/>
<path d="M404 687.5 C405.13 687.9 406.27 688.48 407.4 688.7 C409.6 689.12 411.8 689.4 414 689.5 C416.4 689.61 418.8 689.7 421.2 689.7 C423.83 689.7 426.47 689.41 429.1 689.1 C430.73 688.91 432.37 688.37 434 688" fill="none" stroke="#c4c4f8" stroke-width="5" stroke-linecap="round" stroke-linejoin="round" stroke-opacity="0.8"/>
<path d="M544 678 C544.5 676.77 545 675.1 545.5 674.3 C546.17 673.24 546.83 672.46 547.5 672 C548.17 671.54 548.83 671 549.5 671 C550.67 671 551.83 671.19 553 671.3 C554.47 671.44 555.93 671.61 557.4 671.8 C560 672.14 562.6 672.78 565.2 673 C567.5 673.19 569.8 673.12 572.1 673.4 C573.07 673.52 574.03 674.81 575 675.5 C576.33 676.45 577.67 677.42 579 678.3 C580.17 679.07 581.33 679.94 582.5 680.5 C583.97 681.21 585.43 681.91 586.9 682.2 C589.6 682.73 592.3 683.15 595 683.2 C609.17 683.45 623.33 683.29 637.5 683.6 C637.9 683.61 638.3 684.95 638.7 686 C638.9 686.52 639.1 687.4 639.3 688.1" fill="none" stroke="#fbc8c8" stroke-width="5" stroke-linecap="round" stroke-linejoin="round" stroke-opacity="0.8"/>
<path d="M85.5 426.8 C94.83 426.8 104.17 426.8 113.5 426.8 C114.67 426.8 115.83 423.9 117 422.8 C118.33 421.54 119.67 420.48 121 419.6 C122.67 418.49 124.33 417.71 126 416.8 C128 415.71 130 414.63 132 413.6 C134 412.57 136 411.34 138 410.6 C139.1 410.19 140.2 409.6 141.3 409.6 C142.03 409.6 142.77 410.03 143.5 410.5 C144.33 411.04 145.17 413.41 146 414.5 C147 415.81 148 417.01 149 417.8 C150.33 418.85 151.67 419.59 153 420.2 C154.93 421.09 156.87 421.82 158.8 422.3 C161.87 423.07 164.93 423.54 168 424 C171.5 424.52 175 425.01 178.5 425.3 C184 425.76 189.5 426.18 195 426.3 C199.67 426.4 204.33 426.33 209 426.5 C209.67 426.52 210.33 427.5 211 428" fill="none" stroke="#ff0000" stroke-width="2" stroke-linecap="round" stroke-linejoin="round"/>
<path d="M85.5 426.8 C94.97 426.8 104.43 426.8 113.9 426.8 C115.27 426.8 116.63 430.31 118 432 C119.8 434.23 121.6 437.91 123.4 438.5 C125.37 439.14 127.33 439.6 129.3 439.6 C131.2 439.6 133.1 439.27 135 439 C137 438.72 139 438.33 141 437.7 C142.67 437.18 144.33 435.92 146 435 C147.67 434.08 149.33 432.81 151 432.2 C154.93 430.75 158.87 429.78 162.8 429.2 C168.03 428.42 173.27 427.88 178.5 427.6 C184 427.3 189.5 427.1 195 427 C200.33 426.9 205.67 426.87 211 426.8" fill="none" stroke="#0000ff" stroke-width="2" stroke-linecap="round" stroke-linejoin="round"/>
<path d="M230.5 426.8 C239.7 426.8 248.9 426.8 258.1 426.8 C260.2 426.8 262.3 422.47 264.4 420.3 C266.27 418.37 268.13 416.37 270 414.5 C272.07 412.43 274.13 410.16 276.2 408.5 C278.13 406.95 280.07 405.43 282 404.5 C283.7 403.68 285.4 402.6 287.1 402.6 C288.07 402.6 289.03 404.78 290 406 C291.33 407.68 292.67 409.94 294 411.5 C295.97 413.8 297.93 416.07 299.9 417.4 C301.93 418.77 303.97 419.63 306 420.5 C308.57 421.6 311.13 422.63 313.7 423.3 C316.47 424.03 319.23 424.7 322 425 C325.8 425.41 329.6 425.64 333.4 425.8 C338.93 426.04 344.47 426.12 350 426.3 C351.9 426.36 353.8 426.33 355.7 426.5 C355.97 426.52 356.23 427.5 356.5 428" fill="none" stroke="#ff0000" stroke-width="2" stroke-linecap="round" stroke-linejoin="round"/>
<path d="M230.5 426.8 C239.7 426.8 248.9 426.8 258.1 426.8 C259.53 426.8 260.97 431.71 262.4 434.1 C263.6 436.1 264.8 438.56 266 440 C267.43 441.72 268.87 443.21 270.3 444 C272.93 445.45 275.57 446.9 278.2 446.9 C280.83 446.9 283.47 446.57 286.1 446 C287.4 445.72 288.7 444.23 290 443 C291.33 441.74 292.67 439.48 294 438.1 C295.33 436.72 296.67 435.44 298 434.5 C299.93 433.13 301.87 431.92 303.8 431.2 C306.53 430.18 309.27 429.54 312 429 C314.53 428.5 317.07 427.97 319.6 427.8 C324.73 427.46 329.87 427.33 335 427.2 C342.23 427.02 349.47 426.93 356.7 426.8" fill="none" stroke="#0000ff" stroke-width="2" stroke-linecap="round" stroke-linejoin="round"/>
<path d="M375.5 426.8 C384.5 426.8 393.5 426.8 402.5 426.8 C404.8 426.8 407.1 421.84 409.4 419.3 C411.27 417.23 413.13 414.86 415 413 C417.07 410.95 419.13 408.84 421.2 407.5 C422.47 406.68 423.73 406 425 405.5 C426.37 404.96 427.73 404.2 429.1 404.2 C430.07 404.2 431.03 405.15 432 406 C433 406.88 434 409.26 435 410.5 C437.63 413.76 440.27 416.73 442.9 418.4 C446.2 420.49 449.5 422 452.8 422.9 C458.03 424.32 463.27 425.53 468.5 425.8 C474 426.09 479.5 426.2 485 426.3 C490.33 426.39 495.67 426.43 501 426.5" fill="none" stroke="#ff0000" stroke-width="2" stroke-linecap="round" stroke-linejoin="round"/>
<path d="M375.5 426.8 C384.5 426.8 393.5 426.8 402.5 426.8 C403.33 426.8 404.17 429.22 405 430 C406.47 431.37 407.93 432.53 409.4 433.1 C412.03 434.13 414.67 435.1 417.3 435.1 C421.23 435.1 425.17 434.1 429.1 434.1 C430.43 434.1 431.77 434.5 433.1 434.5 C434.4 434.5 435.7 433.2 437 432.5 C438.33 431.78 439.67 430.63 441 430.2 C444.93 428.92 448.87 428.04 452.8 427.8 C458.53 427.44 464.27 427.31 470 427.2 C480.33 427 490.67 426.93 501 426.8" fill="none" stroke="#0000ff" stroke-width="2" stroke-linecap="round" stroke-linejoin="round"/>
<path d="M518.3 426.8 C526.73 426.73 535.17 426.78 543.6 426.6 C544.4 426.58 545.2 424.56 546 424 C546.83 423.41 547.67 422.78 548.5 422.7 C551.47 422.41 554.43 422.47 557.4 422.3 C560 422.15 562.6 421.93 565.2 421.7 C567.83 421.47 570.47 420.9 573.1 420.9 C574.07 420.9 575.03 421.54 576 422 C577 422.47 578 423.54 579 423.9 C581 424.62 583 424.99 585 425.3 C587.6 425.71 590.2 426.11 592.8 426.2 C598.53 426.39 604.27 426.5 610 426.5 C621.33 426.5 632.67 426.5 644 426.5" fill="none" stroke="#ff0000" stroke-width="2" stroke-linecap="round" stroke-linejoin="round"/>
<path d="M518.3 426.8 C527.2 426.8 536.1 426.8 545 426.8 C546.5 426.8 548 427.39 549.5 427.8 C550.8 428.16 552.1 429.07 553.4 429.2 C557.33 429.6 561.27 429.53 565.2 429.8 C568.5 430.03 571.8 430.8 575.1 430.8 C576.4 430.8 577.7 430.34 579 430 C580.33 429.66 581.67 428.86 583 428.6 C586.27 427.96 589.53 427.54 592.8 427.4 C598.53 427.16 604.27 427.06 610 427 C621.33 426.89 632.67 426.87 644 426.8" fill="none" stroke="#0000ff" stroke-width="2" stroke-linecap="round" stroke-linejoin="round"/>
<path d="M85.5 683.6 C93.53 683.47 101.57 683.57 109.6 683.2 C110.23 683.17 110.87 679.89 111.5 678 C112.17 676.01 112.83 673.38 113.5 671.4 C114.17 669.42 114.83 667.3 115.5 666 C116.13 664.77 116.77 663.37 117.4 663.1 C118.6 662.6 119.8 662.3 121 662.3 C122.43 662.3 123.87 662.38 125.3 662.5 C127.27 662.66 129.23 664.32 131.2 665.1 C132.47 665.61 133.73 666.5 135 666.5 C136.37 666.5 137.73 666.5 139.1 666.5 C140.07 666.5 141.03 668.05 142 669 C143 669.98 144 671.47 145 672.4 C147.63 674.85 150.27 677.07 152.9 678.3 C156.2 679.84 159.5 681.06 162.8 681.6 C168.03 682.45 173.27 683.09 178.5 683.2 C184 683.32 189.5 683.32 195 683.4 C198.5 683.45 202 683.42 205.5 683.6 C205.83 683.62 206.17 685.97 206.5 687 C206.73 687.72 206.97 688.33 207.2 689" fill="none" stroke="#ff0000" stroke-width="2" stroke-linecap="round" stroke-linejoin="round"/>
<path d="M85.5 683.6 C94.17 683.8 102.83 683.65 111.5 684.2 C112.17 684.24 112.83 687.65 113.5 690 C114.17 692.35 114.83 696.68 115.5 699 C116.33 701.9 117.17 704.04 118 706 C119.13 708.67 120.27 711.26 121.4 712.8 C122.6 714.43 123.8 715.58 125 716.5 C126.43 717.6 127.87 719.1 129.3 719.1 C130.53 719.1 131.77 719 133 719 C134.4 719 135.8 719.7 137.2 719.7 C138.5 719.7 139.8 718.17 141.1 716.7 C142.07 715.61 143.03 712.93 144 711 C145 709 146 706.66 147 704.9 C148.17 702.85 149.33 700.95 150.5 699.5 C151.97 697.68 153.43 696.39 154.9 695 C156.6 693.39 158.3 691.76 160 690.5 C161.57 689.34 163.13 688.01 164.7 687.5 C169.3 685.99 173.9 685.27 178.5 684.8 C182.33 684.41 186.17 684.14 190 684 C195.67 683.79 201.33 683.73 207 683.6" fill="none" stroke="#0000ff" stroke-width="2" stroke-linecap="round" stroke-linejoin="round"/>
<path d="M228.9 683.6 C237.13 683.47 245.37 683.57 253.6 683.2 C254.23 683.17 254.87 678.74 255.5 676.5 C256.17 674.14 256.83 671.97 257.5 669.4 C258.17 666.83 258.83 663.6 259.5 661 C260.17 658.4 260.83 654.99 261.5 653.7 C262.33 652.09 263.17 650.94 264 650.5 C264.8 650.08 265.6 649.7 266.4 649.7 C267.27 649.7 268.13 649.87 269 650 C270.1 650.16 271.2 650.38 272.3 650.7 C274.27 651.27 276.23 653.07 278.2 653.7 C279.13 654 280.07 654.27 281 654.4 C281.7 654.49 282.4 654.48 283.1 654.6 C283.9 654.74 284.7 656.65 285.5 658 C286.37 659.47 287.23 662.09 288.1 663.5 C289.4 665.61 290.7 667.06 292 668.5 C293.33 669.98 294.67 671.32 296 672.4 C297.5 673.62 299 674.6 300.5 675.5 C302.27 676.56 304.03 677.47 305.8 678.3 C307.53 679.11 309.27 679.94 311 680.5 C313.2 681.21 315.4 681.91 317.6 682.2 C321.73 682.74 325.87 683.07 330 683.2 C336.33 683.4 342.67 683.25 349 683.6 C349.27 683.61 349.53 685.06 349.8 686 C350 686.7 350.2 687.67 350.4 688.5" fill="none" stroke="#ff0000" stroke-width="2" stroke-linecap="round" stroke-linejoin="round"/>
<path d="M228.9 683.6 C237.77 683.8 246.63 683.65 255.5 684.2 C256.17 684.24 256.83 687.02 257.5 688.5 C258.17 689.98 258.83 692.25 259.5 693.1 C260.67 694.58 261.83 695.39 263 696 C264.8 696.95 266.6 697.56 268.4 698 C271 698.64 273.6 698.8 276.2 699.4 C278.2 699.86 280.2 701.3 282.2 701.3 C283.5 701.3 284.8 700.31 286.1 699.4 C287.4 698.49 288.7 695.82 290 694.5 C291.33 693.15 292.67 691.97 294 691.1 C295.33 690.23 296.67 689.53 298 689 C299.93 688.23 301.87 687.71 303.8 687.2 C305.87 686.66 307.93 686.15 310 685.8 C312.53 685.37 315.07 684.98 317.6 684.8 C323.4 684.38 329.2 684.19 335 684 C340.23 683.83 345.47 683.73 350.7 683.6" fill="none" stroke="#0000ff" stroke-width="2" stroke-linecap="round" stroke-linejoin="round"/>
<path d="M373.9 683.6 C382.13 683.47 390.37 683.56 398.6 683.2 C399.4 683.16 400.2 678.4 401 676 C401.67 674 402.33 671.29 403 670 C403.83 668.39 404.67 667.48 405.5 666.5 C406.67 665.13 407.83 663.6 409 663 C410.47 662.24 411.93 661.5 413.4 661.5 C414.6 661.5 415.8 662.27 417 662.5 C418.4 662.77 419.8 662.91 421.2 663.1 C423.2 663.38 425.2 663.34 427.2 663.9 C427.8 664.07 428.4 665.2 429 666 C429.83 667.12 430.67 668.83 431.5 670 C432.67 671.63 433.83 673.24 435 674.3 C436.67 675.81 438.33 676.82 440 677.8 C441.63 678.76 443.27 679.75 444.9 680.3 C446.93 680.98 448.97 681.5 451 681.8 C453.57 682.18 456.13 682.44 458.7 682.6 C464.13 682.95 469.57 683.18 475 683.3 C481.17 683.44 487.33 683.33 493.5 683.6 C493.77 683.61 494.03 684.91 494.3 686 C494.47 686.68 494.63 688 494.8 689" fill="none" stroke="#ff0000" stroke-width="2" stroke-linecap="round" stroke-linejoin="round"/>
<path d="M373.9 683.6 C383.1 684.13 392.3 683.87 401.5 685.2 C402.33 685.32 403.17 687.07 404 687.5 C405.13 688.09 406.27 688.48 407.4 688.7 C409.6 689.12 411.8 689.4 414 689.5 C416.4 689.61 418.8 689.7 421.2 689.7 C423.83 689.7 426.47 689.41 429.1 689.1 C430.73 688.91 432.37 688.43 434 688 C436.3 687.4 438.6 686.28 440.9 685.8 C442.6 685.45 444.3 685.19 446 685 C448.27 684.74 450.53 684.49 452.8 684.4 C458.53 684.17 464.27 684.11 470 684 C478.43 683.84 486.87 683.73 495.3 683.6" fill="none" stroke="#0000ff" stroke-width="2" stroke-linecap="round" stroke-linejoin="round"/>
<path d="M517.9 683.6 C526.13 683.47 534.37 683.58 542.6 683.2 C543.07 683.18 543.53 679.39 544 678 C544.5 676.51 545 675.1 545.5 674.3 C546.17 673.24 546.83 672.46 547.5 672 C548.17 671.54 548.83 671 549.5 671 C550.67 671 551.83 671.19 553 671.3 C554.47 671.44 555.93 671.61 557.4 671.8 C560 672.14 562.6 672.78 565.2 673 C567.5 673.19 569.8 673.12 572.1 673.4 C573.07 673.52 574.03 674.81 575 675.5 C576.33 676.45 577.67 677.42 579 678.3 C580.17 679.07 581.33 679.94 582.5 680.5 C583.97 681.21 585.43 681.91 586.9 682.2 C589.6 682.73 592.3 683.15 595 683.2 C609.17 683.45 623.33 683.29 637.5 683.6 C637.9 683.61 638.3 684.95 638.7 686 C638.9 686.52 639.1 687.4 639.3 688.1" fill="none" stroke="#ff0000" stroke-width="2" stroke-linecap="round" stroke-linejoin="round"/>
<path d="M517.9 683.6 C526.93 683.67 535.97 683.63 545 683.8 C546.5 683.83 548 685.8 549.5 685.8 C550.33 685.8 551.17 685.28 552 685.2 C554.67 684.95 557.33 684.9 560 684.8 C563.33 684.67 566.67 684.6 570 684.5 C575 684.34 580 684.1 585 684 C590 683.9 595 683.84 600 683.8 C613.23 683.7 626.47 683.67 639.7 683.6" fill="none" stroke="#0000ff" stroke-width="2" stroke-linecap="round" stroke-linejoin="round"/>
<defs><linearGradient id="cbar" x1="0" x2="0" y1="0" y2="1"><stop offset="0" stop-color="#ff0000"/><stop offset="0.47" stop-color="#ffffff"/><stop offset="0.53" stop-color="#ffffff"/><stop offset="1" stop-color="#0000ff"/></linearGradient></defs>
<rect x="651" y="295.3" width="12.4" height="71.2" fill="url(#cbar)"/>
<text x="657" y="289.8" font-size="17" fill="#000" text-anchor="middle">2</text>
<text x="657" y="381.9" font-size="17" fill="#000" text-anchor="middle">-2</text>
<text x="671.9" y="267.6" font-size="17.4" fill="#000" text-anchor="start" transform="rotate(90 671.9 267.6)">ΔF/F<tspan font-size="11.5" dy="5.5">0</tspan><tspan dy="-5.5"> (opto - ctrl)</tspan></text>
<line x1="610.6" y1="726.2" x2="640.5" y2="726.2" stroke="#000" stroke-width="1.8"/>
<text x="628" y="741.6" font-size="17" fill="#000" text-anchor="middle">2s</text>
<text x="-0.9" y="778.3" font-size="35.5" fill="#000" text-anchor="start">d</text>
<text x="119.5" y="786.3" font-size="20.6" fill="#000" text-anchor="start">P15-17</text>
<text x="288.8" y="786.3" font-size="20.6" fill="#000" text-anchor="start">P24-26</text>
<text x="0" y="0" font-size="17.4" fill="#ff0000" text-anchor="start" transform="translate(93.6 808.1) scale(1 1.06)">Opto Enhanced</text>
<text x="0" y="0" font-size="17.4" fill="#0000ff" text-anchor="start" transform="translate(93.7 979.9) scale(1 1.06)">Opto Reduced</text>
<text x="33.8" y="850.3" font-size="20.5" fill="#000" text-anchor="middle" transform="rotate(-90 33.8 850.3)">Activated</text>
<text x="33.5" y="1030.6" font-size="20.5" fill="#000" text-anchor="middle" transform="rotate(-90 33.5 1030.6)">Suppressed</text>
<text x="55.7" y="935.5" font-size="17" fill="#000" text-anchor="middle" transform="rotate(-90 55.7 935.5)">Z-scored F</text>
<line x1="87.4" y1="797.7" x2="87.4" y2="909.4" stroke="#000" stroke-width="1.3"/>
<line x1="84.4" y1="797.7" x2="87.4" y2="797.7" stroke="#000" stroke-width="1.3"/>
<line x1="84.4" y1="820.5" x2="87.4" y2="820.5" stroke="#000" stroke-width="1.3"/>
<line x1="84.4" y1="843.4" x2="87.4" y2="843.4" stroke="#000" stroke-width="1.3"/>
<line x1="84.4" y1="866.2" x2="87.4" y2="866.2" stroke="#000" stroke-width="1.3"/>
<line x1="84.4" y1="889.1" x2="87.4" y2="889.1" stroke="#000" stroke-width="1.3"/>
<line x1="84.4" y1="909.4" x2="87.4" y2="909.4" stroke="#000" stroke-width="1.3"/>
<text x="0" y="0" font-size="17.2" fill="#000" text-anchor="end" transform="translate(81.4 807.1) scale(1 1.07)">10</text>
<text x="0" y="0" font-size="17.2" fill="#000" text-anchor="end" transform="translate(81.4 828.4) scale(1 1.07)">8</text>
<text x="0" y="0" font-size="17.2" fill="#000" text-anchor="end" transform="translate(81.4 850.6) scale(1 1.07)">6</text>
<text x="0" y="0" font-size="17.2" fill="#000" text-anchor="end" transform="translate(81.4 872.2) scale(1 1.07)">4</text>
<text x="0" y="0" font-size="17.2" fill="#000" text-anchor="end" transform="translate(81.4 892.8) scale(1 1.07)">2</text>
<text x="0" y="0" font-size="17.2" fill="#000" text-anchor="end" transform="translate(81.4 915.5) scale(1 1.07)">0</text>
<line x1="100.7" y1="917.3" x2="243.7" y2="917.3" stroke="#000" stroke-width="1.3"/>
<line x1="100.7" y1="917.3" x2="100.7" y2="920.3" stroke="#000" stroke-width="1.3"/>
<line x1="136.1" y1="917.3" x2="136.1" y2="920.3" stroke="#000" stroke-width="1.3"/>
<line x1="171.5" y1="917.3" x2="171.5" y2="920.3" stroke="#000" stroke-width="1.3"/>
<line x1="242.3" y1="917.3" x2="242.3" y2="920.3" stroke="#000" stroke-width="1.3"/>
<text x="0" y="0" font-size="17.2" fill="#000" text-anchor="middle" transform="translate(98.5 936) scale(1 1.07)">0</text>
<text x="0" y="0" font-size="17.2" fill="#000" text-anchor="middle" transform="translate(132.4 936) scale(1 1.07)">20</text>
<text x="0" y="0" font-size="17.2" fill="#000" text-anchor="middle" transform="translate(167.6 936) scale(1 1.07)">40</text>
<text x="0" y="0" font-size="17.2" fill="#000" text-anchor="middle" transform="translate(241 936) scale(1 1.07)">80</text>
<path d="M100.7 889.7 C102.08 887.08 106.05 879 109 874 C111.95 869 115.3 863.87 118.4 859.7 C121.5 855.53 124.65 851.73 127.6 849 C130.55 846.27 133.57 844.42 136.1 843.3 C138.63 842.18 139.78 842.15 142.8 842.3 C145.82 842.45 151 843.33 154.2 844.2 C157.4 845.07 159.1 846.13 162 847.5 C164.9 848.87 165.95 848.98 171.6 852.4 C177.25 855.82 188.05 863.35 195.9 868 C203.75 872.65 210.95 876.42 218.7 880.3 C226.45 884.18 238.45 889.47 242.4 891.3" fill="none" stroke="#ff0000" stroke-width="2" stroke-linecap="round" stroke-linejoin="round"/>
<path d="M100.7 909 C102.08 907 106.05 900.78 109 897 C111.95 893.22 115.3 889.05 118.4 886.3 C121.5 883.55 124.65 881.4 127.6 880.5 C130.55 879.6 132.37 880.4 136.1 880.9 C139.83 881.4 144.08 882.4 150 883.5 C155.92 884.6 162.37 885.35 171.6 887.5 C180.83 889.65 193.6 893.75 205.4 896.4 C217.2 899.05 236.23 902.23 242.4 903.4" fill="none" stroke="#000" stroke-width="2" stroke-linecap="round" stroke-linejoin="round"/>
<line x1="100.7" y1="884" x2="100.7" y2="896" stroke="#ff0000" stroke-width="1.8"/>
<line x1="118.4" y1="849" x2="118.4" y2="870" stroke="#ff0000" stroke-width="1.8"/>
<line x1="136.4" y1="833" x2="136.4" y2="854" stroke="#ff0000" stroke-width="1.8"/>
<line x1="171.6" y1="842.5" x2="171.6" y2="862.5" stroke="#ff0000" stroke-width="1.8"/>
<line x1="242.4" y1="886" x2="242.4" y2="897" stroke="#ff0000" stroke-width="1.8"/>
<line x1="118.4" y1="880" x2="118.4" y2="893" stroke="#000" stroke-width="1.8"/>
<line x1="136.1" y1="874" x2="136.1" y2="888" stroke="#000" stroke-width="1.8"/>
<circle cx="100.7" cy="909" r="3" fill="#000"/>
<circle cx="118.4" cy="886.3" r="3" fill="#000"/>
<circle cx="136.1" cy="880.9" r="3" fill="#000"/>
<circle cx="171.6" cy="887.5" r="3" fill="#000"/>
<circle cx="242.4" cy="903.4" r="3" fill="#000"/>
<circle cx="100.7" cy="889.7" r="3" fill="#ff0000"/>
<circle cx="118.4" cy="859.7" r="3" fill="#ff0000"/>
<circle cx="136.4" cy="843.2" r="3" fill="#ff0000"/>
<circle cx="171.6" cy="852.4" r="3" fill="#ff0000"/>
<circle cx="242.4" cy="891.3" r="3" fill="#ff0000"/>
<line x1="271.1" y1="917.3" x2="412.6" y2="917.3" stroke="#000" stroke-width="1.3"/>
<line x1="271.1" y1="917.3" x2="271.1" y2="920.3" stroke="#000" stroke-width="1.3"/>
<line x1="305.3" y1="917.3" x2="305.3" y2="920.3" stroke="#000" stroke-width="1.3"/>
<line x1="340.7" y1="917.3" x2="340.7" y2="920.3" stroke="#000" stroke-width="1.3"/>
<line x1="411.5" y1="917.3" x2="411.5" y2="920.3" stroke="#000" stroke-width="1.3"/>
<text x="0" y="0" font-size="17.2" fill="#000" text-anchor="middle" transform="translate(269.6 936) scale(1 1.07)">0</text>
<text x="0" y="0" font-size="17.2" fill="#000" text-anchor="middle" transform="translate(303.4 936) scale(1 1.07)">20</text>
<text x="0" y="0" font-size="17.2" fill="#000" text-anchor="middle" transform="translate(338.7 936) scale(1 1.07)">40</text>
<text x="0" y="0" font-size="17.2" fill="#000" text-anchor="middle" transform="translate(411.3 936) scale(1 1.07)">80</text>
<path d="M269.9 890.4 C271.13 886.07 274.42 872.87 277.3 864.4 C280.18 855.93 283.88 847.05 287.2 839.6 C290.52 832.15 294.22 824.33 297.2 819.7 C300.18 815.07 302.22 812.42 305.1 811.8 C307.98 811.18 310.87 813.03 314.5 816 C318.13 818.97 322.52 824.02 326.9 829.6 C331.28 835.18 336.25 844.53 340.8 849.5 C345.35 854.47 348.65 856.58 354.2 859.4 C359.75 862.22 364.53 864.82 374.1 866.4 C383.67 867.98 405.35 868.48 411.6 868.9" fill="none" stroke="#ff0000" stroke-width="2" stroke-linecap="round" stroke-linejoin="round"/>
<path d="M269.9 909 C271.13 906.12 274.42 897.27 277.3 891.7 C280.18 886.13 283.88 879.53 287.2 875.6 C290.52 871.67 294.22 869.43 297.2 868.1 C300.18 866.77 301.38 866.15 305.1 867.6 C308.82 869.05 313.55 873.28 319.5 876.8 C325.45 880.32 333.77 885.6 340.8 888.7 C347.83 891.8 354.08 893.53 361.7 895.4 C369.32 897.27 378.18 898.87 386.5 899.9 C394.82 900.93 407.42 901.32 411.6 901.6" fill="none" stroke="#000" stroke-width="2" stroke-linecap="round" stroke-linejoin="round"/>
<line x1="287.2" y1="830" x2="287.2" y2="849" stroke="#ff0000" stroke-width="1.8"/>
<line x1="305.1" y1="799.4" x2="305.1" y2="824.7" stroke="#ff0000" stroke-width="1.8"/>
<line x1="340.8" y1="838.5" x2="340.8" y2="860.5" stroke="#ff0000" stroke-width="1.8"/>
<line x1="411.6" y1="865" x2="411.6" y2="881" stroke="#ff0000" stroke-width="1.8"/>
<line x1="287.2" y1="869" x2="287.2" y2="883" stroke="#000" stroke-width="1.8"/>
<line x1="305.1" y1="860" x2="305.1" y2="876" stroke="#000" stroke-width="1.8"/>
<line x1="340.8" y1="883" x2="340.8" y2="894" stroke="#000" stroke-width="1.8"/>
<circle cx="269.9" cy="909" r="3" fill="#000"/>
<circle cx="287.2" cy="875.6" r="3" fill="#000"/>
<circle cx="305.1" cy="867.6" r="3" fill="#000"/>
<circle cx="340.8" cy="888.7" r="3" fill="#000"/>
<circle cx="411.6" cy="901.6" r="3" fill="#000"/>
<circle cx="269.9" cy="890.4" r="3" fill="#ff0000"/>
<circle cx="287.2" cy="839.6" r="3" fill="#ff0000"/>
<circle cx="305.1" cy="811.8" r="3" fill="#ff0000"/>
<circle cx="340.8" cy="849.5" r="3" fill="#ff0000"/>
<circle cx="411.6" cy="873" r="3" fill="#ff0000"/>
<line x1="87.4" y1="969.2" x2="87.4" y2="1081.2" stroke="#000" stroke-width="1.3"/>
<line x1="84.4" y1="969.2" x2="87.4" y2="969.2" stroke="#000" stroke-width="1.3"/>
<line x1="84.4" y1="992.2" x2="87.4" y2="992.2" stroke="#000" stroke-width="1.3"/>
<line x1="84.4" y1="1015.2" x2="87.4" y2="1015.2" stroke="#000" stroke-width="1.3"/>
<line x1="84.4" y1="1038" x2="87.4" y2="1038" stroke="#000" stroke-width="1.3"/>
<line x1="84.4" y1="1061.1" x2="87.4" y2="1061.1" stroke="#000" stroke-width="1.3"/>
<line x1="84.4" y1="1081.2" x2="87.4" y2="1081.2" stroke="#000" stroke-width="1.3"/>
<text x="0" y="0" font-size="17.2" fill="#000" text-anchor="end" transform="translate(81.4 978.9) scale(1 1.07)">10</text>
<text x="0" y="0" font-size="17.2" fill="#000" text-anchor="end" transform="translate(81.4 1000.2) scale(1 1.07)">8</text>
<text x="0" y="0" font-size="17.2" fill="#000" text-anchor="end" transform="translate(81.4 1022.5) scale(1 1.07)">6</text>
<text x="0" y="0" font-size="17.2" fill="#000" text-anchor="end" transform="translate(81.4 1043.9) scale(1 1.07)">4</text>
<text x="0" y="0" font-size="17.2" fill="#000" text-anchor="end" transform="translate(81.4 1064.6) scale(1 1.07)">2</text>
<text x="0" y="0" font-size="17.2" fill="#000" text-anchor="end" transform="translate(81.4 1087.3) scale(1 1.07)">0</text>
<line x1="101.1" y1="1095.6" x2="243.7" y2="1095.6" stroke="#000" stroke-width="1.3"/>
<line x1="101.1" y1="1095.6" x2="101.1" y2="1098.6" stroke="#000" stroke-width="1.3"/>
<line x1="136.5" y1="1095.6" x2="136.5" y2="1098.6" stroke="#000" stroke-width="1.3"/>
<line x1="171.9" y1="1095.6" x2="171.9" y2="1098.6" stroke="#000" stroke-width="1.3"/>
<line x1="242.7" y1="1095.6" x2="242.7" y2="1098.6" stroke="#000" stroke-width="1.3"/>
<text x="0" y="0" font-size="17.2" fill="#000" text-anchor="middle" transform="translate(98.5 1114.2) scale(1 1.07)">0</text>
<text x="0" y="0" font-size="17.2" fill="#000" text-anchor="middle" transform="translate(132 1114.2) scale(1 1.07)">20</text>
<text x="0" y="0" font-size="17.2" fill="#000" text-anchor="middle" transform="translate(167.5 1114.2) scale(1 1.07)">40</text>
<text x="0" y="0" font-size="17.2" fill="#000" text-anchor="middle" transform="translate(241 1114.2) scale(1 1.07)">80</text>
<path d="M101.1 1080.5 C102.58 1077.08 107 1066.25 110 1060 C113 1053.75 115.85 1047.93 119.1 1043 C122.35 1038.07 126.5 1033.45 129.5 1030.4 C132.5 1027.35 134.57 1025.5 137.1 1024.7 C139.63 1023.9 141.22 1024.02 144.7 1025.6 C148.18 1027.18 153.42 1030.57 158 1034.2 C162.58 1037.83 167.47 1043.62 172.2 1047.4 C176.93 1051.18 180.87 1054.05 186.4 1056.9 C191.93 1059.75 195.97 1062.35 205.4 1064.5 C214.83 1066.65 236.73 1068.92 243 1069.8" fill="none" stroke="#000" stroke-width="2" stroke-linecap="round" stroke-linejoin="round"/>
<path d="M101.1 1083.7 C102.58 1082.08 107 1076.68 110 1074 C113 1071.32 115.85 1069.5 119.1 1067.6 C122.35 1065.7 126.5 1063.8 129.5 1062.6 C132.5 1061.4 134.57 1060.87 137.1 1060.4 C139.63 1059.93 141.22 1059.58 144.7 1059.8 C148.18 1060.02 153.42 1060.67 158 1061.7 C162.58 1062.73 165.88 1064.27 172.2 1066 C178.52 1067.73 184.1 1070.07 195.9 1072.1 C207.7 1074.13 235.15 1077.18 243 1078.2" fill="none" stroke="#0000ff" stroke-width="2" stroke-linecap="round" stroke-linejoin="round"/>
<line x1="119.1" y1="1037.5" x2="119.1" y2="1048.5" stroke="#000" stroke-width="1.8"/>
<line x1="137.1" y1="1019.5" x2="137.1" y2="1030" stroke="#000" stroke-width="1.8"/>
<circle cx="101.1" cy="1080.5" r="3" fill="#000"/>
<circle cx="119.1" cy="1043" r="3" fill="#000"/>
<circle cx="137.1" cy="1024.7" r="3" fill="#000"/>
<circle cx="172.2" cy="1047.4" r="3" fill="#000"/>
<circle cx="243" cy="1069.8" r="3" fill="#000"/>
<circle cx="101.1" cy="1083.7" r="3" fill="#0000ff"/>
<circle cx="119.1" cy="1067.6" r="3" fill="#0000ff"/>
<circle cx="137.1" cy="1060.4" r="3" fill="#0000ff"/>
<circle cx="172.2" cy="1066" r="3" fill="#0000ff"/>
<circle cx="243" cy="1078.2" r="3" fill="#0000ff"/>
<line x1="271.1" y1="1095.3" x2="412.6" y2="1095.3" stroke="#000" stroke-width="1.3"/>
<line x1="271.1" y1="1095.3" x2="271.1" y2="1098.3" stroke="#000" stroke-width="1.3"/>
<line x1="305.8" y1="1095.3" x2="305.8" y2="1098.3" stroke="#000" stroke-width="1.3"/>
<line x1="341.2" y1="1095.3" x2="341.2" y2="1098.3" stroke="#000" stroke-width="1.3"/>
<line x1="412" y1="1095.3" x2="412" y2="1098.3" stroke="#000" stroke-width="1.3"/>
<text x="0" y="0" font-size="17.2" fill="#000" text-anchor="middle" transform="translate(269.9 1114.2) scale(1 1.07)">0</text>
<text x="0" y="0" font-size="17.2" fill="#000" text-anchor="middle" transform="translate(303.4 1114.2) scale(1 1.07)">20</text>
<text x="0" y="0" font-size="17.2" fill="#000" text-anchor="middle" transform="translate(338.7 1114.2) scale(1 1.07)">40</text>
<text x="0" y="0" font-size="17.2" fill="#000" text-anchor="middle" transform="translate(411.3 1114.2) scale(1 1.07)">80</text>
<path d="M270.4 1079.6 C271.13 1072.08 273.45 1046.98 274.8 1034.5 C276.15 1022.02 277.25 1011.95 278.5 1004.7 C279.75 997.45 280.72 993.82 282.3 991 C283.88 988.18 286.15 986.77 288 987.8 C289.85 988.83 290.38 992.23 293.4 997.2 C296.42 1002.17 301.75 1010.98 306.1 1017.6 C310.45 1024.22 313.63 1029.22 319.5 1036.9 C325.37 1044.58 334.27 1057.7 341.3 1063.7 C348.33 1069.7 354.17 1070.67 361.7 1072.9 C369.23 1075.13 378.15 1076.15 386.5 1077.1 C394.85 1078.05 407.58 1078.35 411.8 1078.6" fill="none" stroke="#000" stroke-width="2" stroke-linecap="round" stroke-linejoin="round"/>
<path d="M270.4 1086 C271.55 1083.62 274.37 1076.57 277.3 1071.7 C280.23 1066.83 284.68 1060.12 288 1056.8 C291.32 1053.48 294.18 1052.3 297.2 1051.8 C300.22 1051.3 302.38 1051.73 306.1 1053.8 C309.82 1055.87 313.63 1060.38 319.5 1064.2 C325.37 1068.02 334.27 1073.8 341.3 1076.7 C348.33 1079.6 349.95 1080.65 361.7 1081.6 C373.45 1082.55 403.45 1082.27 411.8 1082.4" fill="none" stroke="#0000ff" stroke-width="2" stroke-linecap="round" stroke-linejoin="round"/>
<line x1="288" y1="976.9" x2="288" y2="1000.2" stroke="#000" stroke-width="1.8"/>
<line x1="306.1" y1="1009.5" x2="306.1" y2="1026" stroke="#000" stroke-width="1.8"/>
<line x1="288" y1="1051" x2="288" y2="1063" stroke="#0000ff" stroke-width="1.8"/>
<line x1="306.1" y1="1048" x2="306.1" y2="1060" stroke="#0000ff" stroke-width="1.8"/>
<circle cx="270.4" cy="1079.6" r="3" fill="#000"/>
<circle cx="288" cy="988.5" r="3" fill="#000"/>
<circle cx="306.1" cy="1017.6" r="3" fill="#000"/>
<circle cx="341.3" cy="1063.7" r="3" fill="#000"/>
<circle cx="411.8" cy="1078.6" r="3" fill="#000"/>
<circle cx="270.4" cy="1086" r="3" fill="#0000ff"/>
<circle cx="288" cy="1056.8" r="3" fill="#0000ff"/>
<circle cx="306.1" cy="1053.8" r="3" fill="#0000ff"/>
<circle cx="341.3" cy="1076.7" r="3" fill="#0000ff"/>
<circle cx="411.8" cy="1082.4" r="3" fill="#0000ff"/>
<text x="118.1" y="1137.8" font-size="17.5" fill="#000" text-anchor="start">Diameter (°)</text>
<text x="295" y="1137.8" font-size="17.5" fill="#000" text-anchor="start">Diameter (°)</text>
<text x="435.6" y="778.2" font-size="35.5" fill="#000" text-anchor="start">e</text>
<line x1="500.2" y1="778.3" x2="500.2" y2="907.3" stroke="#000" stroke-width="1.3"/>
<line x1="496.7" y1="779.1" x2="500.2" y2="779.1" stroke="#000" stroke-width="1.3"/>
<line x1="496.7" y1="800.5" x2="500.2" y2="800.5" stroke="#000" stroke-width="1.3"/>
<line x1="496.7" y1="821.9" x2="500.2" y2="821.9" stroke="#000" stroke-width="1.3"/>
<line x1="496.7" y1="843.3" x2="500.2" y2="843.3" stroke="#000" stroke-width="1.3"/>
<line x1="496.7" y1="864.7" x2="500.2" y2="864.7" stroke="#000" stroke-width="1.3"/>
<line x1="496.7" y1="886.1" x2="500.2" y2="886.1" stroke="#000" stroke-width="1.3"/>
<line x1="496.7" y1="907.5" x2="500.2" y2="907.5" stroke="#000" stroke-width="1.3"/>
<text x="494.6" y="779" font-size="18" fill="#000" text-anchor="end">6</text>
<text x="494.6" y="801.8" font-size="18" fill="#000" text-anchor="end">4</text>
<text x="494.6" y="827.1" font-size="18" fill="#000" text-anchor="end">2</text>
<text x="494.6" y="848" font-size="18" fill="#000" text-anchor="end">0</text>
<text x="494.6" y="871.5" font-size="18" fill="#000" text-anchor="end">-2</text>
<text x="494.6" y="896" font-size="18" fill="#000" text-anchor="end">-4</text>
<text x="494.6" y="916.9" font-size="18" fill="#000" text-anchor="end">-6</text>
<line x1="510.5" y1="917.8" x2="664.1" y2="917.8" stroke="#000" stroke-width="1.3"/>
<line x1="510.5" y1="914.8" x2="510.5" y2="917.8" stroke="#000" stroke-width="1.3"/>
<line x1="548.9" y1="914.8" x2="548.9" y2="917.8" stroke="#000" stroke-width="1.3"/>
<line x1="587.3" y1="914.8" x2="587.3" y2="917.8" stroke="#000" stroke-width="1.3"/>
<line x1="664.1" y1="914.8" x2="664.1" y2="917.8" stroke="#000" stroke-width="1.3"/>
<text x="511.6" y="935" font-size="18" fill="#000" text-anchor="middle">0</text>
<text x="547.2" y="935" font-size="18" fill="#000" text-anchor="middle">20</text>
<text x="585.9" y="935" font-size="18" fill="#000" text-anchor="middle">40</text>
<text x="664" y="935" font-size="18" fill="#000" text-anchor="middle">80</text>
<text x="591" y="953.2" font-size="18" fill="#000" text-anchor="middle">Diameter (°)</text>
<text x="455.6" y="841.5" font-size="17.2" fill="#000" text-anchor="middle" transform="rotate(-90 455.6 841.5)">Z-scored F</text>
<text x="473" y="841.3" font-size="17.4" fill="#000" text-anchor="middle" transform="rotate(-90 473 841.3)">(opto-ctrl)-(opto<tspan font-size="11.5" dy="3">Spont</tspan><tspan dy="-3">)</tspan></text>
<line x1="513.5" y1="843.2" x2="664" y2="843.2" stroke="#8c8c8c" stroke-width="2" stroke-dasharray="6 6"/>
<polyline points="513.5,843.3 532.6,836.4 551.6,822.2 589.6,830.5 665.6,848.9" fill="none" stroke="#ff8070" stroke-width="2.4" stroke-linejoin="round" stroke-linecap="round"/>
<line x1="513.5" y1="837" x2="513.5" y2="850" stroke="#ff8070" stroke-width="2"/>
<line x1="532.6" y1="830" x2="532.6" y2="843" stroke="#ff8070" stroke-width="2"/>
<line x1="551.6" y1="817" x2="551.6" y2="828" stroke="#ff8070" stroke-width="2"/>
<line x1="589.6" y1="823" x2="589.6" y2="840" stroke="#ff8070" stroke-width="2"/>
<line x1="665.6" y1="843" x2="665.6" y2="854" stroke="#ff8070" stroke-width="2"/>
<circle cx="513.5" cy="843.3" r="3" fill="#ff8070"/>
<circle cx="532.6" cy="836.4" r="3" fill="#ff8070"/>
<circle cx="551.6" cy="822.2" r="3" fill="#ff8070"/>
<circle cx="589.6" cy="830.5" r="3" fill="#ff8070"/>
<circle cx="665.6" cy="848.9" r="3" fill="#ff8070"/>
<polyline points="513.5,843.3 532.6,865.4 551.6,877.3 589.6,859.1 665.6,846.2" fill="none" stroke="#8080ff" stroke-width="2.4" stroke-linejoin="round" stroke-linecap="round"/>
<circle cx="513.5" cy="843.3" r="3" fill="#8080ff"/>
<circle cx="532.6" cy="865.4" r="3" fill="#8080ff"/>
<circle cx="551.6" cy="877.3" r="3" fill="#8080ff"/>
<circle cx="589.6" cy="859.1" r="3" fill="#8080ff"/>
<circle cx="665.6" cy="846.2" r="3" fill="#8080ff"/>
<polyline points="513.5,843.3 532.6,825 551.6,804.9 589.6,824.4 665.6,835.6" fill="none" stroke="#ff0000" stroke-width="2.4" stroke-linejoin="round" stroke-linecap="round"/>
<line x1="532.6" y1="819" x2="532.6" y2="832" stroke="#ff0000" stroke-width="2"/>
<line x1="551.6" y1="798" x2="551.6" y2="812" stroke="#ff0000" stroke-width="2"/>
<line x1="589.6" y1="816" x2="589.6" y2="833" stroke="#ff0000" stroke-width="2"/>
<line x1="665.6" y1="829" x2="665.6" y2="842" stroke="#ff0000" stroke-width="2"/>
<circle cx="513.5" cy="843.3" r="3" fill="#ff0000"/>
<circle cx="532.6" cy="825" r="3" fill="#ff0000"/>
<circle cx="551.6" cy="804.9" r="3" fill="#ff0000"/>
<circle cx="589.6" cy="824.4" r="3" fill="#ff0000"/>
<circle cx="665.6" cy="835.6" r="3" fill="#ff0000"/>
<polyline points="513.5,843.3 532.6,903.2 551.6,873 589.6,850 665.6,840.1" fill="none" stroke="#0000ff" stroke-width="2.4" stroke-linejoin="round" stroke-linecap="round"/>
<line x1="532.6" y1="895" x2="532.6" y2="911" stroke="#0000ff" stroke-width="2"/>
<line x1="551.6" y1="867" x2="551.6" y2="880" stroke="#0000ff" stroke-width="2"/>
<circle cx="513.5" cy="843.3" r="3" fill="#0000ff"/>
<circle cx="532.6" cy="903.2" r="3" fill="#0000ff"/>
<circle cx="551.6" cy="873" r="3" fill="#0000ff"/>
<circle cx="589.6" cy="850" r="3" fill="#0000ff"/>
<circle cx="665.6" cy="840.1" r="3" fill="#0000ff"/>
<line x1="606.7" y1="777" x2="620.4" y2="777" stroke="#ff8070" stroke-width="1.7"/>
<line x1="606.7" y1="780.6" x2="620.4" y2="780.6" stroke="#8080ff" stroke-width="1.7"/>
<line x1="606.7" y1="797.1" x2="620.4" y2="797.1" stroke="#ff0000" stroke-width="1.7"/>
<line x1="606.7" y1="800.7" x2="620.4" y2="800.7" stroke="#0000ff" stroke-width="1.7"/>
<text x="622.3" y="784.7" font-size="17.7" fill="#000" text-anchor="start">P15-17</text>
<text x="622.3" y="805.2" font-size="17.7" fill="#000" text-anchor="start">P24-26</text>
<text x="436.2" y="982.5" font-size="35" fill="#000" text-anchor="start">f</text>
<line x1="506.8" y1="972.4" x2="506.8" y2="1096.6" stroke="#000" stroke-width="1.4"/>
<line x1="504.3" y1="997.5" x2="506.8" y2="997.5" stroke="#000" stroke-width="1.4"/>
<line x1="504.3" y1="1046.5" x2="506.8" y2="1046.5" stroke="#000" stroke-width="1.4"/>
<line x1="504.3" y1="1096.4" x2="506.8" y2="1096.4" stroke="#000" stroke-width="1.4"/>
<text x="499.3" y="1005.5" font-size="17.3" fill="#000" text-anchor="end">2</text>
<text x="499.3" y="1053.3" font-size="17.3" fill="#000" text-anchor="end">1</text>
<text x="499.3" y="1102.3" font-size="17.3" fill="#000" text-anchor="end">0</text>
<text x="477.2" y="1035.2" font-size="17.3" fill="#000" text-anchor="middle" transform="rotate(-90 477.2 1035.2)">SSI (opto-ctrl)</text>
<line x1="532.85" y1="990.1" x2="532.85" y2="1077.4" stroke="#ee1c24" stroke-width="1.8"/>
<rect x="520.7" y="997.1" width="24.3" height="59.4" fill="#fbc4bf"/>
<line x1="520.7" y1="1041.9" x2="545" y2="1041.9" stroke="#a0281e" stroke-width="2"/>
<line x1="571.45" y1="1007.9" x2="571.45" y2="1095.8" stroke="#ee1c24" stroke-width="1.8"/>
<rect x="559.5" y="1037.1" width="23.9" height="24.8" fill="#fbc4bf"/>
<line x1="559.5" y1="1049.2" x2="583.4" y2="1049.2" stroke="#a0281e" stroke-width="2"/>
<line x1="622.65" y1="1018.1" x2="622.65" y2="1084.6" stroke="#2222ee" stroke-width="1.8"/>
<rect x="610.5" y="1042.4" width="24.3" height="18" fill="#b6b8fa"/>
<line x1="610.5" y1="1052" x2="634.8" y2="1052" stroke="#1c1ca8" stroke-width="2"/>
<line x1="658.25" y1="1009.6" x2="658.25" y2="1071" stroke="#2222ee" stroke-width="1.8"/>
<rect x="646.3" y="1035" width="23.9" height="17.8" fill="#b6b8fa"/>
<line x1="646.3" y1="1044.5" x2="670.2" y2="1044.5" stroke="#1c1ca8" stroke-width="2"/>
<line x1="533.4" y1="986.5" x2="569.8" y2="986.5" stroke="#000" stroke-width="1.6"/>
<text x="552.3" y="984" font-size="17.2" fill="#000" text-anchor="middle">n.s.</text>
<line x1="620" y1="987.8" x2="656.8" y2="987.8" stroke="#000" stroke-width="1.8"/>
<text x="639.7" y="992.4" font-size="22" fill="#000" text-anchor="middle">**</text>
<text x="541.8" y="1106.3" font-size="16" fill="#000" text-anchor="end" transform="rotate(-45 541.8 1106.3)">P15-17</text>
<text x="580.5" y="1106.3" font-size="16" fill="#000" text-anchor="end" transform="rotate(-45 580.5 1106.3)">P24-26</text>
<text x="631.6" y="1106.3" font-size="16" fill="#000" text-anchor="end" transform="rotate(-45 631.6 1106.3)">P15-17</text>
<text x="667.2" y="1106.3" font-size="16" fill="#000" text-anchor="end" transform="rotate(-45 667.2 1106.3)">P24-26</text>
</svg>
</body></html>
